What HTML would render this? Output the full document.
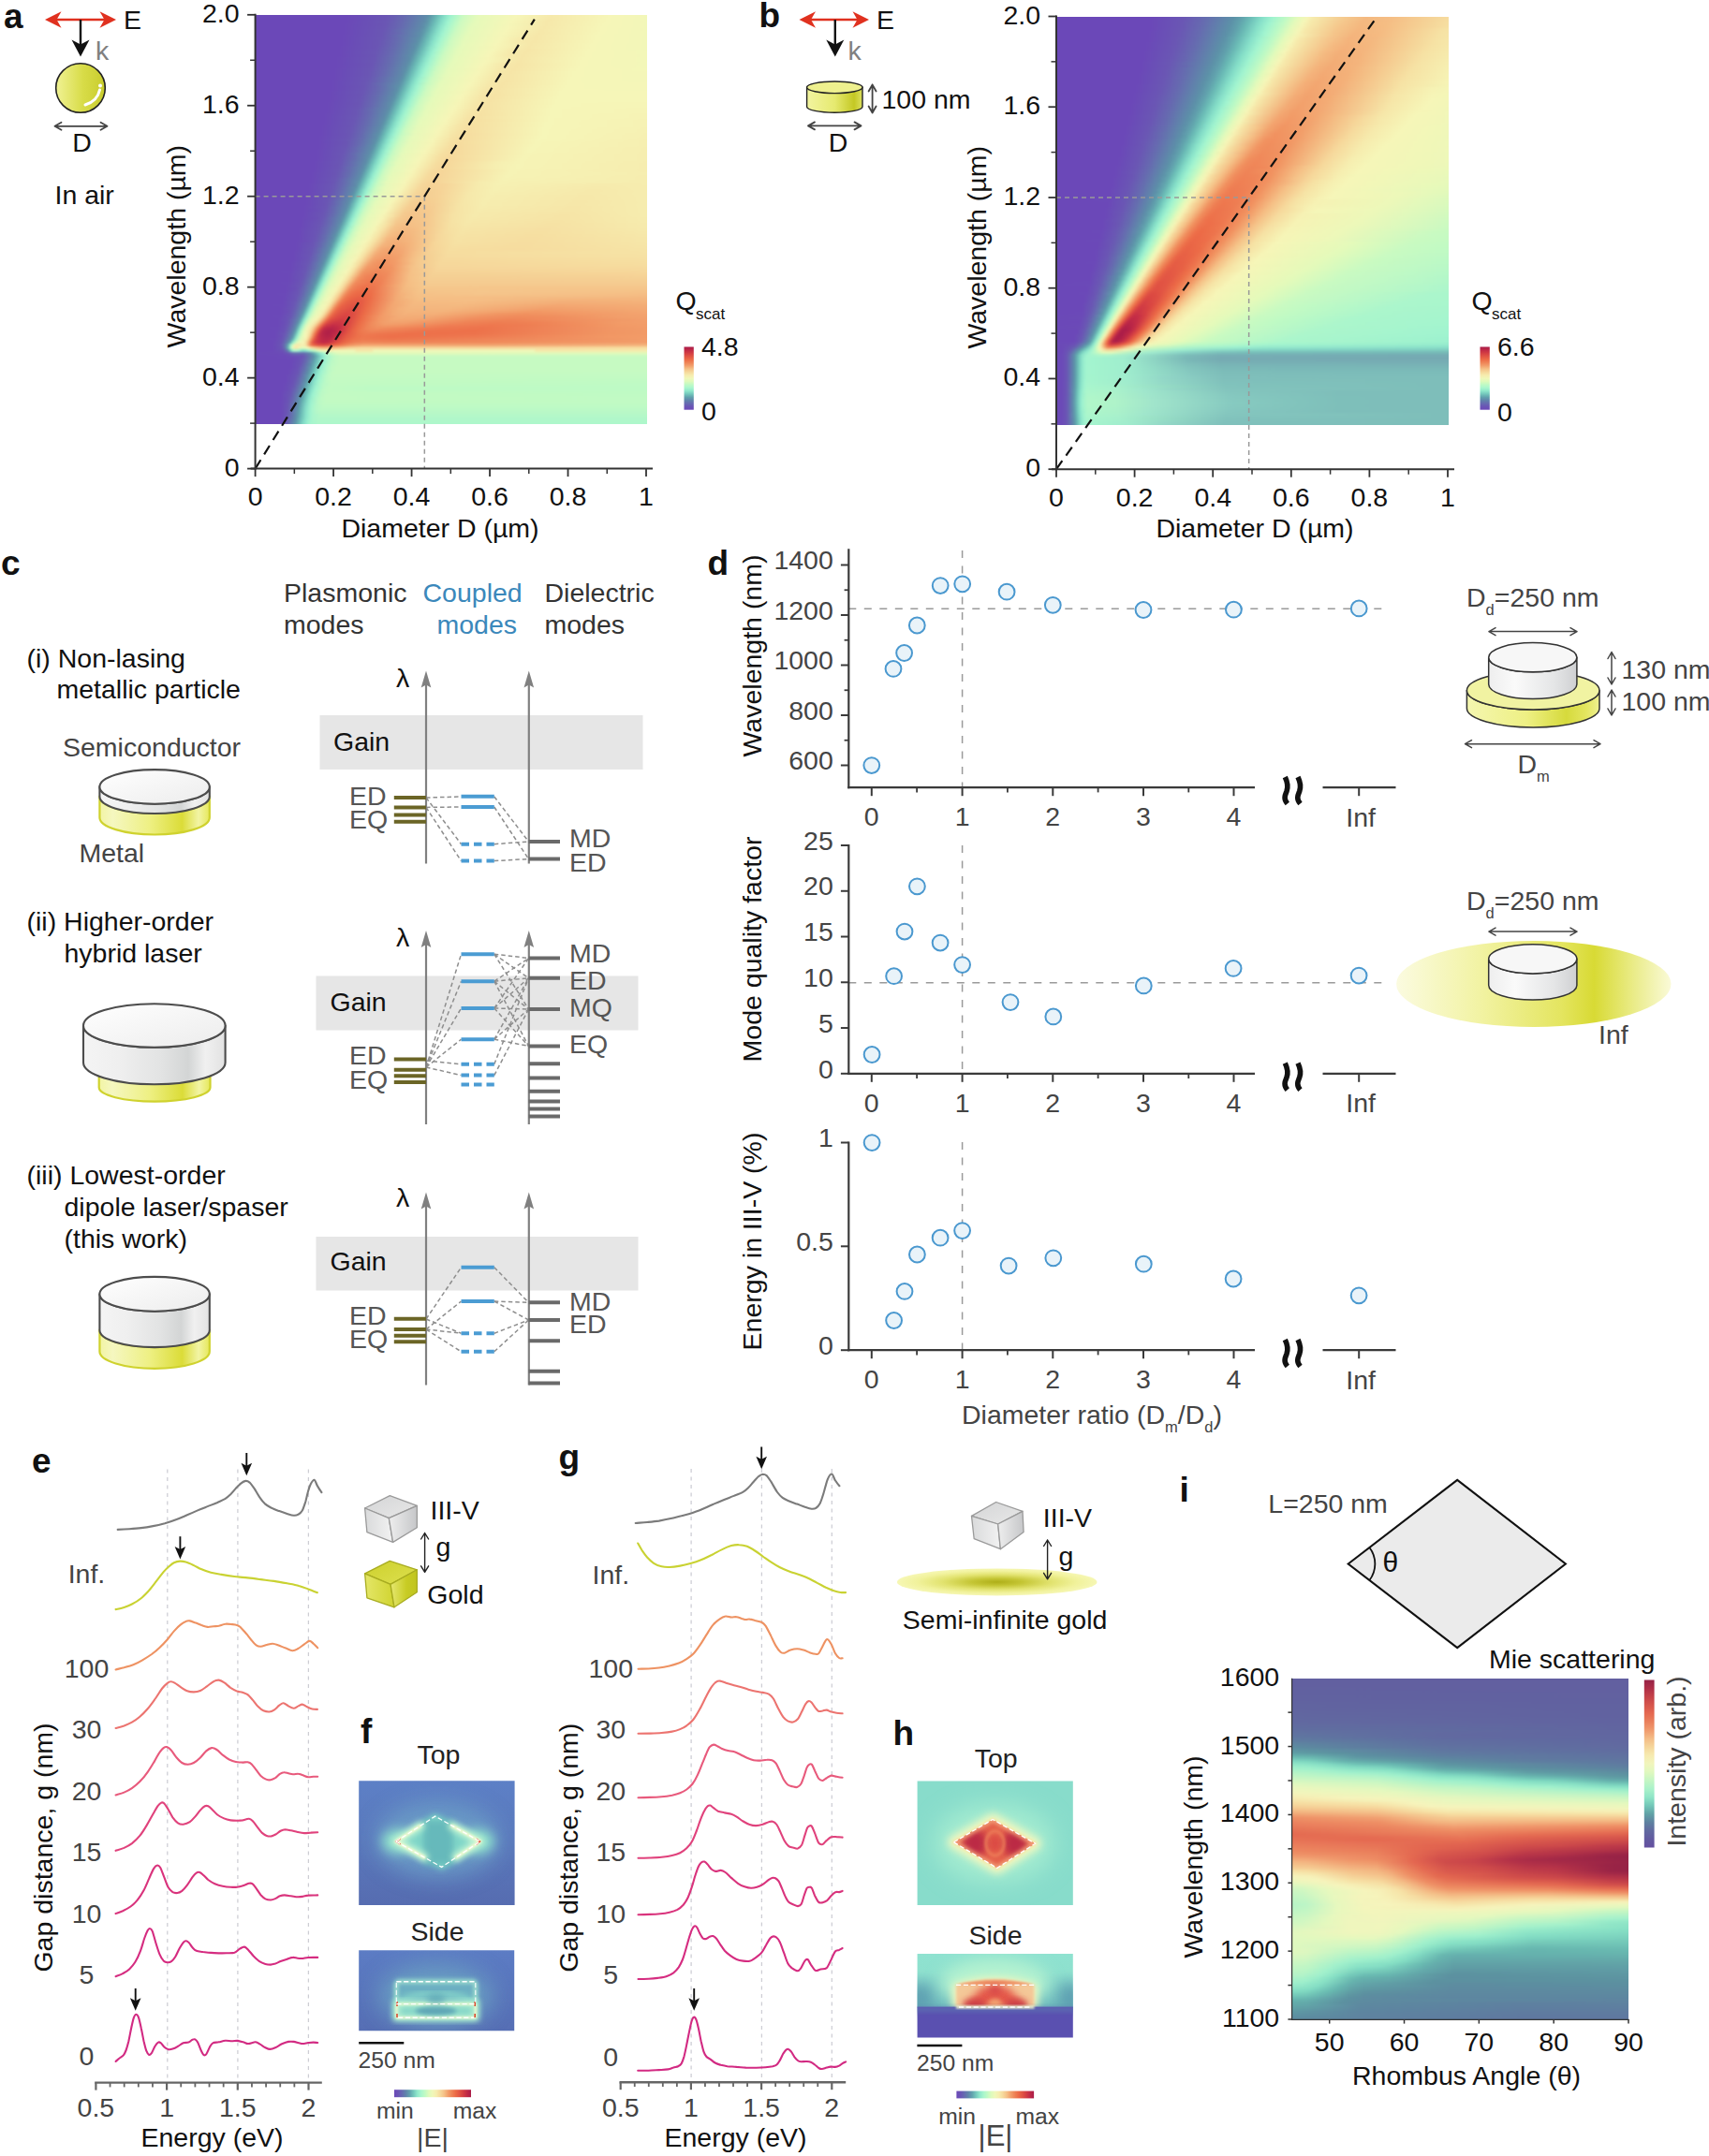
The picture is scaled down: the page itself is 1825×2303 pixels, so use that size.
<!DOCTYPE html>
<html><head><meta charset="utf-8"><title>figure</title>
<style>
html,body{margin:0;padding:0;background:#fff}
#root{position:relative;width:1825px;height:2303px;overflow:hidden;background:#fff}
#root i{display:block;width:100%}
svg{position:absolute;left:0;top:0}
text{font-family:'Liberation Sans', sans-serif}
</style></head><body>
<div id="root">
<div style="position:absolute;left:273px;top:15.8px;width:417.5px;height:437.4px;overflow:hidden">
<div style="position:absolute;left:-6px;top:-6px;width:429.5px;height:450px;filter:blur(1.2px)">
<i style="height:3px;background:linear-gradient(90deg,#6b48b8 0%,#6b48b8 23.9%,#6a57b4 34.59%,#666cb0 38.99%,#5c93a8 44.65%,#69bab5 46.54%,#87e0c9 48.43%,#a4f5ce 50.31%,#befac5 52.2%,#cffac0 53.46%,#e5faba 56.6%,#f6f6b8 66.04%,#f6e9ab 74.84%,#f6f6b8 89.31%,#f2f7b8 100%)"></i>
<i style="height:3px;background:linear-gradient(90deg,#6b48b8 0%,#6b48b8 23.9%,#6a57b4 34.59%,#666cb0 38.99%,#5c93a8 44.65%,#69bab5 46.54%,#87e0c9 48.43%,#a4f5ce 50.31%,#befac5 52.2%,#cffac0 53.46%,#e5faba 56.6%,#f6f6b8 66.04%,#f6e9ab 74.84%,#f6f6b8 89.31%,#f2f7b8 100%)"></i>
<i style="height:3px;background:linear-gradient(90deg,#6b48b8 0%,#6b48b8 23.9%,#6a55b4 33.96%,#656daf 38.99%,#5d8ca9 44.03%,#5d96a9 44.65%,#6cbdb7 46.54%,#89e2c9 48.43%,#9ef2cf 49.69%,#c1fac4 52.2%,#ccfac1 52.83%,#e6faba 56.6%,#f6f6b8 66.04%,#f6e9ab 74.84%,#f6f6b8 89.31%,#f2f7b8 100%)"></i>
<i style="height:3px;background:linear-gradient(90deg,#6b48b8 0%,#6b48b8 23.9%,#6a56b4 33.96%,#666bb0 38.36%,#5e8aaa 43.4%,#5f9cab 44.65%,#68b7b4 45.91%,#84dec8 47.8%,#a3f5cf 49.69%,#bdf9c5 51.57%,#cffac0 52.83%,#e5faba 55.97%,#f6f6b8 65.41%,#f6e8aa 74.21%,#f6f6b8 88.68%,#f2f7b8 100%)"></i>
<i style="height:3px;background:linear-gradient(90deg,#6b48b8 0%,#6b48b8 23.9%,#6a57b4 33.96%,#666cb0 38.36%,#5e8ca9 43.4%,#5d95a9 44.03%,#6cbdb7 45.91%,#89e2ca 47.8%,#9ef3d0 49.06%,#c2fac3 51.57%,#cdfac0 52.2%,#e6faba 55.97%,#f6f6b8 64.78%,#f6e8aa 73.58%,#f6f6b8 88.68%,#f2f7b8 100%)"></i>
<i style="height:3px;background:linear-gradient(90deg,#6b48b8 0%,#6b48b8 23.27%,#6a55b4 33.33%,#666ab0 37.74%,#5e8aaa 42.77%,#5f9bab 44.03%,#67b6b3 45.28%,#85dec8 47.17%,#a3f5cf 49.06%,#befac5 50.94%,#cffac0 52.2%,#e5faba 55.35%,#f5f6b8 64.15%,#f6e8aa 73.58%,#f6f6b8 88.05%,#f2f7b8 100%)"></i>
<i style="height:3px;background:linear-gradient(90deg,#6b48b8 0%,#6b48b8 23.27%,#6a56b4 33.33%,#666bb0 37.74%,#5e8ca9 42.77%,#5d94a9 43.4%,#6cbdb7 45.28%,#8ae2ca 47.17%,#9ff3d0 48.43%,#c3fac3 50.94%,#cdfac0 51.57%,#e4faba 54.72%,#f6f6b8 64.15%,#f6e8aa 72.96%,#f6f6b8 87.42%,#f2f7b8 100%)"></i>
<i style="height:3px;background:linear-gradient(90deg,#6b48b8 0%,#6b48b8 23.27%,#6a57b4 33.33%,#5e8aaa 42.14%,#5f9bab 43.4%,#67b6b3 44.65%,#85dfc8 46.54%,#a4f5cf 48.43%,#bffac5 50.31%,#d0fac0 51.57%,#e6faba 54.72%,#f6f6b8 63.52%,#f6e8aa 72.33%,#f6f6b8 87.42%,#f2f7b8 100%)"></i>
<i style="height:3px;background:linear-gradient(90deg,#6b48b8 0%,#6b48b8 23.27%,#6a56b4 32.7%,#666bb0 37.11%,#5c93a8 42.77%,#6cbdb7 44.65%,#8ae3ca 46.54%,#a0f4d0 47.8%,#bbf9c6 49.69%,#cefac0 50.94%,#e5faba 54.09%,#f6f6b8 62.89%,#f6e7a9 71.7%,#f6f6b8 86.79%,#f2f7b8 100%)"></i>
<i style="height:3px;background:linear-gradient(90deg,#6b48b8 0%,#6b48b8 22.64%,#6a56b4 32.7%,#5e89aa 41.51%,#5d8ea9 42.14%,#5f9aab 42.77%,#67b6b3 44.03%,#85dfc8 45.91%,#a4f5ce 47.8%,#c0fac4 49.69%,#cbfac1 50.31%,#e4faba 53.46%,#f5f6b8 62.26%,#f6e7a9 71.07%,#f6f6b8 86.16%,#f2f7b8 100%)"></i>
<i style="height:3px;background:linear-gradient(90deg,#6b48b8 0%,#6b48b8 22.64%,#6a57b4 32.7%,#666ab0 36.48%,#5c93a8 42.14%,#6bbdb6 44.03%,#8ae3ca 45.91%,#a0f4d0 47.17%,#bcf9c6 49.06%,#cffac0 50.31%,#e5faba 53.46%,#f6f6b8 62.26%,#f6eaac 67.3%,#f6e7a9 71.07%,#f6f6b8 86.16%,#f2f7b8 100%)"></i>
<i style="height:3px;background:linear-gradient(90deg,#6b48b8 0%,#6b48b8 22.64%,#6a56b4 32.08%,#666cb0 36.48%,#5e89aa 40.88%,#5d8ea9 41.51%,#5e99aa 42.14%,#67b5b3 43.4%,#85dfc8 45.28%,#a5f5ce 47.17%,#c1fac4 49.06%,#cdfac1 49.69%,#e4faba 52.83%,#f6f6b8 61.64%,#f6eaac 66.67%,#f6e7a9 70.44%,#f6f6b8 85.53%,#f2f7b8 100%)"></i>
<i style="height:3px;background:linear-gradient(90deg,#6b48b8 0%,#6b48b8 22.64%,#6a56b4 32.08%,#6669b0 35.85%,#5c92a8 41.51%,#6bbcb6 43.4%,#8be3ca 45.28%,#a1f4d0 46.54%,#bdf9c5 48.43%,#cffac0 49.69%,#e6faba 52.83%,#f6f6b8 61.01%,#f6e7a9 69.81%,#f6f6b8 84.91%,#f2f7b8 100%)"></i>
<i style="height:3px;background:linear-gradient(90deg,#6b48b8 0%,#6b48b8 22.01%,#6a55b4 31.45%,#666bb0 35.85%,#5d8da9 40.88%,#5e99aa 41.51%,#67b5b3 42.77%,#86dfc8 44.65%,#a6f5ce 46.54%,#c2fac3 48.43%,#cdfac0 49.06%,#e5faba 52.2%,#f6f5b7 61.01%,#f6e7a9 69.18%,#f6f6b8 84.91%,#f2f7b8 100%)"></i>
<i style="height:3px;background:linear-gradient(90deg,#6b48b8 0%,#6b48b8 22.01%,#6a56b4 31.45%,#656daf 35.85%,#5c91a8 40.88%,#6bbcb6 42.77%,#8be3ca 44.65%,#a1f4d0 45.91%,#befac5 47.8%,#d0fac0 49.06%,#e4faba 51.57%,#f6f6b8 60.38%,#f6e9ab 65.41%,#f6e6a8 69.18%,#f6f6b8 84.28%,#f2f7b8 100%)"></i>
<i style="height:3px;background:linear-gradient(90deg,#6b48b8 0%,#6b48b8 22.01%,#6a57b4 31.45%,#666ab0 35.22%,#5d8da9 40.25%,#5e98aa 40.88%,#67b5b3 42.14%,#86dfc9 44.03%,#9cf1cf 45.28%,#c4fac3 47.8%,#cefac0 48.43%,#e5faba 51.57%,#f6f6b8 59.75%,#f6e9ab 64.78%,#f6e6a8 68.55%,#f6f6b8 83.65%,#f3f7b8 100%)"></i>
<i style="height:3px;background:linear-gradient(90deg,#6b48b8 0%,#6b48b8 22.01%,#6a55b4 30.82%,#666cb0 35.22%,#5c91a8 40.25%,#6bbcb6 42.14%,#8be4ca 44.03%,#a2f4cf 45.28%,#bffac5 47.17%,#cbfac1 47.8%,#e4faba 50.94%,#f6f6b8 59.12%,#f6e9ab 64.15%,#f6e6a8 67.92%,#f6f6b8 83.65%,#f3f7b8 100%)"></i>
<i style="height:3px;background:linear-gradient(90deg,#6b48b8 0%,#6b48b8 21.38%,#6a56b4 30.82%,#656eaf 35.22%,#5d8ca9 39.62%,#5e97aa 40.25%,#67b5b3 41.51%,#86e0c9 43.4%,#9df1cf 44.65%,#baf9c6 46.54%,#cefac0 47.8%,#e6faba 50.94%,#f6f5b7 59.12%,#f6e6a8 67.3%,#f6f6b8 83.02%,#f3f7b8 100%)"></i>
<i style="height:3px;background:linear-gradient(90deg,#6b48b8 0%,#6b48b8 21.38%,#6a57b4 30.82%,#666bb0 34.59%,#5e8aaa 38.99%,#5c90a8 39.62%,#609eac 40.25%,#6bbcb6 41.51%,#8ce4ca 43.4%,#a3f4cf 44.65%,#c0fac4 46.54%,#ccfac1 47.17%,#e5faba 50.31%,#f6f6b8 58.49%,#f6e6a8 66.67%,#f6f6b8 82.39%,#f3f7b8 100%)"></i>
<i style="height:3px;background:linear-gradient(90deg,#6b48b8 0%,#6b48b8 21.38%,#6a55b4 30.19%,#656daf 34.59%,#5e8ca9 38.99%,#5d96a9 39.62%,#67b4b3 40.88%,#86e0c9 42.77%,#9df2cf 44.03%,#bbf9c6 45.91%,#cffac0 47.17%,#e4faba 49.69%,#f6f6b8 57.86%,#f6e8aa 62.89%,#f6e5a7 66.67%,#f6f6b8 82.39%,#f3f7b8 100%)"></i>
<i style="height:3px;background:linear-gradient(90deg,#6b48b8 0%,#6b48b8 21.38%,#6a56b4 30.19%,#666ab0 33.96%,#5e8aaa 38.36%,#5d90a8 38.99%,#609eac 39.62%,#6bbcb6 40.88%,#81dac6 42.14%,#98eece 43.4%,#a3f5cf 44.03%,#c1fac4 45.91%,#cdfac0 46.54%,#e5faba 49.69%,#f6f6b8 57.23%,#f6e9ab 62.26%,#f6e5a7 66.04%,#f6f6b8 81.76%,#f3f7b8 100%)"></i>
<i style="height:3px;background:linear-gradient(90deg,#6b48b8 0%,#6b48b8 20.75%,#6a57b4 30.19%,#666cb0 33.96%,#5e8ca9 38.36%,#5d96a9 38.99%,#67b4b3 40.25%,#87e0c9 42.14%,#9ef3cf 43.4%,#bcf9c5 45.28%,#d0fac0 46.54%,#e4faba 49.06%,#f6f5b7 57.23%,#f6e8aa 62.26%,#f6e5a7 65.41%,#f6f6b8 81.13%,#f4f7b8 100%)"></i>
<i style="height:3px;background:linear-gradient(90deg,#6b48b8 0%,#6b48b8 20.75%,#6a56b4 29.56%,#666ab0 33.33%,#5e89aa 37.74%,#5d8fa9 38.36%,#5f9dab 38.99%,#6bbbb6 40.25%,#81dac6 41.51%,#98eece 42.77%,#a4f5cf 43.4%,#c2fac3 45.28%,#cefac0 45.91%,#e6faba 49.06%,#f6f6b8 56.6%,#f6e8aa 61.64%,#f6e5a7 64.78%,#f6f6b8 80.5%,#f4f6b8 100%)"></i>
<i style="height:3px;background:linear-gradient(90deg,#6b48b8 0%,#6b48b8 20.75%,#6a56b4 29.56%,#666bb0 33.33%,#5e8ba9 37.74%,#5d95a9 38.36%,#67b4b3 39.62%,#87e0c9 41.51%,#9ff3d0 42.77%,#bdfac5 44.65%,#d1fabf 45.91%,#e5faba 48.43%,#f6f6b8 55.97%,#f6e8aa 61.01%,#f6e5a7 64.15%,#f6f6b8 80.5%,#f4f6b8 100%)"></i>
<i style="height:3px;background:linear-gradient(90deg,#6b48b8 0%,#6b48b8 20.75%,#6a58b4 29.56%,#5e89aa 37.11%,#5d8ea9 37.74%,#5f9cab 38.36%,#6abbb6 39.62%,#81dac6 40.88%,#99efce 42.14%,#c4fac3 44.65%,#cefac0 45.28%,#e7f9ba 48.43%,#f6f6b8 55.35%,#f6e8aa 60.38%,#f6e5a7 64.15%,#f6f6b8 79.87%,#f4f6b8 100%)"></i>
<i style="height:3px;background:linear-gradient(90deg,#6b48b8 0%,#6b48b8 20.13%,#6a56b4 28.93%,#666ab0 32.7%,#5e8ba9 37.11%,#5d94a9 37.74%,#67b3b3 38.99%,#87e1c9 40.88%,#a0f4d0 42.14%,#befac5 44.03%,#cbfac1 44.65%,#e5faba 47.8%,#f6f5b7 55.35%,#f6e7a9 60.38%,#f6e4a6 63.52%,#f6f6b8 79.25%,#f4f6b8 100%)"></i>
<i style="height:3px;background:linear-gradient(90deg,#6b48b8 0%,#6b48b8 20.13%,#6a57b4 28.93%,#5f89aa 36.48%,#5d8ea9 37.11%,#5f9bab 37.74%,#6abbb6 38.99%,#82dbc6 40.25%,#9aefce 41.51%,#c6fac2 44.03%,#e4faba 47.17%,#f6f6b8 54.72%,#f6e7a9 59.75%,#f6e4a6 62.89%,#f6f6b8 79.25%,#f5f6b8 100%)"></i>
<i style="height:3px;background:linear-gradient(90deg,#6b48b8 0%,#6b48b8 20.13%,#6a55b4 28.3%,#666ab0 32.08%,#5c93a8 37.11%,#66b3b2 38.36%,#88e1c9 40.25%,#a0f4d0 41.51%,#c0fac4 43.4%,#cdfac0 44.03%,#e6faba 47.17%,#f6f6b8 54.09%,#f6e7a9 59.12%,#f6e4a6 62.26%,#f6f6b8 78.62%,#f5f6b8 100%)"></i>
<i style="height:3px;background:linear-gradient(90deg,#6b48b8 0%,#6b48b8 20.13%,#6a56b4 28.3%,#666bb0 32.08%,#5d8da9 36.48%,#5f9bab 37.11%,#6abbb5 38.36%,#82dbc6 39.62%,#8ee6cb 40.25%,#a6f5ce 41.51%,#bbf9c6 42.77%,#d0fac0 44.03%,#e5faba 46.54%,#f5f6b8 53.46%,#f6e7a9 58.49%,#f6e4a6 61.64%,#f6f6b8 77.99%,#f5f6b8 100%)"></i>
<i style="height:3px;background:linear-gradient(90deg,#6b48b8 0%,#6b48b8 19.5%,#6a57b4 28.3%,#656daf 32.08%,#5c92a8 36.48%,#66b3b2 37.74%,#88e1c9 39.62%,#a1f4d0 40.88%,#c1fac4 42.77%,#cdfac0 43.4%,#e4faba 45.91%,#f6f5b7 53.46%,#f6e6a8 58.49%,#f6e4a6 61.64%,#f6f6b8 77.36%,#f6f6b8 100%)"></i>
<i style="height:3px;background:linear-gradient(90deg,#6b48b8 0%,#6b48b8 19.5%,#6a55b4 27.67%,#666bb0 31.45%,#5d8da9 35.85%,#5e9aaa 36.48%,#6abbb5 37.74%,#82dbc7 38.99%,#8ee6cb 39.62%,#a7f5ce 40.88%,#bcf9c6 42.14%,#d0fabf 43.4%,#e5faba 45.91%,#f6f6b8 52.83%,#f6e6a8 57.86%,#f6e3a5 61.01%,#f6f6b8 77.36%,#f6f6b8 100%)"></i>
<i style="height:3px;background:linear-gradient(90deg,#6b48b8 0%,#6b48b8 19.5%,#6a56b4 27.67%,#656daf 31.45%,#5c91a8 35.85%,#66b2b2 37.11%,#88e1c9 38.99%,#a2f4cf 40.25%,#c3fac3 42.14%,#cefac0 42.77%,#e4faba 45.28%,#f6f6b8 52.2%,#f6e6a8 57.23%,#f6e3a5 60.38%,#f6f6b8 76.73%,#f6f6b8 100%)"></i>
<i style="height:3px;background:linear-gradient(90deg,#6b48b8 0%,#6b48b8 19.5%,#6a57b4 27.67%,#666ab0 30.82%,#5d8ca9 35.22%,#5e99aa 35.85%,#6abab5 37.11%,#82dcc7 38.36%,#9cf1cf 39.62%,#bdf9c5 41.51%,#cbfac1 42.14%,#e6faba 45.28%,#f6f5b7 52.2%,#f6e7a9 56.6%,#f6e3a5 59.75%,#f6f6b8 76.1%,#f6f6b8 100%)"></i>
<i style="height:3px;background:linear-gradient(90deg,#6b48b8 0%,#6b48b8 18.87%,#6a55b4 27.04%,#666cb0 30.82%,#5c91a8 35.22%,#66b2b2 36.48%,#89e2c9 38.36%,#a2f4cf 39.62%,#c4fac3 41.51%,#cffac0 42.14%,#e5faba 44.65%,#f6f5b7 51.57%,#f6e7a9 55.97%,#f6e3a5 59.12%,#f6f6b8 76.1%,#f6f5b7 100%)"></i>
<i style="height:3px;background:linear-gradient(90deg,#6b48b8 0%,#6b48b8 18.87%,#6a56b4 27.04%,#6669b0 30.19%,#5e8ca9 34.59%,#5e98aa 35.22%,#69bab5 36.48%,#82dcc7 37.74%,#9cf1cf 38.99%,#befac5 40.88%,#ccfac1 41.51%,#e4faba 44.03%,#f6f6b8 50.94%,#f6e6a8 55.97%,#f6e3a5 59.12%,#f6f6b8 75.47%,#f6f5b7 100%)"></i>
<i style="height:3px;background:linear-gradient(90deg,#6b48b8 0%,#6b48b8 18.87%,#6a58b4 27.04%,#5e89aa 33.96%,#5c90a8 34.59%,#61a0ad 35.22%,#70c2b9 36.48%,#89e2c9 37.74%,#96eccd 38.36%,#a3f5cf 38.99%,#c6fac2 40.88%,#e6faba 44.03%,#f6f6b8 50.31%,#f6e6a8 55.35%,#f6e2a4 58.49%,#f6f6b8 74.84%,#f6f4b6 100%)"></i>
<i style="height:3px;background:linear-gradient(90deg,#6b48b8 0%,#6b48b8 18.87%,#6a56b4 26.42%,#656daf 30.19%,#5e8ca9 33.96%,#5e97aa 34.59%,#69bab5 35.85%,#83dcc7 37.11%,#9df2cf 38.36%,#c0fac4 40.25%,#cdfac0 40.88%,#e4faba 43.4%,#f6f5b7 50.31%,#f6e6a8 54.72%,#f6e2a4 57.86%,#f6f6b8 74.84%,#f6f4b6 100%)"></i>
<i style="height:3px;background:linear-gradient(90deg,#6b48b8 0%,#6b48b8 18.24%,#6a56b4 26.42%,#666ab0 29.56%,#5e89aa 33.33%,#5d8fa9 33.96%,#60a0ac 34.59%,#70c2b9 35.85%,#89e2c9 37.11%,#a4f5cf 38.36%,#baf9c6 39.62%,#d0fabf 40.88%,#e6faba 43.4%,#f6f5b7 49.69%,#f6e6a8 54.09%,#f6e1a3 57.23%,#f6f6b8 74.84%,#f6f3b5 100%)"></i>
<i style="height:3px;background:linear-gradient(90deg,#6b48b8 0%,#6b48b8 18.24%,#6a58b4 26.42%,#666cb0 29.56%,#5e8ba9 33.33%,#5d96a9 33.96%,#69b9b5 35.22%,#83ddc7 36.48%,#9ef2cf 37.74%,#c1fac4 39.62%,#cefac0 40.25%,#e5faba 42.77%,#f6f6b8 49.06%,#f6e4a6 54.09%,#f6e1a3 56.6%,#f6f6b8 74.21%,#f6f3b5 100%)"></i>
<i style="height:3px;background:linear-gradient(90deg,#6b48b8 0%,#6b48b8 18.24%,#6a56b4 25.79%,#6669b0 28.93%,#5f89aa 32.7%,#5d8fa9 33.33%,#609fac 33.96%,#70c2b9 35.22%,#8ae2ca 36.48%,#a4f5ce 37.74%,#bcf9c6 38.99%,#cafac1 39.62%,#e4faba 42.14%,#f6f6b8 48.43%,#f6e4a6 53.46%,#f6e0a2 56.6%,#f6f6b8 74.21%,#f6f2b4 100%)"></i>
<i style="height:3px;background:linear-gradient(90deg,#6b48b8 0%,#6b48b8 18.24%,#6a57b4 25.79%,#666bb0 28.93%,#5e8ba9 32.7%,#5d95a9 33.33%,#69b9b5 34.59%,#83ddc7 35.85%,#9ff3d0 37.11%,#c3fac3 38.99%,#cffac0 39.62%,#e6faba 42.14%,#f6f5b7 48.43%,#f6e4a6 52.83%,#f6e0a2 55.97%,#f6f6b8 73.58%,#f6f2b4 100%)"></i>
<i style="height:3px;background:linear-gradient(90deg,#6b48b8 0%,#6b48b8 17.61%,#6a55b4 25.16%,#6668b0 28.3%,#5f88aa 32.08%,#5d8ea9 32.7%,#609eac 33.33%,#6fc2b9 34.59%,#8ae3ca 35.85%,#a5f5ce 37.11%,#bdf9c5 38.36%,#cbfac1 38.99%,#e4faba 41.51%,#f6f5b7 47.8%,#f6e4a6 52.2%,#f6dfa1 55.35%,#f6f6b8 73.58%,#f6f2b4 100%)"></i>
<i style="height:3px;background:linear-gradient(90deg,#6b48b8 0%,#6b48b8 17.61%,#6a56b4 25.16%,#666ab0 28.3%,#5e8ba9 32.08%,#5d94a9 32.7%,#69b9b4 33.96%,#84ddc8 35.22%,#a0f4d0 36.48%,#c5fac3 38.36%,#cffac0 38.99%,#e6f9ba 41.51%,#f6f6b8 47.17%,#f6e5a7 51.57%,#f6dea1 54.72%,#f6f6b8 72.96%,#f6f1b3 100%)"></i>
<i style="height:3px;background:linear-gradient(90deg,#6b48b8 0%,#6b48b8 17.61%,#6a57b4 25.16%,#666cb0 28.3%,#5d8da9 32.08%,#609dac 32.7%,#6fc2b9 33.96%,#8ae3ca 35.22%,#a6f5ce 36.48%,#befac5 37.74%,#cdfac0 38.36%,#e5faba 40.88%,#f6f6b8 46.54%,#f6e3a5 51.57%,#f6dea0 54.09%,#f6f6b8 72.96%,#f6f1b3 100%)"></i>
<i style="height:3px;background:linear-gradient(90deg,#6b48b8 0%,#6b48b8 17.61%,#6a55b4 24.53%,#6669b0 27.67%,#5c93a8 32.08%,#68b9b4 33.33%,#84dec8 34.59%,#a0f4d0 35.85%,#c6fac2 37.74%,#e7f9ba 40.88%,#f6f5b7 46.54%,#f6e3a5 50.94%,#f6dda0 54.09%,#f6f6b8 72.96%,#f6f0b2 100%)"></i>
<i style="height:3px;background:linear-gradient(90deg,#6b48b8 0%,#6b48b8 16.98%,#6a56b4 24.53%,#666bb0 27.67%,#5d8da9 31.45%,#5f9cab 32.08%,#6fc2b9 33.33%,#8be3ca 34.59%,#a7f5cd 35.85%,#c0fac4 37.11%,#cefac0 37.74%,#e6faba 40.25%,#f6f5b7 45.91%,#f6e1a3 50.94%,#f6dd9f 53.46%,#f6f6b8 72.33%,#f6f0b2 100%)"></i>
<i style="height:3px;background:linear-gradient(90deg,#6b48b8 0%,#6b48b8 16.98%,#6a58b4 24.53%,#656daf 27.67%,#5c92a8 31.45%,#68b8b4 32.7%,#84dec8 33.96%,#a1f4d0 35.22%,#c8fac2 37.11%,#e4faba 39.62%,#f6f6b8 45.28%,#f6e1a3 50.31%,#f6dc9f 52.83%,#f6f6b8 71.7%,#f6efb1 100%)"></i>
<i style="height:3px;background:linear-gradient(90deg,#6b48b8 0%,#6b48b8 16.98%,#6a55b4 23.9%,#666ab0 27.04%,#5e8ca9 30.82%,#5f9bab 31.45%,#6fc2b9 32.7%,#8be4ca 33.96%,#a8f5cd 35.22%,#c1fac4 36.48%,#cefac0 37.11%,#e7f9ba 39.62%,#f6f4b6 45.28%,#f6e1a3 49.69%,#f6dc9e 52.2%,#f6f5b7 71.07%,#f6efb1 100%)"></i>
<i style="height:3px;background:linear-gradient(90deg,#6b48b8 0%,#6b48b8 16.98%,#6a56b4 23.9%,#666cb0 27.04%,#5c92a8 30.82%,#68b8b4 32.08%,#84dec8 33.33%,#a2f4cf 34.59%,#bbf9c6 35.85%,#cafac1 36.48%,#e5faba 38.99%,#f6f5b7 44.65%,#f6dfa1 49.69%,#f6db9e 52.2%,#f6f5b7 70.44%,#f6efb1 100%)"></i>
<i style="height:3px;background:linear-gradient(90deg,#6b48b8 0%,#6b48b8 16.98%,#6a58b4 23.9%,#5e8ca9 30.19%,#5f9aab 30.82%,#6fc2b9 32.08%,#7dd5c3 32.7%,#9bf0cf 33.96%,#c3fac3 35.85%,#cffac0 36.48%,#e4faba 38.36%,#f6f5b7 44.03%,#f6dfa1 49.06%,#f6da9d 51.57%,#f6f5b7 69.81%,#f6eeb0 100%)"></i>
<i style="height:3px;background:linear-gradient(90deg,#6b48b8 0%,#6b48b8 16.35%,#6a56b4 23.27%,#666bb0 26.42%,#5c91a8 30.19%,#68b8b4 31.45%,#85dfc8 32.7%,#a3f5cf 33.96%,#bdf9c5 35.22%,#ccfac1 35.85%,#e6faba 38.36%,#f6f6b8 43.4%,#f6dfa1 48.43%,#f6da9d 50.94%,#f6f5b7 69.18%,#f6eeb0 100%)"></i>
<i style="height:3px;background:linear-gradient(90deg,#6b48b8 0%,#6b48b8 16.35%,#6a57b4 23.27%,#5e8ca9 29.56%,#5e9aaa 30.19%,#6fc1b9 31.45%,#7ed5c3 32.08%,#9cf1cf 33.33%,#c5fac3 35.22%,#e5faba 37.74%,#f6f4b6 43.4%,#f6dfa1 47.8%,#f6d99c 50.31%,#f6f4b6 68.55%,#f6eeb0 100%)"></i>
<i style="height:3px;background:linear-gradient(90deg,#6b48b8 0%,#6b48b8 16.35%,#6a55b4 22.64%,#666ab0 25.79%,#5d90a8 29.56%,#68b7b4 30.82%,#85dfc8 32.08%,#a4f5cf 33.33%,#befac5 34.59%,#cdfac0 35.22%,#e7f9ba 37.74%,#f6f5b7 42.77%,#f6dfa1 47.17%,#f6d99c 49.69%,#f6f4b6 67.92%,#f6eeb0 100%)"></i>
<i style="height:3px;background:linear-gradient(90deg,#6b48b8 0%,#6b48b8 16.35%,#6a56b4 22.64%,#656daf 25.79%,#5e8ba9 28.93%,#5e99aa 29.56%,#6fc1b9 30.82%,#7ed6c4 31.45%,#9df2cf 32.7%,#c7fac2 34.59%,#e5faba 37.11%,#f6f6b8 42.14%,#f6dd9f 47.17%,#f6d89b 49.69%,#f6f4b6 67.3%,#f6eeb0 100%)"></i>
<i style="height:3px;background:linear-gradient(90deg,#6b48b8 0%,#6b48b8 15.72%,#6a57b4 22.64%,#5f88aa 28.3%,#5d8fa9 28.93%,#61a2ad 29.56%,#68b7b4 30.19%,#85dfc8 31.45%,#a5f5ce 32.7%,#bffac4 33.96%,#cefac0 34.59%,#e4faba 36.48%,#f6f6b8 41.51%,#f6dd9f 46.54%,#f6d89b 49.06%,#f6efb1 61.64%,#f6f4b6 67.3%,#f6edaf 100%)"></i>
<i style="height:3px;background:linear-gradient(90deg,#6b48b8 0%,#6b48b8 15.72%,#6a55b4 22.01%,#666cb0 25.16%,#5e8ba9 28.3%,#5e97aa 28.93%,#6fc1b9 30.19%,#7ed6c4 30.82%,#9ef2cf 32.08%,#c9fac1 33.96%,#e6faba 36.48%,#f6f4b6 41.51%,#f6dd9f 45.91%,#f6d79a 48.43%,#f6efb1 61.01%,#f6f4b6 66.67%,#f6edaf 100%)"></i>
<i style="height:3px;background:linear-gradient(90deg,#6b48b8 0%,#6b48b8 15.72%,#6a56b4 22.01%,#5f87aa 27.67%,#5d8ea9 28.3%,#61a1ad 28.93%,#68b6b4 29.56%,#86dfc9 30.82%,#a5f5ce 32.08%,#c1fac4 33.33%,#cffac0 33.96%,#e5faba 35.85%,#f6f5b7 40.88%,#f6dda0 45.28%,#f6d79a 47.8%,#f6eeb0 60.38%,#f6f4b6 66.04%,#f6edaf 100%)"></i>
<i style="height:3px;background:linear-gradient(90deg,#6b48b8 0%,#6b48b8 15.72%,#6a57b4 22.01%,#666ab0 24.53%,#5e8aaa 27.67%,#5d96a9 28.3%,#6fc1b9 29.56%,#8ee6cb 30.82%,#9ff3d0 31.45%,#bbf9c6 32.7%,#ccfac1 33.33%,#e2fabb 35.22%,#f6f6b8 40.25%,#f6da9d 45.28%,#f6d699 47.8%,#f6f3b5 64.78%,#f6edaf 100%)"></i>
<i style="height:3px;background:linear-gradient(90deg,#6b48b8 0%,#6b48b8 15.09%,#6a55b4 21.38%,#656daf 24.53%,#5d8da9 27.67%,#61a1ad 28.3%,#67b6b3 28.93%,#86e0c9 30.19%,#97edcd 30.82%,#a6f5ce 31.45%,#c3fac3 32.7%,#d0fac0 33.33%,#e5faba 35.22%,#f6f4b6 40.25%,#f6da9d 44.65%,#f6d599 47.17%,#f6f3b5 64.15%,#f6eeb0 100%)"></i>
<i style="height:3px;background:linear-gradient(90deg,#6b48b8 0%,#6b48b8 15.09%,#6a56b4 21.38%,#6669b0 23.9%,#5e8aaa 27.04%,#5d95a9 27.67%,#6ec1b9 28.93%,#8ee6cb 30.19%,#a0f4d0 30.82%,#bcf9c5 32.08%,#cdfac0 32.7%,#e4faba 34.59%,#f6f5b7 39.62%,#f6db9d 44.03%,#f6d498 46.54%,#f6f3b5 63.52%,#f6edaf 100%)"></i>
<i style="height:3px;background:linear-gradient(90deg,#6b48b8 0%,#6b48b8 15.09%,#6a58b4 21.38%,#5d8da9 27.04%,#60a0ac 27.67%,#67b6b3 28.3%,#87e0c9 29.56%,#98edce 30.19%,#a7f5cd 30.82%,#c6fac2 32.08%,#e6faba 34.59%,#f6f5b7 38.99%,#f6db9e 43.4%,#f6d497 45.91%,#f6f2b4 62.89%,#f6edaf 100%)"></i>
<i style="height:3px;background:linear-gradient(90deg,#6b48b8 0%,#6b48b8 15.09%,#6a55b4 20.75%,#656faf 23.9%,#5d94a9 27.04%,#6ec1b8 28.3%,#8fe7cb 29.56%,#a1f4d0 30.19%,#befac5 31.45%,#cefac0 32.08%,#e5faba 33.96%,#f6f6b8 38.36%,#f6d79b 43.4%,#f6d397 45.91%,#f6ecae 57.23%,#f6f1b3 62.26%,#f6edaf 100%)"></i>
<i style="height:3px;background:linear-gradient(90deg,#6b48b8 0%,#6b48b8 14.47%,#6a57b4 20.75%,#666bb0 23.27%,#5e8ca9 26.42%,#609fac 27.04%,#67b5b3 27.67%,#87e0c9 28.93%,#98eece 29.56%,#a8f6cd 30.19%,#c8fac2 31.45%,#e7f9ba 33.96%,#f6f4b6 38.36%,#f6d79b 42.77%,#f6d296 45.28%,#f6d599 48.43%,#f6ebad 56.6%,#f6f1b3 61.64%,#f6ebad 86.79%,#f6edaf 100%)"></i>
<i style="height:3px;background:linear-gradient(90deg,#6b48b8 0%,#6b48b8 14.47%,#6a58b4 20.75%,#656eaf 23.27%,#5c93a8 26.42%,#6ec0b8 27.67%,#90e7cb 28.93%,#a2f4cf 29.56%,#bffac4 30.82%,#cffac0 31.45%,#e5faba 33.33%,#f6f5b7 37.74%,#f6d89b 42.14%,#f5d195 44.65%,#f6d498 47.8%,#f6eaac 55.97%,#f6f0b2 61.01%,#f6eaac 86.16%,#f6edaf 100%)"></i>
<i style="height:3px;background:linear-gradient(90deg,#6b48b8 0%,#6b48b8 14.47%,#6a56b4 20.13%,#666ab0 22.64%,#5e8ca9 25.79%,#609eac 26.42%,#67b5b3 27.04%,#88e1c9 28.3%,#99efce 28.93%,#cafac1 30.82%,#e8f9ba 33.33%,#f6f6b8 37.11%,#f6d89b 41.51%,#f5d094 44.03%,#f6d397 47.17%,#f6e9ab 55.35%,#f6f0b2 60.38%,#f6e9ab 85.53%,#f6edaf 100%)"></i>
<i style="height:3px;background:linear-gradient(90deg,#6b48b8 0%,#6b48b8 14.47%,#6a57b4 20.13%,#666cb0 22.64%,#5c92a8 25.79%,#6ec0b8 27.04%,#90e8cc 28.3%,#a3f4cf 28.93%,#c1fac4 30.19%,#d0fac0 30.82%,#e6f9ba 32.7%,#f6f3b5 37.11%,#f6d498 41.51%,#f5cf93 44.03%,#f6d397 47.17%,#f6e9ab 54.72%,#f6efb1 59.75%,#f6e9ab 84.28%,#f6edaf 100%)"></i>
<i style="height:3px;background:linear-gradient(90deg,#6b48b8 0%,#6b48b8 13.84%,#6a55b4 19.5%,#6669b0 22.01%,#5e8ba9 25.16%,#5f9dab 25.79%,#67b4b3 26.42%,#88e1c9 27.67%,#9af0ce 28.3%,#cdfac1 30.19%,#e5faba 32.08%,#f4f6b8 35.85%,#f6d498 40.88%,#f5ce93 43.4%,#f6d296 46.54%,#f6e8aa 54.09%,#f6eeb0 59.12%,#f6e8aa 83.65%,#f6edaf 100%)"></i>
<i style="height:3px;background:linear-gradient(90deg,#6b48b8 0%,#6b48b8 13.84%,#6a56b4 19.5%,#666bb0 22.01%,#5c91a8 25.16%,#6ec0b8 26.42%,#7fd8c5 27.04%,#91e8cc 27.67%,#a4f5cf 28.3%,#c4fac3 29.56%,#d1fabf 30.19%,#e7f9ba 32.08%,#f6f5b7 35.85%,#f6d498 40.25%,#f5cd91 42.77%,#f6d295 46.54%,#f6e7a9 53.46%,#f6eeb0 58.49%,#f6e8aa 83.02%,#f6edaf 100%)"></i>
<i style="height:3px;background:linear-gradient(90deg,#6b48b8 0%,#6b48b8 13.84%,#6a57b4 19.5%,#5e8ba9 24.53%,#5f9cab 25.16%,#67b4b3 25.79%,#89e2c9 27.04%,#9bf0cf 27.67%,#bcf9c6 28.93%,#cefac0 29.56%,#e6faba 31.45%,#f6f6b8 35.22%,#f5d094 40.25%,#f5cb90 42.77%,#f5d094 45.91%,#f6e6a8 52.83%,#f6edaf 57.86%,#f6e7a9 82.39%,#f6edaf 100%)"></i>
<i style="height:3px;background:linear-gradient(90deg,#6b48b8 0%,#6b48b8 13.84%,#6a55b4 18.87%,#666ab0 21.38%,#5d90a8 24.53%,#6ec0b8 25.79%,#80d8c5 26.42%,#92e9cc 27.04%,#a5f5ce 27.67%,#c6fac2 28.93%,#e4faba 30.82%,#f5f6b8 34.59%,#f5d094 39.62%,#f5ca8f 42.14%,#f5cf94 45.91%,#f6e5a7 52.2%,#f6edaf 57.86%,#f6e7a9 81.13%,#f6edaf 100%)"></i>
<i style="height:3px;background:linear-gradient(90deg,#6b48b8 0%,#6b48b8 13.21%,#6a56b4 18.87%,#5e8aaa 23.9%,#5f9aab 24.53%,#66b3b2 25.16%,#89e2c9 26.42%,#9cf1cf 27.04%,#befac5 28.3%,#cffac0 28.93%,#e7f9ba 30.82%,#f6f4b6 34.59%,#f5cf93 38.99%,#f5c88d 41.51%,#f5cd92 45.28%,#f6e4a6 51.57%,#f6ecae 57.23%,#f6e6a8 80.5%,#f6edaf 100%)"></i>
<i style="height:3px;background:linear-gradient(90deg,#6b48b8 0%,#6b48b8 13.21%,#6a4fb6 16.98%,#6a58b4 18.87%,#6669b0 20.75%,#5d8fa9 23.9%,#62a6ae 24.53%,#6dbfb8 25.16%,#80d9c5 25.79%,#93eacc 26.42%,#a6f5ce 27.04%,#c9fac2 28.3%,#e5faba 30.19%,#f6f6b8 33.96%,#f5cf93 38.36%,#f5c78c 40.88%,#f5cb90 44.65%,#f6e4a6 51.57%,#f6ebad 56.6%,#f6e6a8 79.87%,#f6edaf 100%)"></i>
<i style="height:3px;background:linear-gradient(90deg,#6b48b8 0%,#6b48b8 13.21%,#6a55b4 18.24%,#666bb0 20.75%,#5e8aaa 23.27%,#5e99aa 23.9%,#66b3b2 24.53%,#8ae2ca 25.79%,#9df2cf 26.42%,#bffac4 27.67%,#d0fac0 28.3%,#e2fabb 29.56%,#f5f6b8 33.33%,#f5ca8f 38.36%,#f5c58b 40.88%,#f5cb90 44.65%,#f6e3a5 50.94%,#f6eaac 55.97%,#f6e5a7 79.25%,#f6edaf 100%)"></i>
<i style="height:3px;background:linear-gradient(90deg,#6b48b8 0%,#6b48b8 13.21%,#6a56b4 18.24%,#656eaf 20.75%,#5d8ea9 23.27%,#62a5ae 23.9%,#6dbfb8 24.53%,#80d9c5 25.16%,#94eacc 25.79%,#a7f5cd 26.42%,#ccfac1 27.67%,#e6faba 29.56%,#f4f6b8 32.7%,#f6e4a6 35.22%,#f5ca8f 37.74%,#f5c489 40.25%,#f5c98e 44.03%,#f6e2a4 50.31%,#f6eaac 55.35%,#f6e4a6 77.99%,#f6edaf 100%)"></i>
<i style="height:3px;background:linear-gradient(90deg,#6b48b8 0%,#6b48b8 12.58%,#6a4fb6 16.35%,#6a58b4 18.24%,#5e89aa 22.64%,#5e98aa 23.27%,#66b2b2 23.9%,#8ae3ca 25.16%,#9ff3d0 25.79%,#c2fac4 27.04%,#d1fabf 27.67%,#e4faba 28.93%,#f6f5b7 32.7%,#f5ca8f 37.11%,#f5c288 39.62%,#f5c78c 43.4%,#f6e2a4 50.31%,#f6e9ab 54.72%,#f6e4a6 77.36%,#f6ecae 100%)"></i>
<i style="height:3px;background:linear-gradient(90deg,#6b48b8 0%,#6b48b8 12.58%,#6a55b4 17.61%,#656daf 20.13%,#5d8da9 22.64%,#62a4ae 23.27%,#6dbfb8 23.9%,#81d9c6 24.53%,#95ebcd 25.16%,#a8f6cd 25.79%,#cdfac0 27.04%,#e7f9ba 28.93%,#f6f6b8 32.08%,#f5c98e 36.48%,#f5c086 39.62%,#f5c78c 43.4%,#f6e3a5 50.31%,#f6e8aa 54.09%,#f6e3a5 76.1%,#f6ecae 100%)"></i>
<i style="height:3px;background:linear-gradient(90deg,#6b48b8 0%,#6b48b8 12.58%,#6a57b4 17.61%,#6570af 20.13%,#5f89aa 22.01%,#5d96a9 22.64%,#66b1b2 23.27%,#8be3ca 24.53%,#a0f4d0 25.16%,#c4fac3 26.42%,#e5faba 28.3%,#f5f6b8 31.45%,#f6e1a3 33.96%,#f5c48a 36.48%,#f5be84 38.99%,#f5c48a 42.77%,#f6e1a3 49.69%,#f6e7a9 53.46%,#f6e2a4 75.47%,#f6ebad 100%)"></i>
<i style="height:3px;background:linear-gradient(90deg,#6b48b8 0%,#6b48b8 12.58%,#6a55b4 16.98%,#666cb0 19.5%,#5e8ca9 22.01%,#61a3ad 22.64%,#6dbfb8 23.27%,#81dac6 23.9%,#96eccd 24.53%,#bbf9c6 25.79%,#cffac0 26.42%,#e2fabb 27.67%,#f4f7b8 30.82%,#f6e3a5 33.33%,#f5c489 35.85%,#f5bb82 38.36%,#f5c288 42.14%,#f6e1a3 49.69%,#f6e6a8 53.46%,#f6e1a4 74.21%,#f6ebad 100%)"></i>
<i style="height:3px;background:linear-gradient(90deg,#6b48b8 0%,#6b48b8 11.95%,#6a56b4 16.98%,#656faf 19.5%,#5f88aa 21.38%,#5d95a9 22.01%,#66b1b2 22.64%,#8be4ca 23.9%,#a1f4d0 24.53%,#c7fac2 25.79%,#e6faba 27.67%,#f6f5b7 30.82%,#f6e4a6 32.7%,#f5c389 35.22%,#f4b980 38.36%,#f5bd83 40.88%,#f6dfa1 49.06%,#f6e5a7 52.83%,#f6e0a3 72.96%,#f6eaac 100%)"></i>
<i style="height:3px;background:linear-gradient(90deg,#6b48b8 0%,#6b48b8 11.95%,#6a57b4 16.98%,#666ab0 18.87%,#5e8ca9 21.38%,#61a2ad 22.01%,#6dbeb7 22.64%,#81dac6 23.27%,#97edcd 23.9%,#bdf9c5 25.16%,#d0fac0 25.79%,#e4faba 27.04%,#f5f6b8 30.19%,#f6e5a7 32.08%,#f5be84 35.22%,#f4b67e 37.74%,#f4ba81 40.25%,#f6dda0 48.43%,#f6e4a6 52.2%,#f6e0a2 71.7%,#f6e9ab 100%)"></i>
<i style="height:3px;background:linear-gradient(90deg,#6b48b8 0%,#6b48b8 11.95%,#6a55b4 16.35%,#656eaf 18.87%,#5c93a8 21.38%,#65b0b1 22.01%,#8ce4ca 23.27%,#a2f4cf 23.9%,#cafac1 25.16%,#e7f9ba 27.04%,#f4f6b8 29.56%,#f6e7a9 31.45%,#f5bd83 34.59%,#f4b37b 37.74%,#f4b980 40.25%,#f6d99c 47.17%,#f6e3a5 51.57%,#f6dfa1 71.07%,#f6e8aa 100%)"></i>
<i style="height:3px;background:linear-gradient(90deg,#6b48b8 0%,#6b48b8 11.95%,#6a56b4 16.35%,#6669b0 18.24%,#5e8ba9 20.75%,#61a1ad 21.38%,#6cbeb7 22.01%,#82dbc6 22.64%,#98eece 23.27%,#bffac4 24.53%,#d1fabf 25.16%,#e5faba 26.42%,#f6f4b6 29.56%,#f6e1a3 31.45%,#f5bc83 33.96%,#f4b47c 35.22%,#f4b179 37.11%,#f4b57d 39.62%,#f6d99c 47.17%,#f6e2a4 50.94%,#f6dea1 69.81%,#f6e7a9 100%)"></i>
<i style="height:3px;background:linear-gradient(90deg,#6b48b8 0%,#6b48b8 11.32%,#6b4eb6 14.47%,#6a58b4 16.35%,#666cb0 18.24%,#5c92a8 20.75%,#65afb1 21.38%,#8de5cb 22.64%,#a3f5cf 23.27%,#cdfac0 24.53%,#e8f9ba 26.42%,#f6f6b8 28.93%,#f6e3a5 30.82%,#f4b57d 33.96%,#f3ae77 36.48%,#f4b57d 39.62%,#f6d89b 46.54%,#f6e2a4 51.57%,#f6dea0 69.18%,#f6e7a9 100%)"></i>
<i style="height:3px;background:linear-gradient(90deg,#6b48b8 0%,#6b48b8 11.32%,#6a55b4 15.72%,#6668b0 17.61%,#5e8ba9 20.13%,#60a0ac 20.75%,#6cbeb7 21.38%,#82dcc7 22.01%,#99eece 22.64%,#c2fac3 23.9%,#d3fabf 24.53%,#e6faba 25.79%,#f5f6b8 28.3%,#f6e4a6 30.19%,#f4b47c 33.33%,#f3ab74 36.48%,#f4b179 38.99%,#f6d699 45.91%,#f6e1a3 50.94%,#f6dda0 67.92%,#f6e6a8 100%)"></i>
<i style="height:3px;background:linear-gradient(90deg,#6b48b8 0%,#6b48b8 11.32%,#6a56b4 15.72%,#666ab0 17.61%,#5c91a8 20.13%,#65aeb1 20.75%,#8ee6cb 22.01%,#a5f5ce 22.64%,#cefac0 23.9%,#e4faba 25.16%,#f6f3b5 28.3%,#f6e6a8 29.56%,#f4b27a 32.7%,#f3a771 35.85%,#f3ad76 38.36%,#f6d497 45.28%,#f6dfa1 50.31%,#f6dd9f 67.3%,#f6e5a7 100%)"></i>
<i style="height:3px;background:linear-gradient(90deg,#6b48b8 0%,#6b48b8 11.32%,#6959b3 15.72%,#5e8aaa 19.5%,#609fac 20.13%,#6cbdb7 20.75%,#83dcc7 21.38%,#9aefce 22.01%,#c5fac3 23.27%,#d4fabe 23.9%,#e7f9ba 25.16%,#f6f5b7 27.67%,#f6dea0 29.56%,#f4b079 32.08%,#f3a772 33.33%,#f2a36e 35.22%,#f3a873 37.74%,#f6d296 44.65%,#f6dea0 49.69%,#f6dc9f 66.04%,#f6e4a6 100%)"></i>
<i style="height:3px;background:linear-gradient(90deg,#6b48b8 0%,#6b48b8 10.69%,#6a55b4 15.09%,#6669b0 16.98%,#5d90a8 19.5%,#65aeb1 20.13%,#8ee6cb 21.38%,#a6f5ce 22.01%,#d0fac0 23.27%,#e5faba 24.53%,#f5f6b8 27.04%,#f6e0a2 28.93%,#f4af78 31.45%,#f3a56f 32.7%,#f2a06b 34.59%,#f3a772 37.74%,#f5bf85 40.88%,#f5d094 44.03%,#f6dd9f 49.06%,#f6e3a5 100%)"></i>
<i style="height:3px;background:linear-gradient(90deg,#6b48b8 0%,#6b48b8 10.69%,#6a57b4 15.09%,#5e89aa 18.87%,#609dac 19.5%,#6cbdb7 20.13%,#83ddc7 20.75%,#9cf1cf 21.38%,#c8fac2 22.64%,#e1fabb 23.9%,#e9f9b9 24.53%,#f6f2b4 27.04%,#f6e2a4 28.3%,#f3af78 30.82%,#f3a671 31.45%,#f29c68 34.59%,#f2a36e 37.11%,#f5c086 40.88%,#f5ce92 43.4%,#f6dc9f 49.06%,#f6e2a4 100%)"></i>
<i style="height:3px;background:linear-gradient(90deg,#6b48b8 0%,#6b48b8 10.69%,#6a54b5 14.47%,#6668b0 16.35%,#5d8ea9 18.87%,#64adb0 19.5%,#8fe7cb 20.75%,#a8f5cd 21.38%,#bdf9c5 22.01%,#d1fabf 22.64%,#e6f9ba 23.9%,#f6f4b6 26.42%,#f6e4a6 27.67%,#f3a46f 30.82%,#f29865 33.96%,#f29f6b 36.48%,#f5c288 40.88%,#f5cc90 42.77%,#f6db9e 48.43%,#f6e1a3 100%)"></i>
<i style="height:3px;background:linear-gradient(90deg,#6b48b8 0%,#6b48b8 10.69%,#6a55b4 14.47%,#666bb0 16.35%,#5f88aa 18.24%,#5f9cab 18.87%,#6bbdb6 19.5%,#84dec8 20.13%,#9df2cf 20.75%,#ccfac1 22.01%,#e4faba 23.27%,#f6f6b8 25.79%,#f6db9e 27.67%,#f2a36e 30.19%,#f29966 31.45%,#f19462 33.33%,#f29b67 35.85%,#f5bf85 40.25%,#f5ca8e 42.14%,#f6d99c 47.8%,#f6dfa1 100%)"></i>
<i style="height:3px;background:linear-gradient(90deg,#6b48b8 0%,#6b48b8 10.06%,#6a57b4 14.47%,#5d8da9 18.24%,#64acb0 18.87%,#90e8cc 20.13%,#a9f6cd 20.75%,#bffac4 21.38%,#d3fabf 22.01%,#e8f9ba 23.27%,#f4f6b8 25.16%,#f6dea0 27.04%,#f2a26d 29.56%,#f19664 30.82%,#f1915f 32.7%,#f29a67 35.85%,#f5c88d 41.51%,#f6d89b 47.17%,#f6dea0 100%)"></i>
<i style="height:3px;background:linear-gradient(90deg,#6b48b8 0%,#6b48b8 10.06%,#6a54b4 13.84%,#6473ae 16.35%,#5f87aa 17.61%,#5f9aab 18.24%,#6bbcb6 18.87%,#84dec8 19.5%,#9ff3d0 20.13%,#cefac0 21.38%,#e5faba 22.64%,#f6f3b5 25.16%,#f6e1a3 26.42%,#f2a16d 28.93%,#f29865 29.56%,#f08e5d 32.08%,#f19563 35.22%,#f5bd84 39.62%,#f5c88d 41.51%,#f6d79b 47.17%,#f6dc9e 100%)"></i>
<i style="height:3px;background:linear-gradient(90deg,#6b48b8 0%,#6b48b8 10.06%,#6a56b4 13.84%,#656daf 15.72%,#5e8ca9 17.61%,#64abb0 18.24%,#78cdbf 18.87%,#91e9cc 19.5%,#abf6cc 20.13%,#c2fac3 20.75%,#e1fabb 22.01%,#f6f5b7 24.53%,#f6e3a5 25.79%,#f2a16c 28.3%,#f19663 28.93%,#f08a5b 32.08%,#f19562 35.22%,#f5c288 40.25%,#f6d599 46.54%,#f6d99c 100%)"></i>
<i style="height:3px;background:linear-gradient(90deg,#6b48b8 0%,#6b49b8 10.06%,#6a58b4 13.84%,#5f87aa 16.98%,#5e98aa 17.61%,#6bbcb6 18.24%,#85dfc8 18.87%,#a0f4d0 19.5%,#cffac0 20.75%,#e7f9ba 22.01%,#f5f6b8 23.9%,#f6e6a8 25.16%,#f6d89b 25.79%,#f2a16c 27.67%,#f19461 28.3%,#ef8658 31.45%,#f1905f 34.59%,#f5c388 40.25%,#f6d397 45.91%,#f6d79a 100%)"></i>
<i style="height:3px;background:linear-gradient(90deg,#6b48b8 0%,#6b48b8 9.434%,#6a55b4 13.21%,#666bb0 15.09%,#5e8ca9 16.98%,#63a9af 17.61%,#78cdbf 18.24%,#93eacc 18.87%,#adf6cb 19.5%,#c6fac2 20.13%,#e4faba 21.38%,#f6f2b4 23.9%,#f6dc9e 25.16%,#f19260 27.67%,#f0885a 28.93%,#ef8256 30.82%,#f08b5c 33.96%,#f5bf86 39.62%,#f5d195 45.28%,#f6d497 100%)"></i>
<i style="height:3px;background:linear-gradient(90deg,#6b48b8 0%,#6b48b8 9.434%,#6a56b4 13.21%,#6570af 15.09%,#5f86aa 16.35%,#5d96a9 16.98%,#6abbb6 17.61%,#85dfc8 18.24%,#a2f4cf 18.87%,#d1fabf 20.13%,#e8f9ba 21.38%,#f6f4b6 23.27%,#f6dfa2 24.53%,#f19260 27.04%,#ef8256 28.93%,#ef7e53 30.82%,#f08759 33.33%,#f5c086 39.62%,#f5cf93 44.65%,#f5d195 100%)"></i>
<i style="height:3px;background:linear-gradient(90deg,#6b48b8 0%,#6b48b8 9.434%,#6a50b6 11.95%,#6959b3 13.21%,#5e8ba9 16.35%,#63a8af 16.98%,#78cebf 17.61%,#94ebcd 18.24%,#aff7cb 18.87%,#cafac1 19.5%,#e5faba 20.75%,#f5f6b8 22.64%,#f6e3a5 23.9%,#f5be84 25.16%,#f19260 26.42%,#ef8356 27.67%,#ee7a51 30.19%,#ef8356 32.7%,#f5c086 39.62%,#f5cd92 44.65%,#f5ce92 100%)"></i>
<i style="height:3px;background:linear-gradient(90deg,#6b48b8 0%,#6b49b8 9.434%,#6a55b4 12.58%,#656eaf 14.47%,#5d94a9 16.35%,#6abbb5 16.98%,#86e0c9 17.61%,#a3f5cf 18.24%,#bcf9c5 18.87%,#d3fabf 19.5%,#e1fabb 20.13%,#f3f7b8 22.01%,#f6f1b3 22.64%,#f6d699 23.9%,#f19260 25.79%,#f08759 26.42%,#ee774e 29.56%,#ef7e53 32.08%,#f5bd83 38.99%,#f5cb90 44.03%,#f5cb90 100%)"></i>
<i style="height:3px;background:linear-gradient(90deg,#6b48b8 0%,#6b48b8 8.805%,#6a56b4 12.58%,#5e8aaa 15.72%,#63a7af 16.35%,#78cebf 16.98%,#95eccd 17.61%,#b1f7ca 18.24%,#cdfac0 18.87%,#e7f9ba 20.13%,#f6f4b6 22.01%,#f6da9d 23.27%,#f19361 25.16%,#ef8658 25.79%,#ee7a51 27.04%,#ed734c 28.93%,#ee7a50 31.45%,#f3aa74 36.48%,#f5bd83 38.99%,#f5c98e 43.4%,#f5c88d 100%)"></i>
<i style="height:3px;background:linear-gradient(90deg,#6b48b8 0%,#6b48b8 8.805%,#6a4fb6 11.32%,#695ab3 12.58%,#666cb0 13.84%,#5c92a8 15.72%,#6abab5 16.35%,#87e0c9 16.98%,#a5f5ce 17.61%,#bffac4 18.24%,#d5fabe 18.87%,#e4faba 19.5%,#f6f6b8 21.38%,#f6dfa1 22.64%,#f5ca8f 23.27%,#f19563 24.53%,#ef8558 25.16%,#ee774f 26.42%,#ed6f49 28.3%,#ed754d 30.82%,#f4b980 38.36%,#f5c68b 42.77%,#f5c58a 100%)"></i>
<i style="height:3px;background:linear-gradient(90deg,#6b48b8 0%,#6b48b8 8.805%,#6a55b4 11.95%,#6766b1 13.21%,#5e89aa 15.09%,#62a5ae 15.72%,#78cec0 16.35%,#97edcd 16.98%,#b3f8c9 17.61%,#cffac0 18.24%,#e9f9b9 19.5%,#f3f7b8 20.75%,#f6efb1 21.38%,#f6e3a5 22.01%,#f5ce93 22.64%,#f19764 23.9%,#ef8457 24.53%,#ee7950 25.16%,#ed6f49 26.42%,#ec6946 28.3%,#ed704a 30.19%,#f4b57d 37.74%,#f5c489 42.14%,#f5c68c 57.86%,#f5c187 100%)"></i>
<i style="height:3px;background:linear-gradient(90deg,#6b48b8 0%,#6b49b8 8.805%,#6a57b4 11.95%,#666ab0 13.21%,#5c91a8 15.09%,#69b9b5 15.72%,#88e1c9 16.35%,#a7f5cd 16.98%,#c3fac3 17.61%,#e6faba 18.87%,#f6f2b4 20.75%,#f6d397 22.01%,#f29a67 23.27%,#ef8457 23.9%,#ee774e 24.53%,#ec6b47 25.79%,#e96545 27.67%,#ed6f49 30.19%,#f4b079 37.11%,#f5c187 41.51%,#f5c48a 56.6%,#f5bd84 100%)"></i>
<i style="height:3px;background:linear-gradient(90deg,#6b48b8 0%,#6b48b8 8.176%,#6a54b5 11.32%,#6764b1 12.58%,#5f88aa 14.47%,#62a4ae 15.09%,#78cec0 15.72%,#98eece 16.35%,#b6f8c8 16.98%,#d1fabf 17.61%,#eaf9b9 18.87%,#f6f5b7 20.13%,#f6d89b 21.38%,#f5c086 22.01%,#f29e6a 22.64%,#ef8457 23.27%,#ed754d 23.9%,#eb6846 25.16%,#e76045 27.04%,#ec6a46 29.56%,#f3ac76 36.48%,#f4b980 38.99%,#f5c086 42.14%,#f4b880 100%)"></i>
<i style="height:3px;background:linear-gradient(90deg,#6b48b8 0%,#6b48b8 8.176%,#6a55b4 11.32%,#6668b0 12.58%,#5d8fa9 14.47%,#69b9b4 15.09%,#89e2c9 15.72%,#a9f6cd 16.35%,#c7fac2 16.98%,#e8f9ba 18.24%,#f4f6b8 19.5%,#f6edaf 20.13%,#f6dea0 20.75%,#f5c58a 21.38%,#ef8658 22.64%,#ed744c 23.27%,#e96545 24.53%,#e55b44 26.42%,#e55d45 27.67%,#ec6b47 29.56%,#f3ac76 36.48%,#f5bd83 41.51%,#f5be85 55.35%,#f4b37b 79.87%,#f4b47c 100%)"></i>
<i style="height:3px;background:linear-gradient(90deg,#6b48b8 0%,#6b48b8 8.176%,#6a58b4 11.32%,#5f87aa 13.84%,#61a2ad 14.47%,#79cfc0 15.09%,#9aefce 15.72%,#b8f9c7 16.35%,#d3fabf 16.98%,#e4faba 17.61%,#f6f1b3 19.5%,#f6e3a5 20.13%,#f5cb8f 20.75%,#f0885a 22.01%,#ed734c 22.64%,#e86245 23.9%,#e35844 25.79%,#e55b44 27.67%,#ec6d48 29.56%,#f3a973 35.85%,#f5ba81 40.88%,#f5bc83 53.46%,#f3ad77 77.36%,#f4b179 100%)"></i>
<i style="height:3px;background:linear-gradient(90deg,#6b48b8 0%,#6b49b8 8.176%,#6a54b5 10.69%,#6766b1 11.95%,#5d8da9 13.84%,#68b8b4 14.47%,#89e2ca 15.09%,#abf6cc 15.72%,#ccfac1 16.35%,#eaf9b9 17.61%,#f6f5b7 18.87%,#f6e7a9 19.5%,#f5d195 20.13%,#f08c5c 21.38%,#ed744c 22.01%,#ea6646 22.64%,#e75f45 23.27%,#e05343 25.79%,#e35744 27.04%,#eb6946 28.93%,#f3a671 35.22%,#f4b880 40.25%,#f4b980 52.2%,#f3a771 75.47%,#f3ad76 100%)"></i>
<i style="height:3px;background:linear-gradient(90deg,#6b48b8 0%,#6b48b8 7.547%,#6a56b4 10.69%,#666ab0 11.95%,#5f86aa 13.21%,#61a0ad 13.84%,#79cfc0 14.47%,#9cf1cf 15.09%,#bcf9c6 15.72%,#d6fabe 16.35%,#e6faba 16.98%,#f4f6b8 18.24%,#f6ebad 18.87%,#f6d79b 19.5%,#f4b980 20.13%,#f1905f 20.75%,#ed754d 21.38%,#e96445 22.01%,#e55d45 22.64%,#de4f43 25.16%,#e05343 26.42%,#ec6c47 28.93%,#f3a36e 34.59%,#f4b079 37.11%,#f4b67e 39.62%,#f4b67e 49.69%,#f2a06c 73.58%,#f3aa74 100%)"></i>
<i style="height:3px;background:linear-gradient(90deg,#6b48b8 0%,#6b48b8 7.547%,#6b4eb6 9.434%,#6959b3 10.69%,#5e8ca9 13.21%,#68b8b4 13.84%,#8be3ca 14.47%,#aef7cb 15.09%,#cffac0 15.72%,#e1fabb 16.35%,#ecf8b9 16.98%,#f6efb1 18.24%,#f6dea0 18.87%,#f5c187 19.5%,#f19764 20.13%,#ee774f 20.75%,#e96345 21.38%,#e15444 22.64%,#dc4b43 24.53%,#de4e43 25.79%,#eb6846 28.3%,#f2a16c 33.96%,#f3ae77 36.48%,#f4b47c 38.99%,#f4b37b 47.8%,#f29965 71.07%,#f3a771 100%)"></i>
<i style="height:3px;background:linear-gradient(90deg,#6b48b8 0%,#6b48b8 7.547%,#6a54b5 10.06%,#6668b0 11.32%,#6085ab 12.58%,#609fac 13.21%,#7ad0c1 13.84%,#a0f4d0 14.47%,#c0fac4 15.09%,#dbfabd 15.72%,#e9f9b9 16.35%,#f6f3b5 17.61%,#f6e3a5 18.24%,#f5c78c 18.87%,#f29e6a 19.5%,#ee7a50 20.13%,#e86245 20.75%,#df5143 22.01%,#da4642 23.9%,#de4f43 25.79%,#ec6c47 28.3%,#f29e6a 33.33%,#f3ab75 35.85%,#f4b17a 38.36%,#f4af78 45.91%,#f19663 61.64%,#f1915f 68.55%,#f3a46f 100%)"></i>
<i style="height:3px;background:linear-gradient(90deg,#6b48b8 0%,#6b49b8 7.547%,#6a56b4 10.06%,#656eaf 11.32%,#5e8ca9 12.58%,#69b9b4 13.21%,#8ee6cb 13.84%,#b3f8c9 14.47%,#d6fabe 15.09%,#e7f9ba 15.72%,#f0f7b9 16.35%,#f6f4b6 16.98%,#f6e6a8 17.61%,#f5cc90 18.24%,#ee7c52 19.5%,#e86145 20.13%,#de4d43 21.38%,#d74243 23.27%,#dc4a42 25.16%,#eb6846 27.67%,#ef8558 30.19%,#f29b68 32.7%,#f3ad77 37.11%,#f3ac76 42.77%,#f19160 57.23%,#f08a5b 66.04%,#f08d5d 74.84%,#f29f6b 91.82%,#f2a26d 100%)"></i>
<i style="height:3px;background:linear-gradient(90deg,#6b48b8 0%,#6b48b8 6.918%,#6a53b5 9.434%,#6475ae 11.32%,#6085ab 11.95%,#60a0ac 12.58%,#7ed5c3 13.21%,#a5f5ce 13.84%,#ccfac1 14.47%,#e5faba 15.09%,#f1f7b9 15.72%,#f6f4b6 16.35%,#f6e6a8 16.98%,#f5cd91 17.61%,#ee7b51 18.87%,#e65e45 19.5%,#de4e43 20.13%,#db4742 20.75%,#d23d43 22.64%,#da4642 24.53%,#ec6c47 27.67%,#f29865 32.08%,#f3a973 35.85%,#f3a872 40.25%,#f08b5c 54.72%,#ef8356 64.15%,#f2a06c 100%)"></i>
<i style="height:3px;background:linear-gradient(90deg,#6b48b8 0%,#6b48b8 6.918%,#6a4fb6 8.805%,#6a55b4 9.434%,#666cb0 10.69%,#5d8da9 11.95%,#6bbcb6 12.58%,#95ebcd 13.21%,#bcf9c6 13.84%,#e3faba 14.47%,#f6f2b4 15.72%,#f6e5a7 16.35%,#f5cc90 16.98%,#ee784f 18.24%,#e35744 18.87%,#d94442 19.5%,#d03a44 20.75%,#cd3644 22.01%,#d54043 23.9%,#eb6946 27.04%,#f08b5c 30.19%,#f29d69 32.7%,#f2a26e 34.59%,#f2a16d 38.36%,#ef8356 53.46%,#ee7d52 61.64%,#ef8255 71.07%,#f29c68 92.45%,#f29e6a 100%)"></i>
<i style="height:3px;background:linear-gradient(90deg,#6b48b8 0%,#6b48b8 6.918%,#6a51b5 8.805%,#6a58b4 9.434%,#6473ae 10.69%,#6084ab 11.32%,#61a1ad 11.95%,#82dbc6 12.58%,#acf6cb 13.21%,#dafabd 13.84%,#edf8b9 14.47%,#f6f1b3 15.09%,#f6e5a7 15.72%,#f5cb90 16.35%,#ed744c 17.61%,#df5043 18.24%,#cf3944 18.87%,#c42c46 20.75%,#ca3345 22.64%,#dd4c43 24.53%,#ec6e48 27.04%,#f08d5d 30.19%,#f29a67 33.33%,#f29865 36.48%,#ef7e53 49.69%,#ee774e 59.75%,#ee7d52 68.55%,#f29a66 91.82%,#f29d69 100%)"></i>
<i style="height:3px;background:linear-gradient(90deg,#6b48b8 0%,#6b49b8 6.918%,#6a53b5 8.805%,#6669b0 10.06%,#5e8ca9 11.32%,#6cbdb7 11.95%,#99eece 12.58%,#c3fac3 13.21%,#e8f9ba 13.84%,#f6f5b7 14.47%,#f6e8aa 15.09%,#f5d094 15.72%,#ed754d 16.98%,#dd4c43 17.61%,#c83145 18.24%,#be2846 18.87%,#b92547 20.13%,#c32b46 22.01%,#da4742 23.9%,#ec6a46 26.42%,#ef8457 28.93%,#f18f5e 31.45%,#ee784f 47.17%,#ed734c 57.86%,#f19765 90.57%,#f29c68 100%)"></i>
<i style="height:3px;background:linear-gradient(90deg,#6b48b8 0%,#6b48b8 6.289%,#6a4fb6 8.176%,#6a55b4 8.805%,#656faf 10.06%,#6082ab 10.69%,#5f9cab 11.32%,#81dac6 11.95%,#aef7cb 12.58%,#defabc 13.21%,#eff7b9 13.84%,#f6eeb0 14.47%,#f6dd9f 15.09%,#f4b77f 15.72%,#ef8255 16.35%,#e15444 16.98%,#c93245 17.61%,#ba2647 18.24%,#b12147 19.5%,#b52347 20.75%,#c42d46 22.01%,#dd4c43 23.9%,#ea6746 25.79%,#ee7a50 27.67%,#ef8558 30.19%,#ed734c 43.4%,#ed714a 55.97%,#f19664 89.94%,#f29b67 100%)"></i>
<i style="height:3px;background:linear-gradient(90deg,#6b48b8 0%,#6b48b8 6.289%,#6a58b4 8.805%,#5e89aa 10.69%,#68b8b4 11.32%,#96eccd 11.95%,#c2fac3 12.58%,#e6faba 13.21%,#f5f6b8 13.84%,#f6eaac 14.47%,#f5cf93 15.09%,#f29a67 15.72%,#ea6646 16.35%,#d33e43 16.98%,#bf2946 17.61%,#b22147 18.87%,#b02048 19.5%,#c02a46 21.38%,#dc4942 23.27%,#e55b44 24.53%,#ed744c 27.04%,#ee7b51 28.93%,#ed704a 38.99%,#ed724b 55.35%,#f19663 89.31%,#f29b67 100%)"></i>
<i style="height:3px;background:linear-gradient(90deg,#6b48b8 0%,#6b48b8 6.289%,#6b4eb6 7.547%,#6a53b5 8.176%,#666cb0 9.434%,#5d96a9 10.69%,#7dd5c3 11.32%,#abf6cc 11.95%,#d8fabd 12.58%,#ebf8b9 13.21%,#f6f5b7 13.84%,#f6e3a5 14.47%,#f5bc82 15.09%,#ef8054 15.72%,#e05143 16.35%,#cb3445 16.98%,#c12a46 17.61%,#b52347 18.87%,#b82547 20.13%,#c02a46 20.75%,#db4842 22.64%,#e45a44 23.9%,#ed714a 26.42%,#ee774e 28.3%,#ed6f49 35.22%,#ee7950 55.97%,#f29865 89.31%,#f29c68 100%)"></i>
<i style="height:3px;background:linear-gradient(90deg,#6b48b8 0%,#6b49b8 6.289%,#6a55b4 8.176%,#5f88aa 10.06%,#68b7b4 10.69%,#97edcd 11.32%,#c4fac3 11.95%,#e4faba 12.58%,#f6efb1 13.84%,#f6d396 14.47%,#f29b67 15.09%,#ea6646 15.72%,#d74342 16.35%,#cb3445 16.98%,#c32b46 17.61%,#ba2647 18.87%,#c22b46 20.13%,#db4842 22.01%,#e86245 23.9%,#ed724b 25.79%,#ee7a50 27.67%,#ed764e 35.22%,#f29d69 100%)"></i>
<i style="height:3px;background:linear-gradient(90deg,#6b48b8 0%,#6b48b8 5.66%,#6a51b5 7.547%,#695bb3 8.176%,#656daf 8.805%,#5f85ab 9.434%,#64abb0 10.06%,#96eccd 10.69%,#c3fac3 11.32%,#e9f9b9 11.95%,#f4f6b8 13.21%,#f6e4a6 13.84%,#f4b67e 14.47%,#ee7950 15.09%,#df5043 15.72%,#d33e43 16.35%,#ca3345 16.98%,#c02946 18.24%,#c52d46 19.5%,#dc4a42 21.38%,#e96545 23.27%,#ee7d52 25.79%,#ef8658 28.3%,#ef8356 34.59%,#f0895a 59.12%,#f29f6b 100%)"></i>
<i style="height:3px;background:linear-gradient(90deg,#6b48b8 0%,#6b48b8 5.66%,#6a53b5 7.547%,#6861b2 8.176%,#627aad 8.805%,#63a7af 9.434%,#9cf1cf 10.06%,#ddfabc 10.69%,#f6eeb0 11.32%,#f6eaac 11.95%,#f6f0b2 13.21%,#f6e4a6 13.84%,#ee7d53 15.09%,#ea6545 15.72%,#df5043 16.98%,#db4842 18.24%,#dc4b43 18.87%,#ec6946 21.38%,#f18f5e 24.53%,#f29e6a 26.42%,#f3a570 28.3%,#f2a36e 59.12%,#f4b27b 100%)"></i>
<i style="height:3px;background:linear-gradient(90deg,#6b48b8 0%,#6b48b8 5.66%,#6a52b5 7.547%,#695db3 8.176%,#627aad 8.805%,#67b4b3 9.434%,#b3f8c9 10.06%,#f2f7b8 10.69%,#f6e6a8 11.32%,#f6efb1 11.95%,#eaf9b9 12.58%,#e2fabb 13.21%,#ebf8b9 13.84%,#f6f2b4 14.47%,#f6e0a2 15.09%,#f5c68b 16.35%,#f4b17a 17.61%,#f3ad76 18.24%,#f4b27b 20.13%,#f5d094 24.53%,#f6d89b 27.67%,#f6d599 58.49%,#f6dda0 100%)"></i>
<i style="height:3px;background:linear-gradient(90deg,#6b48b8 0%,#6b48b8 5.66%,#6a52b5 8.176%,#6862b2 8.805%,#5f85ab 9.434%,#74c9bd 10.06%,#a4f5ce 10.69%,#b0f7ca 11.32%,#a3f5cf 11.95%,#8de5cb 12.58%,#83ddc7 13.21%,#8ce4ca 13.84%,#9df2cf 14.47%,#bbf9c6 15.72%,#e1fabb 16.98%,#f6f4b6 18.87%,#f6eaac 20.13%,#f2f7b8 20.75%,#f0f7b9 25.79%,#f6e9ab 26.42%,#f6e9ab 30.19%,#f0f7b9 30.82%,#f0f7b9 70.44%,#f6e9ab 71.07%,#f6ebad 100%)"></i>
<i style="height:3px;background:linear-gradient(90deg,#6b48b8 0%,#6b4bb7 8.176%,#6a53b5 9.434%,#666ab0 10.69%,#656eaf 11.32%,#666ab0 13.21%,#617eac 14.47%,#5d8da9 15.09%,#62a4ae 15.72%,#6dbfb7 16.35%,#80d9c5 16.98%,#93eacc 17.61%,#a4f5cf 18.24%,#befac5 19.5%,#dcfabc 21.38%,#e1fabb 22.64%,#e0fabb 100%)"></i>
<i style="height:3px;background:linear-gradient(90deg,#6b48b8 0%,#6b49b8 8.805%,#6a55b4 13.21%,#617eac 15.09%,#5d8ea9 15.72%,#62a5ae 16.35%,#6dbfb8 16.98%,#80d8c5 17.61%,#91e8cc 18.24%,#a1f4d0 18.87%,#bffac4 20.75%,#c9fac2 22.64%,#c9fac2 100%)"></i>
<i style="height:3px;background:linear-gradient(90deg,#6b48b8 0%,#6b49b8 10.69%,#6a52b5 12.58%,#6765b1 13.84%,#5d94a9 15.72%,#65aeb1 16.35%,#85dec8 17.61%,#95eccd 18.24%,#a4f5cf 18.87%,#bffac4 20.75%,#c6fac2 22.01%,#c6fac2 100%)"></i>
<i style="height:3px;background:linear-gradient(90deg,#6b48b8 0%,#6b48b8 10.06%,#6a53b5 12.58%,#666ab0 13.84%,#609eac 15.72%,#68b7b4 16.35%,#8be3ca 17.61%,#9bf0cf 18.24%,#bbf9c6 20.13%,#c6fac2 22.01%,#c6fac2 100%)"></i>
<i style="height:3px;background:linear-gradient(90deg,#6b48b8 0%,#6b48b8 10.06%,#6a55b4 12.58%,#5d8fa9 15.09%,#63a7af 15.72%,#80d9c5 16.98%,#91e8cc 17.61%,#a1f4d0 18.24%,#bdfac5 20.13%,#c6fac2 22.01%,#c6fac2 100%)"></i>
<i style="height:3px;background:linear-gradient(90deg,#6b48b8 0%,#6b48b8 10.06%,#6a52b5 11.95%,#6767b1 13.21%,#5e98aa 15.09%,#66b1b2 15.72%,#87e0c9 16.98%,#97edce 17.61%,#b0f7ca 18.87%,#c0fac4 20.13%,#c6fac2 21.38%,#c6fac2 100%)"></i>
<i style="height:3px;background:linear-gradient(90deg,#6b48b8 0%,#6b48b8 9.434%,#6a54b5 11.95%,#627bad 13.84%,#5e8ba9 14.47%,#61a1ad 15.09%,#6abab5 15.72%,#7cd3c2 16.35%,#9df2cf 17.61%,#bcf9c6 19.5%,#c6fac2 21.38%,#c6fac2 100%)"></i>
<i style="height:3px;background:linear-gradient(90deg,#6b48b8 0%,#6b48b8 9.434%,#6a56b4 11.95%,#5c92a8 14.47%,#70c3ba 15.72%,#82dcc7 16.35%,#93eacc 16.98%,#a2f4cf 17.61%,#befac5 19.5%,#c6fac2 20.75%,#c5fac3 100%)"></i>
<i style="height:3px;background:linear-gradient(90deg,#6b48b8 0%,#6b48b8 8.805%,#6a53b5 11.32%,#6669b0 12.58%,#5f9bab 14.47%,#67b4b3 15.09%,#89e2c9 16.35%,#99efce 16.98%,#b1f7ca 18.24%,#c0fac4 19.5%,#c5fac3 20.75%,#c4fac3 100%)"></i>
<i style="height:3px;background:linear-gradient(90deg,#6b48b8 0%,#6b48b8 8.805%,#6a55b4 11.32%,#627dac 13.21%,#5d8da9 13.84%,#62a4ae 14.47%,#6cbdb7 15.09%,#7ed5c3 15.72%,#9ef3d0 16.98%,#bcf9c6 18.87%,#c4fac3 20.13%,#c2fac3 100%)"></i>
<i style="height:3px;background:linear-gradient(90deg,#6b48b8 0%,#6b48b8 8.805%,#6a51b5 10.69%,#6765b1 11.95%,#5d94a9 13.84%,#65adb1 14.47%,#84dec8 15.72%,#94ebcd 16.35%,#a3f5cf 16.98%,#bdfac5 18.87%,#c3fac3 20.13%,#c0fac4 100%)"></i>
<i style="height:3px;background:linear-gradient(90deg,#6b48b8 0%,#6b48b8 8.176%,#6a53b5 10.69%,#666ab0 11.95%,#609dac 13.84%,#67b6b3 14.47%,#8ae3ca 15.72%,#a7f5cd 16.98%,#b9f9c7 18.24%,#c2fac3 20.13%,#bffac5 100%)"></i>
<i style="height:3px;background:linear-gradient(90deg,#6b48b8 0%,#6b48b8 8.176%,#6a55b4 10.69%,#5d8fa9 13.21%,#63a7af 13.84%,#7fd8c5 15.09%,#a0f4d0 16.35%,#bbf9c6 18.24%,#c2fac3 19.5%,#befac5 30.19%,#befac5 100%)"></i>
<i style="height:3px;background:linear-gradient(90deg,#6b48b8 0%,#6b48b8 8.176%,#6a52b5 10.06%,#6767b1 11.32%,#5e97aa 13.21%,#65b0b1 13.84%,#86dfc8 15.09%,#96eccd 15.72%,#a4f5cf 16.35%,#bdfac5 18.24%,#c2fac3 19.5%,#befac5 30.19%,#befac5 100%)"></i>
<i style="height:3px;background:linear-gradient(90deg,#6b48b8 0%,#6b48b8 7.547%,#6a54b5 10.06%,#627bad 11.95%,#60a0ac 13.21%,#69b9b5 13.84%,#8ce4ca 15.09%,#9cf1cf 15.72%,#baf9c6 17.61%,#c3fac3 19.5%,#bffac4 100%)"></i>
<i style="height:3px;background:linear-gradient(90deg,#6b48b8 0%,#6b48b8 7.547%,#6a56b4 10.06%,#5c91a8 12.58%,#6fc2b9 13.84%,#81dac6 14.47%,#92e9cc 15.09%,#a1f4d0 15.72%,#bcf9c5 17.61%,#c3fac3 18.87%,#c0fac4 100%)"></i>
<i style="height:3px;background:linear-gradient(90deg,#6b48b8 0%,#6b48b8 7.547%,#6a52b5 9.434%,#6767b1 10.69%,#5e98aa 12.58%,#66b1b2 13.21%,#87e0c9 14.47%,#97edcd 15.09%,#aff7ca 16.35%,#befac5 17.61%,#c3fac3 18.87%,#c1fac4 100%)"></i>
<i style="height:3px;background:linear-gradient(90deg,#6b48b8 0%,#6b48b8 7.547%,#6a53b5 9.434%,#666bb0 10.69%,#5e8ba9 11.95%,#60a0ac 12.58%,#69b9b4 13.21%,#8ce4ca 14.47%,#9cf1cf 15.09%,#baf9c6 16.98%,#c2fac3 18.87%,#c1fac4 100%)"></i>
<i style="height:3px;background:linear-gradient(90deg,#6b48b8 0%,#6b48b8 7.547%,#6a55b4 9.434%,#5d8fa9 11.95%,#62a6ae 12.58%,#7fd7c5 13.84%,#9ff3d0 15.09%,#baf9c6 16.98%,#c0fac4 18.24%,#c0fac4 100%)"></i>
<i style="height:3px;background:linear-gradient(90deg,#6b48b8 0%,#6b48b8 7.547%,#6a56b4 9.434%,#5c93a8 11.95%,#64acb0 12.58%,#83dcc7 13.84%,#a1f4cf 15.09%,#b4f8c8 16.35%,#befac5 18.24%,#befac5 100%)"></i>
<i style="height:3px;background:linear-gradient(90deg,#6b48b8 0%,#6b48b8 7.547%,#6a57b4 9.434%,#5e97aa 11.95%,#66b1b2 12.58%,#86dfc8 13.84%,#a3f5cf 15.09%,#b4f8c9 16.35%,#bbf9c6 17.61%,#bbf9c6 100%)"></i>
<i style="height:3px;background:linear-gradient(90deg,#6b48b8 0%,#6b48b8 7.547%,#6a51b5 8.805%,#6959b3 9.434%,#6668b0 10.06%,#5f9bab 11.95%,#67b4b3 12.58%,#88e1c9 13.84%,#a3f5cf 15.09%,#b3f7c9 16.35%,#b8f8c7 17.61%,#b8f8c7 100%)"></i>
<i style="height:3px;background:linear-gradient(90deg,#6b48b8 0%,#6b48b8 7.547%,#6a52b5 8.805%,#666ab0 10.06%,#5e8aaa 11.32%,#609fac 11.95%,#68b8b4 12.58%,#89e2ca 13.84%,#a3f5cf 15.09%,#abf6cc 15.72%,#b4f8c8 17.61%,#b4f8c8 100%)"></i>
<i style="height:3px;background:linear-gradient(90deg,#6b48b8 0%,#6b48b8 7.547%,#6a52b5 8.805%,#666cb0 10.06%,#5d8da9 11.32%,#62a4ae 11.95%,#6bbcb6 12.58%,#8be4ca 13.84%,#a4f5cf 15.09%,#abf6cc 15.72%,#b1f7ca 16.98%,#b1f7ca 100%)"></i>
<i style="height:3px;background:linear-gradient(90deg,#6b48b8 0%,#6b48b8 7.547%,#6a54b5 8.805%,#5c91a8 11.32%,#6fc1b9 12.58%,#7fd7c4 13.21%,#8ee6cb 13.84%,#9bf0cf 14.47%,#abf6cc 15.72%,#aff7ca 16.98%,#aff7ca 100%)"></i>
<i style="height:3px;background:linear-gradient(90deg,#6b48b8 0%,#6b48b8 6.918%,#6a56b4 8.805%,#5e98aa 11.32%,#66b0b2 11.95%,#83ddc8 13.21%,#9ef2cf 14.47%,#a6f5ce 15.09%,#aef7cb 16.98%,#aef7cb 100%)"></i>
<i style="height:3px;background:linear-gradient(90deg,#6b48b8 0%,#6b48b8 6.918%,#6a57b4 8.805%,#5f9aab 11.32%,#66b3b2 11.95%,#85dfc8 13.21%,#9ff3d0 14.47%,#a7f5ce 15.09%,#aef7cb 16.35%,#aef7cb 100%)"></i>
<i style="height:3px;background:linear-gradient(90deg,#6b48b8 0%,#6b48b8 6.918%,#6a57b4 8.805%,#5f9aab 11.32%,#66b3b2 11.95%,#85dfc8 13.21%,#9ff3d0 14.47%,#a7f5ce 15.09%,#aef7cb 16.35%,#aef7cb 100%)"></i>
</div></div>
<div style="position:absolute;left:1128.5px;top:17.5px;width:418px;height:436.5px;overflow:hidden">
<div style="position:absolute;left:-6px;top:-6px;width:430px;height:450px;filter:blur(1.2px)">
<i style="height:3px;background:linear-gradient(90deg,#6b48b8 0%,#6b48b8 25.16%,#6a56b4 32.7%,#666cb0 38.36%,#5c91a8 45.28%,#61a0ad 47.17%,#68b7b4 49.06%,#84dec8 52.2%,#9df2cf 54.72%,#c1fac4 58.49%,#e3faba 61.01%,#f6f6b8 63.52%,#f6ecae 64.78%,#f5c98e 72.96%,#f4ba81 77.99%,#f5be85 84.28%,#f6dfa1 100%)"></i>
<i style="height:3px;background:linear-gradient(90deg,#6b48b8 0%,#6b48b8 25.16%,#6a56b4 32.7%,#666cb0 38.36%,#5c91a8 45.28%,#61a0ad 47.17%,#68b7b4 49.06%,#84dec8 52.2%,#9df2cf 54.72%,#c1fac4 58.49%,#e3faba 61.01%,#f6f6b8 63.52%,#f6ecae 64.78%,#f5c98e 72.96%,#f4ba81 77.99%,#f5be85 84.28%,#f6dfa1 100%)"></i>
<i style="height:3px;background:linear-gradient(90deg,#6b48b8 0%,#6b48b8 25.16%,#6a56b4 32.7%,#656daf 38.36%,#5c92a8 45.28%,#61a2ad 47.17%,#69b9b5 49.06%,#86dfc9 52.2%,#9ff4d0 54.72%,#bdf9c5 57.86%,#e5faba 61.01%,#f6f5b7 63.52%,#f6ebad 64.78%,#f5c88d 72.96%,#f4b980 77.99%,#f5be85 84.28%,#f6dfa2 100%)"></i>
<i style="height:3px;background:linear-gradient(90deg,#6b48b8 0%,#6b48b8 24.53%,#6a57b4 32.7%,#666bb0 37.74%,#5c90a8 44.65%,#62a6ae 47.17%,#6cbdb7 49.06%,#83ddc8 51.57%,#9df1cf 54.09%,#c1fac4 57.86%,#e3faba 60.38%,#f6f6b8 62.89%,#f6ebad 64.15%,#f5c88d 72.33%,#f4b880 77.36%,#f5bd84 83.65%,#f6e1a3 100%)"></i>
<i style="height:3px;background:linear-gradient(90deg,#6b48b8 0%,#6b48b8 24.53%,#6a56b4 32.08%,#666cb0 37.74%,#5c92a8 44.65%,#61a2ad 46.54%,#69bab5 48.43%,#87e0c9 51.57%,#a1f4d0 54.09%,#bffac5 57.23%,#e0fabb 59.75%,#f5f6b8 62.26%,#f6eaac 64.15%,#f5c88d 71.7%,#f4b87f 76.73%,#f5bd83 83.02%,#f6e2a4 100%)"></i>
<i style="height:3px;background:linear-gradient(90deg,#6b48b8 0%,#6b48b8 24.53%,#6a56b4 32.08%,#666ab0 37.11%,#5c90a8 44.03%,#609fac 45.91%,#67b6b3 47.8%,#84dec8 50.94%,#9ef3cf 53.46%,#bcf9c5 56.6%,#e5faba 59.75%,#f6f4b6 62.26%,#f6eaac 63.52%,#f5c58a 71.7%,#f4b77e 76.73%,#f5bc82 82.39%,#f6e3a5 100%)"></i>
<i style="height:3px;background:linear-gradient(90deg,#6b48b8 0%,#6b48b8 24.53%,#6a57b4 32.08%,#666cb0 37.11%,#5c92a8 44.03%,#61a2ad 45.91%,#6abab5 47.8%,#88e1c9 50.94%,#a2f4cf 53.46%,#c1fac4 56.6%,#e3faba 59.12%,#f6f5b7 61.64%,#f6eaac 62.89%,#f5c58a 71.07%,#f4b67e 76.1%,#f5bc83 82.39%,#f6e2a4 97.48%,#f6e4a6 100%)"></i>
<i style="height:3px;background:linear-gradient(90deg,#6b48b8 0%,#6b48b8 23.9%,#6a56b4 31.45%,#666ab0 36.48%,#5c90a8 43.4%,#609fac 45.28%,#68b6b4 47.17%,#85dfc8 50.31%,#a0f4d0 52.83%,#befac5 55.97%,#e0fabb 58.49%,#f5f6b8 61.01%,#f6ebad 62.26%,#f5c58a 70.44%,#f4b57d 75.47%,#f5bb82 81.76%,#f6e2a4 96.86%,#f6e5a7 100%)"></i>
<i style="height:3px;background:linear-gradient(90deg,#6b48b8 0%,#6b48b8 23.9%,#6a56b4 31.45%,#666bb0 36.48%,#5c92a8 43.4%,#61a3ad 45.28%,#6abbb5 47.17%,#89e2c9 50.31%,#a3f5cf 52.83%,#bcf9c6 55.35%,#e5faba 58.49%,#f6f3b5 61.01%,#f5c58a 69.81%,#f4b47c 74.84%,#f5ba81 81.13%,#f6e2a4 96.23%,#f6e6a8 100%)"></i>
<i style="height:3px;background:linear-gradient(90deg,#6b48b8 0%,#6b48b8 23.9%,#6a57b4 31.45%,#6669b0 35.85%,#5c90a8 42.77%,#63a7af 45.28%,#68b7b4 46.54%,#86e0c9 49.69%,#9aefce 51.57%,#c0fac4 55.35%,#e4faba 57.86%,#f6f4b6 60.38%,#f6eaac 61.64%,#f5c58b 69.18%,#f4b37c 74.21%,#f4b981 80.5%,#f6e1a3 95.6%,#f6e7a9 100%)"></i>
<i style="height:3px;background:linear-gradient(90deg,#6b48b8 0%,#6b48b8 23.9%,#6a56b4 30.82%,#666ab0 35.85%,#5c92a8 42.77%,#61a3ad 44.65%,#6bbbb6 46.54%,#83ddc8 49.06%,#9ef3d0 51.57%,#befac5 54.72%,#e1fabb 57.23%,#f6f6b8 59.75%,#f6eaac 61.01%,#f5c58b 68.55%,#f4b37b 73.58%,#f4b980 79.87%,#f6e3a5 95.6%,#f6e8aa 100%)"></i>
<i style="height:3px;background:linear-gradient(90deg,#6b48b8 0%,#6b48b8 23.27%,#6a56b4 30.82%,#666cb0 35.85%,#5d90a8 42.14%,#60a0ac 44.03%,#68b8b4 45.91%,#87e0c9 49.06%,#a2f4cf 51.57%,#bbf9c6 54.09%,#e6faba 57.23%,#f5f6b8 59.12%,#f6e8aa 61.01%,#f5bc83 69.81%,#f4b27a 73.58%,#f4b87f 79.25%,#f6e2a4 94.97%,#f6e9ab 100%)"></i>
<i style="height:3px;background:linear-gradient(90deg,#6b48b8 0%,#6b48b8 23.27%,#6a57b4 30.82%,#656daf 35.85%,#5c92a8 42.14%,#61a3ad 44.03%,#6bbcb6 45.91%,#84dec8 48.43%,#a0f4d0 50.94%,#c0fac4 54.09%,#e4faba 56.6%,#f6f3b5 59.12%,#f6e9ab 60.38%,#f4b980 69.81%,#f4b17a 72.96%,#f4b77e 78.62%,#f6e2a4 94.34%,#f6eaac 100%)"></i>
<i style="height:3px;background:linear-gradient(90deg,#6b48b8 0%,#6b48b8 23.27%,#6a56b4 30.19%,#666bb0 35.22%,#5d90a8 41.51%,#60a0ac 43.4%,#68b8b4 45.28%,#88e1c9 48.43%,#a4f5cf 50.94%,#bdf9c5 53.46%,#e1fabb 55.97%,#f6f5b7 58.49%,#f6e9ab 59.75%,#f5bc82 68.55%,#f4b079 72.33%,#f4b67e 77.99%,#f6e2a4 93.71%,#f6ebad 100%)"></i>
<i style="height:3px;background:linear-gradient(90deg,#6b48b8 0%,#6b48b8 22.64%,#6a56b4 30.19%,#656daf 35.22%,#5c92a8 41.51%,#61a3ad 43.4%,#6cbdb7 45.28%,#85dfc8 47.8%,#a1f4d0 50.31%,#bbf9c6 52.83%,#e6faba 55.97%,#f5f6b8 57.86%,#f6ebad 59.12%,#f5bb82 67.92%,#f4af78 71.7%,#f4b57d 77.36%,#f6e2a4 93.08%,#f6ecae 100%)"></i>
<i style="height:3px;background:linear-gradient(90deg,#6b48b8 0%,#6b48b8 22.64%,#6a57b4 30.19%,#666bb0 34.59%,#5d90a8 40.88%,#60a0ac 42.77%,#69b9b4 44.65%,#82dcc7 47.17%,#9ef3d0 49.69%,#bffac4 52.83%,#e4faba 55.35%,#f6f2b4 57.86%,#f6e8aa 59.12%,#f4b87f 67.92%,#f3af78 71.07%,#f4b47c 76.73%,#f6e2a4 92.45%,#f6edaf 100%)"></i>
<i style="height:3px;background:linear-gradient(90deg,#6b48b8 0%,#6b48b8 22.64%,#6a56b4 29.56%,#666cb0 34.59%,#5c92a8 40.88%,#62a4ae 42.77%,#6cbeb7 44.65%,#86e0c9 47.17%,#a3f4cf 49.69%,#bdf9c5 52.2%,#e2fabb 54.72%,#f6f4b6 57.23%,#f6e9ab 58.49%,#f5bb82 66.67%,#f3ae77 70.44%,#f4b37b 76.1%,#f6e1a4 91.82%,#f6eeb0 100%)"></i>
<i style="height:3px;background:linear-gradient(90deg,#6b48b8 0%,#6b48b8 22.64%,#6a57b4 29.56%,#666ab0 33.96%,#5d90a8 40.25%,#60a0ac 42.14%,#69bab5 44.03%,#83ddc8 46.54%,#a0f4d0 49.06%,#baf9c6 51.57%,#e6faba 54.72%,#f6f6b8 56.6%,#f6e9ab 57.86%,#f4b87f 66.67%,#f3ad76 70.44%,#f4b57d 76.73%,#f6e3a5 91.82%,#f6efb1 100%)"></i>
<i style="height:3px;background:linear-gradient(90deg,#6b48b8 0%,#6b48b8 22.01%,#6a58b4 29.56%,#6082ab 37.74%,#5c92a8 40.25%,#62a4ae 42.14%,#67b6b3 43.4%,#87e1c9 46.54%,#9df2cf 48.43%,#bffac4 51.57%,#e5faba 54.09%,#f5f6b8 55.97%,#f6e7a9 57.86%,#f4b47c 66.67%,#f3ac75 69.81%,#f4b47c 76.1%,#f6e3a5 91.19%,#f6f0b2 100%)"></i>
<i style="height:3px;background:linear-gradient(90deg,#6b48b8 0%,#6b48b8 22.01%,#6a56b4 28.93%,#656daf 33.96%,#5d90a8 39.62%,#61a0ad 41.51%,#6abab5 43.4%,#84dec8 45.91%,#a1f4cf 48.43%,#bcf9c5 50.94%,#e2fabb 53.46%,#f6f3b5 55.97%,#f6e8aa 57.23%,#f4b47c 66.04%,#f3ab75 69.18%,#f4b47c 75.47%,#f6e3a5 90.57%,#f6f1b3 100%)"></i>
<i style="height:3px;background:linear-gradient(90deg,#6b48b8 0%,#6b48b8 22.01%,#6a57b4 28.93%,#617eac 36.48%,#5c92a8 39.62%,#62a4ae 41.51%,#67b6b3 42.77%,#81dac6 45.28%,#9ff3d0 47.8%,#c1fac4 50.94%,#e7f9ba 53.46%,#f6f5b7 55.35%,#f6e8aa 56.6%,#f4b47c 65.41%,#f3aa74 68.55%,#f4b37b 74.84%,#f6e2a4 89.94%,#f6f2b4 100%)"></i>
<i style="height:3px;background:linear-gradient(90deg,#6b48b8 0%,#6b48b8 22.01%,#6a56b4 28.3%,#656daf 33.33%,#5d90a8 38.99%,#61a1ad 40.88%,#6abbb6 42.77%,#85dfc8 45.28%,#a3f5cf 47.8%,#befac5 50.31%,#e5faba 52.83%,#f5f6b8 54.72%,#f6eaac 55.97%,#f4b47c 64.78%,#f3aa74 67.92%,#f4b27a 74.21%,#f6e2a4 89.31%,#f6f3b5 100%)"></i>
<i style="height:3px;background:linear-gradient(90deg,#6b48b8 0%,#6b48b8 21.38%,#6a56b4 28.3%,#6472ae 33.96%,#5c92a8 38.99%,#62a5ae 40.88%,#68b7b4 42.14%,#89e2ca 45.28%,#a0f4d0 47.17%,#bcf9c6 49.69%,#e2faba 52.2%,#f6f2b4 54.72%,#f6e7a9 55.97%,#f4b37c 64.15%,#f3a973 67.3%,#f4b179 73.58%,#f6e2a4 88.68%,#f6f4b6 100%)"></i>
<i style="height:3px;background:linear-gradient(90deg,#6b48b8 0%,#6b48b8 21.38%,#6a57b4 28.3%,#666cb0 32.7%,#5d90a8 38.36%,#61a1ad 40.25%,#6bbcb6 42.14%,#86e0c9 44.65%,#9df2cf 46.54%,#c1fac4 49.69%,#e7f9ba 52.2%,#f6f4b6 54.09%,#f6e8aa 55.35%,#f4b37c 63.52%,#f3a872 67.3%,#f4b27a 73.58%,#f6e2a4 88.05%,#f6f4b6 100%)"></i>
<i style="height:3px;background:linear-gradient(90deg,#6b48b8 0%,#6b48b8 21.38%,#6a56b4 27.67%,#656eaf 32.7%,#5c92a8 38.36%,#62a5ae 40.25%,#68b7b4 41.51%,#83ddc8 44.03%,#a2f4cf 46.54%,#befac5 49.06%,#e5faba 51.57%,#f6f6b8 53.46%,#f6e8aa 54.72%,#f4b078 63.52%,#f3a771 66.67%,#f4b179 72.96%,#f6e2a4 87.42%,#f6f5b7 100%)"></i>
<i style="height:3px;background:linear-gradient(90deg,#6b48b8 0%,#6b48b8 21.38%,#6a56b4 27.67%,#666bb0 32.08%,#5d90a8 37.74%,#61a1ad 39.62%,#6bbdb6 41.51%,#87e1c9 44.03%,#9ff3d0 45.91%,#bbf9c6 48.43%,#e3faba 50.94%,#f4f6b8 52.83%,#f6e6a8 54.72%,#f4af78 62.89%,#f3a671 66.04%,#f4b079 72.33%,#f6e2a4 86.79%,#f6f6b8 100%)"></i>
<i style="height:3px;background:linear-gradient(90deg,#6b48b8 0%,#6b48b8 20.75%,#6a57b4 27.67%,#6669b0 31.45%,#5c92a8 37.74%,#62a5ae 39.62%,#68b8b4 40.88%,#84dec8 43.4%,#a3f5cf 45.91%,#c0fac4 48.43%,#e7f9ba 50.94%,#f6f3b5 52.83%,#f6e7a9 54.09%,#f4af78 62.26%,#f3a670 65.41%,#f4af78 71.7%,#f6e3a5 86.79%,#f5f6b8 100%)"></i>
<i style="height:3px;background:linear-gradient(90deg,#6b48b8 0%,#6b48b8 20.75%,#6a56b4 27.04%,#666ab0 31.45%,#5d8fa9 37.11%,#61a1ad 38.99%,#6cbdb7 40.88%,#89e2c9 43.4%,#a0f4d0 45.28%,#bdfac5 47.8%,#e5faba 50.31%,#f6f5b7 52.2%,#f6e7a9 53.46%,#f4af78 61.64%,#f3a56f 64.78%,#f3ae77 71.07%,#f6e3a5 86.16%,#f6f2b4 94.34%,#f5f6b8 100%)"></i>
<i style="height:3px;background:linear-gradient(90deg,#6b48b8 0%,#6b48b8 20.75%,#6a56b4 27.04%,#666cb0 31.45%,#5c92a8 37.11%,#62a6ae 38.99%,#69b9b4 40.25%,#85dfc8 42.77%,#9df2cf 44.65%,#bbf9c6 47.17%,#e3faba 49.69%,#f5f6b8 51.57%,#f6e9ab 52.83%,#f4af78 61.01%,#f3a46f 64.15%,#f3ad77 70.44%,#f6e3a5 85.53%,#f6f3b5 94.34%,#f4f6b8 100%)"></i>
<i style="height:3px;background:linear-gradient(90deg,#6b48b8 0%,#6b48b8 20.13%,#6a57b4 27.04%,#656eaf 31.45%,#5d8fa9 36.48%,#61a1ad 38.36%,#6dbeb7 40.25%,#8ae2ca 42.77%,#a2f4cf 44.65%,#c0fac4 47.17%,#e7f9ba 49.69%,#f6f2b4 51.57%,#f4af78 60.38%,#f2a36e 63.52%,#f3ac76 69.81%,#f6e5a7 85.53%,#f6f5b7 94.97%,#f4f7b8 100%)"></i>
<i style="height:3px;background:linear-gradient(90deg,#6b48b8 0%,#6b48b8 20.13%,#6a56b4 26.42%,#666bb0 30.82%,#5e89aa 35.22%,#5c91a8 36.48%,#62a6ae 38.36%,#69bab5 39.62%,#87e0c9 42.14%,#9ff3d0 44.03%,#bdf9c5 46.54%,#e6faba 49.06%,#f6f4b6 50.94%,#f6e7a9 52.2%,#f3ab75 60.38%,#f2a26d 63.52%,#f3ac75 69.18%,#f6e5a7 84.91%,#f6f5b7 94.34%,#f3f7b8 100%)"></i>
<i style="height:3px;background:linear-gradient(90deg,#6b48b8 0%,#6b48b8 20.13%,#6a57b4 26.42%,#656daf 30.82%,#5d8fa9 35.85%,#61a2ad 37.74%,#6dbfb8 39.62%,#83ddc8 41.51%,#9bf0cf 43.4%,#c3fac3 46.54%,#e4faba 48.43%,#f6f6b8 50.31%,#f6e8aa 51.57%,#f3ab75 59.75%,#f2a16d 62.89%,#f3ad76 69.18%,#f6e4a6 84.28%,#f6f6b8 94.34%,#f3f7b8 100%)"></i>
<i style="height:3px;background:linear-gradient(90deg,#6b48b8 0%,#6b48b8 20.13%,#6a58b4 26.42%,#666bb0 30.19%,#5c91a8 35.85%,#63a7af 37.74%,#6abab5 38.99%,#88e1c9 41.51%,#a1f4d0 43.4%,#bffac4 45.91%,#e0fabb 47.8%,#f4f6b8 49.69%,#f6eaac 50.94%,#f3ab75 59.12%,#f2a16c 62.26%,#f3aa74 67.92%,#f6e6a8 84.28%,#f6f6b8 93.71%,#f2f7b8 100%)"></i>
<i style="height:3px;background:linear-gradient(90deg,#6b48b8 0%,#6b48b8 19.5%,#6a56b4 25.79%,#656daf 30.19%,#5d8fa9 35.22%,#61a2ad 37.11%,#67b6b3 38.36%,#84dec8 40.88%,#9df2cf 42.77%,#bcf9c5 45.28%,#e6faba 47.8%,#f6f3b5 49.69%,#f6e6a8 50.94%,#f3ab75 58.49%,#f2a06b 61.64%,#f3ab75 67.92%,#f6e6a8 83.65%,#f6f6b8 93.08%,#f2f7b8 100%)"></i>
<i style="height:3px;background:linear-gradient(90deg,#6b48b8 0%,#6b48b8 19.5%,#6a57b4 25.79%,#666ab0 29.56%,#5c91a8 35.22%,#63a7af 37.11%,#6abbb6 38.36%,#81dac6 40.25%,#9aefce 42.14%,#c2fac3 45.28%,#e4faba 47.17%,#f6f5b7 49.06%,#f6e6a8 50.31%,#f3ab75 57.86%,#f29f6b 61.01%,#f3aa74 67.3%,#f6e7a9 83.65%,#f6f6b8 92.45%,#f1f7b9 100%)"></i>
<i style="height:3px;background:linear-gradient(90deg,#6b48b8 0%,#6b48b8 19.5%,#6a55b4 25.16%,#666cb0 29.56%,#5d8fa9 34.59%,#61a2ad 36.48%,#68b7b4 37.74%,#86dfc8 40.25%,#9ff3d0 42.14%,#bffac5 44.65%,#e0fabb 46.54%,#f5f6b8 48.43%,#f6e8aa 49.69%,#f3aa74 57.23%,#f29d69 60.38%,#f3a873 66.67%,#f6e7a9 83.02%,#f6f5b7 91.19%,#f1f7b9 100%)"></i>
<i style="height:3px;background:linear-gradient(90deg,#6b48b8 0%,#6b48b8 19.5%,#6a56b4 25.16%,#656eaf 29.56%,#5c91a8 34.59%,#609fac 35.85%,#6bbcb6 37.74%,#8ae3ca 40.25%,#a4f5cf 42.14%,#bcf9c6 44.03%,#e6f9ba 46.54%,#f6f2b4 48.43%,#f3aa74 56.6%,#f29c68 59.75%,#f3a771 66.04%,#f6e7a9 82.39%,#f6f6b8 90.57%,#f1f7b9 100%)"></i>
<i style="height:3px;background:linear-gradient(90deg,#6b48b8 0%,#6b48b8 18.87%,#6a57b4 25.16%,#666bb0 28.93%,#5d8fa9 33.96%,#61a3ad 35.85%,#68b7b4 37.11%,#87e0c9 39.62%,#a1f4d0 41.51%,#c1fac4 44.03%,#e4faba 45.91%,#f6f4b6 47.8%,#f6e5a7 49.06%,#f3a570 56.6%,#f29b67 59.75%,#f3a670 65.41%,#f6d69a 76.73%,#f6e7a9 81.76%,#f6f6b8 89.94%,#f0f7b9 100%)"></i>
<i style="height:3px;background:linear-gradient(90deg,#6b48b8 0%,#6b48b8 18.87%,#6a55b4 24.53%,#656daf 28.93%,#5c91a8 33.96%,#609fac 35.22%,#6cbdb7 37.11%,#83ddc8 38.99%,#9df2cf 40.88%,#befac5 43.4%,#e1fabb 45.28%,#f6f6b8 47.17%,#f6e6a8 48.43%,#f3a46f 55.97%,#f29966 59.12%,#f3a46f 64.78%,#f6d99c 76.73%,#f6e9ab 81.76%,#f6f6b8 89.31%,#f0f7b9 100%)"></i>
<i style="height:3px;background:linear-gradient(90deg,#6b48b8 0%,#6b48b8 18.87%,#6a56b4 24.53%,#666ab0 28.3%,#5d8fa9 33.33%,#61a3ad 35.22%,#68b8b4 36.48%,#88e1c9 38.99%,#a2f4cf 40.88%,#bbf9c6 42.77%,#e7f9ba 45.28%,#f4f6b8 46.54%,#f3a46f 55.35%,#f29865 58.49%,#f2a36e 64.15%,#f6d699 75.47%,#f6e8aa 81.13%,#f6f6b8 88.68%,#f0f7b9 100%)"></i>
<i style="height:3px;background:linear-gradient(90deg,#6b48b8 0%,#6b48b8 18.87%,#6a57b4 24.53%,#666cb0 28.3%,#5c91a8 33.33%,#63a8af 35.22%,#6cbeb7 36.48%,#85dec8 38.36%,#9ff3d0 40.25%,#c1fac4 42.77%,#e5faba 44.65%,#f6f3b5 46.54%,#f6e4a6 47.8%,#f3a36e 54.72%,#f19664 57.86%,#f2a16d 63.52%,#f6d599 74.84%,#f6e8aa 80.5%,#f6f6b8 88.05%,#eff7b9 100%)"></i>
<i style="height:3px;background:linear-gradient(90deg,#6b48b8 0%,#6b48b8 18.24%,#6a56b4 23.9%,#656eaf 28.3%,#5d8fa9 32.7%,#61a3ad 34.59%,#69b9b4 35.85%,#89e2ca 38.36%,#a4f5ce 40.25%,#bdfac5 42.14%,#e1fabb 44.03%,#f6f5b7 45.91%,#f6e5a7 47.17%,#f5c58a 50.94%,#f2a36e 54.09%,#f19562 57.23%,#f2a06b 62.89%,#f6da9d 75.47%,#f6eaac 80.5%,#f6f6b8 87.42%,#eff8b9 100%)"></i>
<i style="height:3px;background:linear-gradient(90deg,#6b48b8 0%,#6b48b8 18.24%,#6a56b4 23.9%,#666bb0 27.67%,#5c91a8 32.7%,#609fac 33.96%,#67b4b3 35.22%,#86dfc9 37.74%,#a1f4d0 39.62%,#baf9c6 41.51%,#e7f9ba 44.03%,#f5f6b8 45.28%,#f6e7a9 46.54%,#f5c58b 50.31%,#f2a36e 53.46%,#f19461 56.6%,#f29e6a 62.26%,#f6da9d 74.84%,#f6eaac 79.87%,#f6f6b8 86.79%,#eff8b9 100%)"></i>
<i style="height:3px;background:linear-gradient(90deg,#6b48b8 0%,#6b48b8 18.24%,#6a57b4 23.9%,#6377ad 28.93%,#5d8fa9 32.08%,#62a4ae 33.96%,#69bab5 35.22%,#82dcc7 37.11%,#9df2cf 38.99%,#c0fac4 41.51%,#e5faba 43.4%,#f6f1b3 45.28%,#f2a36e 52.83%,#f19563 54.72%,#f19260 55.97%,#f29d69 61.64%,#f6da9d 74.21%,#f6eaac 79.25%,#f6f6b8 86.16%,#eff8b9 100%)"></i>
<i style="height:3px;background:linear-gradient(90deg,#6b48b8 0%,#6b48b8 17.61%,#6a56b4 23.27%,#666ab0 27.04%,#5c91a8 32.08%,#609fac 33.33%,#67b5b3 34.59%,#87e0c9 37.11%,#a3f5cf 38.99%,#bdf9c5 40.88%,#e2fabb 42.77%,#f6f4b6 44.65%,#f6e4a6 45.91%,#f5c187 49.69%,#f29d69 52.83%,#f1915f 55.35%,#f29b68 61.01%,#f6da9d 73.58%,#f6eaac 78.62%,#f6f6b8 85.53%,#eef8b9 100%)"></i>
<i style="height:3px;background:linear-gradient(90deg,#6b48b8 0%,#6b48b8 17.61%,#6a56b4 23.27%,#666cb0 27.04%,#5d8fa9 31.45%,#62a4ae 33.33%,#6abbb5 34.59%,#83ddc8 36.48%,#9ff4d0 38.36%,#c4fac3 40.88%,#e8f9ba 42.77%,#f6f6b8 44.03%,#f6e5a7 45.28%,#f5c187 49.06%,#f29c69 52.2%,#f19361 53.46%,#f1905f 55.35%,#f29c69 61.01%,#f6d79a 72.33%,#f6eaac 77.99%,#f6f6b8 84.91%,#eef8b9 100%)"></i>
<i style="height:3px;background:linear-gradient(90deg,#6b48b8 0%,#6b48b8 17.61%,#6a58b4 23.27%,#666ab0 26.42%,#5c91a8 31.45%,#60a0ac 32.7%,#67b5b3 33.96%,#88e1c9 36.48%,#a5f5ce 38.36%,#c0fac4 40.25%,#e5faba 42.14%,#f4f6b8 43.4%,#f6f0b2 44.03%,#f29c68 51.57%,#f19260 52.83%,#f18f5e 54.72%,#f29865 59.75%,#f6d99c 72.33%,#f6ecae 77.99%,#f6f6b8 84.28%,#eef8b9 100%)"></i>
<i style="height:3px;background:linear-gradient(90deg,#6b48b8 0%,#6b48b8 17.61%,#6a56b4 22.64%,#666cb0 26.42%,#5d8ea9 30.82%,#62a5ae 32.7%,#6bbcb6 33.96%,#85dfc8 35.85%,#a1f4d0 37.74%,#bcf9c5 39.62%,#e2faba 41.51%,#f6f2b4 43.4%,#f29c68 50.94%,#f19260 52.2%,#f08e5d 54.09%,#f19764 59.12%,#f6d99c 71.7%,#f6ecae 77.36%,#f6f6b8 83.02%,#eef8b9 100%)"></i>
<i style="height:3px;background:linear-gradient(90deg,#6b48b8 0%,#6b48b8 16.98%,#6a57b4 22.64%,#656eaf 26.42%,#5c91a8 30.82%,#60a0ac 32.08%,#67b6b3 33.33%,#81dac6 35.22%,#9df2cf 37.11%,#c3fac3 39.62%,#e8f9ba 41.51%,#f6f5b7 42.77%,#f6e3a5 44.03%,#f5c489 47.17%,#f29c68 50.31%,#f1915f 51.57%,#f08d5d 53.46%,#f19563 58.49%,#f6d99c 71.07%,#f6ecae 76.73%,#f6f6b8 82.39%,#eef8b9 100%)"></i>
<i style="height:3px;background:linear-gradient(90deg,#6b48b8 0%,#6b48b8 16.98%,#6a58b4 22.64%,#666bb0 25.79%,#5d8ea9 30.19%,#62a5ae 32.08%,#6bbcb6 33.33%,#86e0c9 35.22%,#a3f5cf 37.11%,#bffac4 38.99%,#e6faba 40.88%,#f5f6b8 42.14%,#f6e5a7 43.4%,#f5c58a 46.54%,#f19563 50.31%,#f08c5c 52.83%,#f19462 57.86%,#f6d99c 70.44%,#f6ecae 76.1%,#f6f6b8 81.76%,#eef8b9 100%)"></i>
<i style="height:3px;background:linear-gradient(90deg,#6b48b8 0%,#6b48b8 16.98%,#6a56b4 22.01%,#656daf 25.79%,#5c91a8 30.19%,#60a0ac 31.45%,#68b7b4 32.7%,#8be4ca 35.22%,#a0f4d0 36.48%,#bbf9c6 38.36%,#e3faba 40.25%,#f6f1b3 42.14%,#f19563 49.69%,#f08b5b 52.2%,#f19260 57.23%,#f6d99c 69.81%,#f6edaf 76.1%,#f6f6b8 81.13%,#edf8b9 100%)"></i>
<i style="height:3px;background:linear-gradient(90deg,#6b48b8 0%,#6b48b8 16.98%,#6a57b4 22.01%,#666ab0 25.16%,#5d8ea9 29.56%,#62a5ae 31.45%,#6cbeb7 32.7%,#87e1c9 34.59%,#9bf0cf 35.85%,#c2fac3 38.36%,#e8f9ba 40.25%,#f6f4b6 41.51%,#f6e2a4 42.77%,#f5c086 45.91%,#f19562 49.06%,#f0895a 51.57%,#f19461 57.23%,#f6d89c 69.18%,#f6edaf 75.47%,#f6f6b8 80.5%,#edf8b9 100%)"></i>
<i style="height:3px;background:linear-gradient(90deg,#6b48b8 0%,#6b48b8 16.35%,#6a55b4 21.38%,#666cb0 25.16%,#5c91a8 29.56%,#61a0ad 30.82%,#68b8b4 32.08%,#83ddc8 33.96%,#a2f4cf 35.85%,#befac5 37.74%,#e6faba 39.62%,#f6f6b8 40.88%,#f6e3a5 42.14%,#f5c187 45.28%,#f19562 48.43%,#f08c5c 49.69%,#f0885a 51.57%,#f19260 56.6%,#f6d89b 68.55%,#f6eeb0 74.84%,#f6f6b8 79.87%,#edf8b9 100%)"></i>
<i style="height:3px;background:linear-gradient(90deg,#6b48b8 0%,#6b48b8 16.35%,#6a56b4 21.38%,#6669b0 24.53%,#5e89aa 28.3%,#5d94a9 29.56%,#62a6ae 30.82%,#6dbfb7 32.08%,#89e2c9 33.96%,#9ef2cf 35.22%,#bbf9c6 37.11%,#e3faba 38.99%,#f3f7b8 40.25%,#f6f0b2 40.88%,#f5c288 44.65%,#f19562 47.8%,#f08b5c 49.06%,#f08759 50.94%,#f19461 56.6%,#f6d89b 67.92%,#f6eeb0 74.21%,#f5f6b8 79.25%,#edf8b9 100%)"></i>
<i style="height:3px;background:linear-gradient(90deg,#6b48b8 0%,#6b48b8 16.35%,#6a57b4 21.38%,#666bb0 24.53%,#5c91a8 28.93%,#61a1ad 30.19%,#69b9b4 31.45%,#85dfc8 33.33%,#a4f5cf 35.22%,#c2fac4 37.11%,#e9f9b9 38.99%,#f6f2b4 40.25%,#f6e0a2 41.51%,#f5c389 44.03%,#f19562 47.17%,#f08b5b 48.43%,#f08658 50.31%,#f19260 55.97%,#f6d89b 67.3%,#f6eeb0 73.58%,#f6f6b8 77.99%,#ecf8b9 100%)"></i>
<i style="height:3px;background:linear-gradient(90deg,#6b48b8 0%,#6b48b8 15.72%,#6a55b4 20.75%,#656daf 24.53%,#5d94a9 28.93%,#62a6ae 30.19%,#6ec0b8 31.45%,#81d9c6 32.7%,#a0f4d0 34.59%,#befac5 36.48%,#e6f9ba 38.36%,#f6f5b7 39.62%,#f6e1a3 40.88%,#f5c48a 43.4%,#f19562 46.54%,#f08a5b 47.8%,#ef8558 49.69%,#f0895a 52.83%,#f19462 55.97%,#f5c086 62.26%,#f6d89b 66.67%,#f6eeb0 72.96%,#f6f6b8 77.36%,#ebf8b9 100%)"></i>
<i style="height:3px;background:linear-gradient(90deg,#6b48b8 0%,#6b48b8 15.72%,#6a56b4 20.75%,#666ab0 23.9%,#5c91a8 28.3%,#61a1ad 29.56%,#69bab5 30.82%,#86e0c9 32.7%,#9bf0cf 33.96%,#c6fac2 36.48%,#e4faba 37.74%,#f4f6b8 38.99%,#f5bd83 43.4%,#f19563 45.91%,#f08a5b 47.17%,#ef8457 49.06%,#f19361 55.35%,#f5bf85 61.64%,#f6d89b 66.04%,#f6eeb0 72.33%,#f6f6b8 76.73%,#eaf9b9 100%)"></i>
<i style="height:3px;background:linear-gradient(90deg,#6b48b8 0%,#6b48b8 15.72%,#6a58b4 20.75%,#666cb0 23.9%,#5d8ea9 27.67%,#63a7af 29.56%,#6ec1b9 30.82%,#82dbc7 32.08%,#97edcd 33.33%,#a2f4cf 33.96%,#c1fac4 35.85%,#e9f9b9 37.74%,#f6f1b3 38.99%,#f5be85 42.77%,#f19663 45.28%,#f08a5b 46.54%,#ef8356 48.43%,#f19260 54.72%,#f5be85 61.01%,#f6d89b 65.41%,#f6eeb0 71.7%,#f6f6b8 76.1%,#e9f9b9 100%)"></i>
<i style="height:3px;background:linear-gradient(90deg,#6b48b8 0%,#6b48b8 15.72%,#6a55b4 20.13%,#656faf 23.9%,#5c91a8 27.67%,#61a1ad 28.93%,#6abbb5 30.19%,#88e1c9 32.08%,#9ef2cf 33.33%,#bdf9c5 35.22%,#e7f9ba 37.11%,#f6f4b6 38.36%,#f6dfa2 39.62%,#f5c086 42.14%,#f19663 44.65%,#f0895a 45.91%,#ef8256 47.8%,#ef8658 50.94%,#f19461 54.72%,#f5c288 61.01%,#f6d89b 64.78%,#f6eeb0 71.07%,#f5f6b8 75.47%,#e8f9ba 100%)"></i>
<i style="height:3px;background:linear-gradient(90deg,#6b48b8 0%,#6b48b8 15.09%,#6a56b4 20.13%,#666cb0 23.27%,#5d8ea9 27.04%,#63a8af 28.93%,#67b5b3 29.56%,#83ddc8 31.45%,#99eece 32.7%,#c5fac3 35.22%,#e4faba 36.48%,#f5f6b8 37.74%,#f6e2a4 38.99%,#f5c287 41.51%,#f19764 44.03%,#f0895a 45.28%,#ef8155 47.17%,#ef8457 50.31%,#f19260 54.09%,#f5c288 60.38%,#f6d89b 64.15%,#f6f0b2 71.07%,#f6f6b8 74.21%,#e7f9ba 100%)"></i>
<i style="height:3px;background:linear-gradient(90deg,#6b48b8 0%,#6b48b8 15.09%,#6a58b4 20.13%,#656eaf 23.27%,#5c90a8 27.04%,#61a1ad 28.3%,#6bbcb6 29.56%,#7fd7c4 30.82%,#a0f4d0 32.7%,#c0fac4 34.59%,#eaf9b9 36.48%,#f6f0b2 37.74%,#f5c389 40.88%,#f18f5e 44.03%,#ef8155 45.91%,#ef8054 47.17%,#ef8557 50.31%,#f19160 53.46%,#f6d498 62.89%,#f6e2a4 65.41%,#f6efb1 69.81%,#f6f6b8 73.58%,#e6f9ba 100%)"></i>
<i style="height:3px;background:linear-gradient(90deg,#6b48b8 0%,#6b48b8 15.09%,#6a56b4 19.5%,#666bb0 22.64%,#5d8da9 26.42%,#63a8af 28.3%,#67b6b3 28.93%,#85dfc8 30.82%,#9bf0cf 32.08%,#bcf9c6 33.96%,#e7f9ba 35.85%,#f6f3b5 37.11%,#f6dda0 38.36%,#f5c58a 40.25%,#f18f5e 43.4%,#ef8155 45.28%,#ef7f53 46.54%,#ef8457 49.69%,#f1905f 52.83%,#f6d498 62.26%,#f6e2a4 64.78%,#f6efb1 69.18%,#f6f6b8 72.96%,#e5faba 100%)"></i>
<i style="height:3px;background:linear-gradient(90deg,#6b48b8 0%,#6b48b8 15.09%,#6a57b4 19.5%,#656daf 22.64%,#5c90a8 26.42%,#61a2ad 27.67%,#6cbdb7 28.93%,#80d9c5 30.19%,#96eccd 31.45%,#a2f4cf 32.08%,#c4fac3 33.96%,#e4faba 35.22%,#f6f6b8 36.48%,#f6dfa1 37.74%,#f5c68b 39.62%,#f1905e 42.77%,#ef8054 44.65%,#ee7e53 45.91%,#ef8256 49.06%,#f19361 52.83%,#f5c187 58.49%,#f6d498 61.64%,#f6e2a4 64.15%,#f6efb1 68.55%,#f6f6b8 72.33%,#e4faba 100%)"></i>
<i style="height:3px;background:linear-gradient(90deg,#6b48b8 0%,#6b48b8 14.47%,#6a58b4 19.5%,#666ab0 22.01%,#5d8da9 25.79%,#63a9af 27.67%,#68b7b4 28.3%,#86e0c9 30.19%,#9ef2cf 31.45%,#bffac4 33.33%,#eaf9b9 35.22%,#f3f7b8 35.85%,#f6eeb0 36.48%,#f5be85 39.62%,#f1905f 42.14%,#ef7f54 44.03%,#ee7c52 45.28%,#ef8155 48.43%,#f19260 52.2%,#f5c086 57.86%,#f6d89b 61.64%,#f6e2a4 63.52%,#f6f1b3 68.55%,#f5f6b8 71.7%,#e2fabb 100%)"></i>
<i style="height:3px;background:linear-gradient(90deg,#6b48b8 0%,#6b48b8 14.47%,#6a56b4 18.87%,#666cb0 22.01%,#5c90a8 25.79%,#61a2ad 27.04%,#6dbeb7 28.3%,#8de5cb 30.19%,#a5f5ce 31.45%,#bbf9c6 32.7%,#e7f9ba 34.59%,#f6f1b3 35.85%,#f6db9e 37.11%,#f5c086 38.99%,#f1915f 41.51%,#ef7f54 43.4%,#ee7b51 44.65%,#ef8054 47.8%,#f1915f 51.57%,#f5c086 57.23%,#f6d89b 61.01%,#f6e3a5 62.89%,#f6f1b3 67.92%,#f6f6b8 70.44%,#edf8b9 86.79%,#e0fabb 100%)"></i>
<i style="height:3px;background:linear-gradient(90deg,#6b48b8 0%,#6b48b8 14.47%,#6a57b4 18.87%,#6669b0 21.38%,#5d8da9 25.16%,#63a9af 27.04%,#68b8b4 27.67%,#88e1c9 29.56%,#a0f4d0 30.82%,#c3fac3 32.7%,#e5faba 33.96%,#f6f4b6 35.22%,#f6dd9f 36.48%,#f5c288 38.36%,#f19160 40.88%,#ef7e53 42.77%,#ee7a51 44.03%,#ef7f54 47.17%,#f1905e 50.94%,#f5c086 56.6%,#f6d89c 60.38%,#f6e3a5 62.26%,#f6f1b3 67.3%,#f6f6b8 69.81%,#edf8b9 86.16%,#ddfabc 100%)"></i>
<i style="height:3px;background:linear-gradient(90deg,#6b48b8 0%,#6b48b8 14.47%,#6959b3 18.87%,#666bb0 21.38%,#5c90a8 25.16%,#61a3ad 26.42%,#6dbfb8 27.67%,#83ddc8 28.93%,#9bf0cf 30.19%,#befac5 32.08%,#dffabb 33.33%,#f4f6b8 34.59%,#f6e0a2 35.85%,#f5c489 37.74%,#f19260 40.25%,#ee7e53 42.14%,#ee7950 43.4%,#ef8054 47.17%,#f19260 50.94%,#f5bf86 55.97%,#f6d99c 59.75%,#f6e3a5 61.64%,#f6f2b4 66.67%,#f6f6b8 69.18%,#edf8b9 84.91%,#dbfabd 100%)"></i>
<i style="height:3px;background:linear-gradient(90deg,#6b48b8 0%,#6b49b8 14.47%,#695ab3 18.87%,#656daf 21.38%,#5d94a9 25.16%,#69b9b4 27.04%,#7fd7c4 28.3%,#96eccd 29.56%,#a3f4cf 30.19%,#c8fac2 32.08%,#e8f9ba 33.33%,#f6f0b2 34.59%,#f5ba81 37.74%,#f19361 39.62%,#ee7e53 41.51%,#ee784f 42.77%,#ef7e53 46.54%,#f19160 50.31%,#f5bf85 55.35%,#f6d99c 59.12%,#f6e3a5 61.01%,#f6f2b4 66.04%,#edf8b9 83.65%,#d9fabd 100%)"></i>
<i style="height:3px;background:linear-gradient(90deg,#6b48b8 0%,#6b48b8 13.84%,#6a57b4 18.24%,#6570af 21.38%,#5d90a8 24.53%,#61a3ad 25.79%,#6ec1b9 27.04%,#85dfc8 28.3%,#9ef2cf 29.56%,#c2fac3 31.45%,#e5faba 32.7%,#f6f3b5 33.96%,#f6da9d 35.22%,#f5bd83 37.11%,#f19462 38.99%,#ee7d52 40.88%,#ee774e 42.77%,#ee7d52 45.91%,#f1905f 49.69%,#f5bf85 54.72%,#f6d99c 58.49%,#f6e3a5 60.38%,#f6f2b4 65.41%,#edf8b9 83.02%,#d8fabd 100%)"></i>
<i style="height:3px;background:linear-gradient(90deg,#6b48b8 0%,#6b48b8 13.84%,#6a55b4 17.61%,#666cb0 20.75%,#5d8da9 23.9%,#609eac 25.16%,#69bab5 26.42%,#8ce4ca 28.3%,#a5f5ce 29.56%,#bdf9c5 30.82%,#dffabb 32.08%,#f6f6b8 33.33%,#f6dc9f 34.59%,#f5bf85 36.48%,#f19663 38.36%,#ee7d52 40.25%,#ed764d 42.14%,#ee7c52 45.28%,#f18f5e 49.06%,#f5be85 54.09%,#f6d99c 57.86%,#f6e6a8 60.38%,#f6f3b5 64.78%,#edf8b9 81.76%,#d6fabe 100%)"></i>
<i style="height:3px;background:linear-gradient(90deg,#6b48b8 0%,#6b48b8 13.21%,#6a56b4 17.61%,#656faf 20.75%,#5d90a8 23.9%,#62a4ae 25.16%,#6fc2b9 26.42%,#87e0c9 27.67%,#a0f4d0 28.93%,#c7fac2 30.82%,#e8f9ba 32.08%,#f2f7b8 32.7%,#f6eeb0 33.33%,#f5c187 35.85%,#f08c5c 38.36%,#ee784f 40.25%,#ed744d 41.51%,#ee7a51 44.65%,#f18e5e 48.43%,#f5be84 53.46%,#f6d99c 57.23%,#f6f1b3 63.52%,#f6f6b8 66.04%,#edf8b9 80.5%,#d4fabe 100%)"></i>
<i style="height:3px;background:linear-gradient(90deg,#6b48b8 0%,#6b48b8 13.21%,#6a58b4 17.61%,#666bb0 20.13%,#5d8da9 23.27%,#64acb0 25.16%,#6abbb6 25.79%,#82dbc6 27.04%,#9bf0cf 28.3%,#c1fac4 30.19%,#e5faba 31.45%,#f6f2b4 32.7%,#f5c389 35.22%,#f08d5d 37.74%,#ee774e 39.62%,#ed734c 40.88%,#ee7c51 44.65%,#f19260 48.43%,#f5be84 52.83%,#f6d99c 56.6%,#f6f2b4 62.89%,#f5f6b8 65.41%,#edf8b9 79.25%,#d2fabf 100%)"></i>
<i style="height:3px;background:linear-gradient(90deg,#6b48b8 0%,#6b48b8 13.21%,#6a55b4 16.98%,#656eaf 20.13%,#5d90a8 23.27%,#62a4ae 24.53%,#67b4b3 25.16%,#89e2c9 27.04%,#a3f5cf 28.3%,#bcf9c5 29.56%,#e0fabb 30.82%,#f6f5b7 32.08%,#f6da9d 33.33%,#f5c68b 34.59%,#f08e5d 37.11%,#ee774e 38.99%,#ed724b 40.25%,#ee7a51 44.03%,#f1915f 47.8%,#f5bd84 52.2%,#f6da9d 55.97%,#f6f2b4 62.26%,#edf8b9 78.62%,#d0fabf 100%)"></i>
<i style="height:3px;background:linear-gradient(90deg,#6b48b8 0%,#6b48b8 13.21%,#6a56b4 16.98%,#666ab0 19.5%,#5e8ca9 22.64%,#64acb0 24.53%,#83ddc8 26.42%,#9ef2cf 27.67%,#c6fac2 29.56%,#e9f9b9 30.82%,#f3f7b8 31.45%,#f6ecae 32.08%,#f5bb82 34.59%,#f18f5e 36.48%,#ee764e 38.36%,#ed714a 39.62%,#ee7950 43.4%,#f1905f 47.17%,#f5bd84 51.57%,#f6da9d 55.35%,#f6f2b4 61.64%,#edf8b9 77.36%,#cefac0 100%)"></i>
<i style="height:3px;background:linear-gradient(90deg,#6b48b8 0%,#6b48b8 12.58%,#6a58b4 16.98%,#656daf 19.5%,#5d90a8 22.64%,#62a5ae 23.9%,#67b5b3 24.53%,#8be3ca 26.42%,#a6f5ce 27.67%,#c0fac4 28.93%,#e5faba 30.19%,#f6f0b2 31.45%,#f5be85 33.96%,#f1905f 35.85%,#ed764e 37.74%,#ed6f49 38.99%,#ee784f 42.77%,#f18f5e 46.54%,#f5c388 51.57%,#f6da9d 54.72%,#f6f3b5 61.01%,#edf8b9 76.1%,#ccfac1 100%)"></i>
<i style="height:3px;background:linear-gradient(90deg,#6b48b8 0%,#6b48b8 12.58%,#6a55b4 16.35%,#6669b0 18.87%,#5d94a9 22.64%,#609fac 23.27%,#6cbeb7 24.53%,#85dfc8 25.79%,#a1f4d0 27.04%,#bbf9c6 28.3%,#e0fabb 29.56%,#f6f4b6 30.82%,#f6d79a 32.08%,#f5c187 33.33%,#f19260 35.22%,#ed764e 37.11%,#ed6e49 38.99%,#ee764e 42.14%,#f18e5d 45.91%,#f5c388 50.94%,#f6dfa1 54.72%,#f6f3b5 60.38%,#edf8b9 75.47%,#cafac1 100%)"></i>
<i style="height:3px;background:linear-gradient(90deg,#6b48b8 0%,#6b48b8 12.58%,#6a56b4 16.35%,#666cb0 18.87%,#5f88aa 21.38%,#62a5ae 23.27%,#67b6b3 23.9%,#80d8c5 25.16%,#9bf0cf 26.42%,#c5fac3 28.3%,#e9f9b9 29.56%,#f4f6b8 30.19%,#f6da9d 31.45%,#f5c489 32.7%,#f19461 34.59%,#ed764e 36.48%,#ec6d48 38.36%,#ee784f 42.14%,#f19260 45.91%,#f5c389 50.31%,#f6dfa2 54.09%,#f6f3b5 59.75%,#edf8b9 74.21%,#c9fac2 100%)"></i>
<i style="height:3px;background:linear-gradient(90deg,#6b48b8 0%,#6b48b8 12.58%,#6a58b4 16.35%,#656faf 18.87%,#5d94a9 22.01%,#609fac 22.64%,#6dbfb8 23.9%,#87e0c9 25.16%,#a3f5cf 26.42%,#bffac4 27.67%,#e6faba 28.93%,#f6eeb0 30.19%,#f0895a 34.59%,#ed704a 36.48%,#ec6c47 37.74%,#ee774e 41.51%,#f19160 45.28%,#f5c389 49.69%,#f6e0a2 53.46%,#f6f4b6 59.12%,#edf8b9 72.96%,#c7fac2 100%)"></i>
<i style="height:3px;background:linear-gradient(90deg,#6b48b8 0%,#6b49b8 12.58%,#695ab3 16.35%,#666bb0 18.24%,#5e99aa 22.01%,#68b7b4 23.27%,#81dac6 24.53%,#9ef2cf 25.79%,#cbfac1 27.67%,#e0fabb 28.3%,#f6f2b4 29.56%,#f5bb82 32.08%,#f08a5b 33.96%,#ed6f49 35.85%,#ec6a46 37.11%,#ed754d 40.88%,#f1915f 44.65%,#f5c389 49.06%,#f6e0a3 52.83%,#f6f4b6 58.49%,#edf8b9 71.7%,#c9fac1 94.97%,#c6fac2 100%)"></i>
<i style="height:3px;background:linear-gradient(90deg,#6b48b8 0%,#6b48b8 11.95%,#6a57b4 15.72%,#656eaf 18.24%,#5d94a9 21.38%,#609fac 22.01%,#6ec1b9 23.27%,#89e2c9 24.53%,#a6f5ce 25.79%,#c4fac3 27.04%,#e9f9b9 28.3%,#f5f6b8 28.93%,#f6d79a 30.19%,#f5be85 31.45%,#f08c5c 33.33%,#ed6f49 35.22%,#ec6946 36.48%,#ed744d 40.25%,#f1905f 44.03%,#f5c389 48.43%,#f6e1a3 52.2%,#f6f5b7 57.86%,#edf8b9 71.07%,#c9fac2 93.71%,#c5fac3 100%)"></i>
<i style="height:3px;background:linear-gradient(90deg,#6b48b8 0%,#6b48b8 11.95%,#6959b3 15.72%,#6669b0 17.61%,#5d8fa9 20.75%,#63a7af 22.01%,#68b9b4 22.64%,#83ddc7 23.9%,#a1f4d0 25.16%,#bdfac5 26.42%,#e6faba 27.67%,#f2f7b8 28.3%,#f6edaf 28.93%,#f6db9e 29.56%,#f5c287 30.82%,#f08e5d 32.7%,#ed6f49 34.59%,#eb6846 35.85%,#ed704a 38.99%,#f18f5e 43.4%,#f5c389 47.8%,#f6e2a4 51.57%,#f6f5b7 57.23%,#edf8b9 69.81%,#cafac1 91.82%,#c4fac3 100%)"></i>
<i style="height:3px;background:linear-gradient(90deg,#6b48b8 0%,#6b49b8 11.95%,#695bb3 15.72%,#666cb0 17.61%,#5c94a8 20.75%,#66b0b2 22.01%,#70c2b9 22.64%,#9bf0ce 24.53%,#cafac1 26.42%,#e0fabb 27.04%,#f6f1b3 28.3%,#f5c48a 30.19%,#f18f5e 32.08%,#ed6f49 33.96%,#eb6746 35.22%,#ed6e49 38.36%,#f18e5e 42.77%,#f5c389 47.17%,#f6e2a4 50.94%,#f6f5b7 56.6%,#edf8b9 68.55%,#c9fac1 90.57%,#c3fac3 100%)"></i>
<i style="height:3px;background:linear-gradient(90deg,#6b48b8 0%,#6b48b8 11.32%,#6a57b4 15.09%,#6668b0 16.98%,#5d8fa9 20.13%,#63a8af 21.38%,#69bab5 22.01%,#85dfc8 23.27%,#a4f5cf 24.53%,#c2fac3 25.79%,#eaf9b9 27.04%,#f6f5b7 27.67%,#f6d498 28.93%,#f4b77f 30.19%,#f19160 31.45%,#ed6f49 33.33%,#ea6646 34.59%,#ec6d48 37.74%,#f08e5d 42.14%,#f5c489 46.54%,#f6e3a5 50.31%,#f6f6b8 55.97%,#e5faba 74.21%,#c9fac1 89.31%,#c1fac4 100%)"></i>
<i style="height:3px;background:linear-gradient(90deg,#6b48b8 0%,#6b48b8 11.32%,#6a55b4 14.47%,#666bb0 16.98%,#5c93a8 20.13%,#60a0ac 20.75%,#71c4ba 22.01%,#8ee6cb 23.27%,#9ef2cf 23.9%,#bcf9c5 25.16%,#e6faba 26.42%,#f3f7b8 27.04%,#f6ebad 27.67%,#f6d79a 28.3%,#f5bb82 29.56%,#f19462 30.82%,#ee7950 32.08%,#eb6846 33.33%,#e96545 34.59%,#ed6f49 37.74%,#f08d5d 41.51%,#f5c489 45.91%,#f6dfa1 49.06%,#f6f5b7 54.72%,#e5faba 72.96%,#c9fac2 88.05%,#c0fac4 100%)"></i>
<i style="height:3px;background:linear-gradient(90deg,#6b48b8 0%,#6b48b8 11.32%,#6a56b4 14.47%,#656eaf 16.98%,#5d8fa9 19.5%,#63a8af 20.75%,#6abbb6 21.38%,#87e1c9 22.64%,#97edcd 23.27%,#a7f5cd 23.9%,#c9fac2 25.16%,#e0fabb 25.79%,#eff8b9 26.42%,#f6efb1 27.04%,#f5bf85 28.93%,#f19764 30.19%,#f08759 30.82%,#eb6746 32.7%,#e96345 33.96%,#ec6d48 37.11%,#f08c5c 40.88%,#f5bd84 44.65%,#f6dfa2 48.43%,#f6f5b7 54.09%,#e4faba 72.33%,#c9fac2 86.79%,#bffac4 100%)"></i>
<i style="height:3px;background:linear-gradient(90deg,#6b48b8 0%,#6b48b8 10.69%,#6a58b4 14.47%,#666ab0 16.35%,#5c93a8 19.5%,#60a0ac 20.13%,#66b2b2 20.75%,#81dac6 22.01%,#90e8cb 22.64%,#a1f4d0 23.27%,#c1fac4 24.53%,#eaf9b9 25.79%,#f6f4b6 26.42%,#f5c288 28.3%,#f0895a 30.19%,#ea6746 32.08%,#e86245 33.33%,#ec6b47 36.48%,#ef8558 39.62%,#f19260 40.88%,#f5c48a 44.65%,#f6e0a2 47.8%,#f6f6b8 53.46%,#e4faba 71.07%,#c9fac1 84.91%,#befac5 100%)"></i>
<i style="height:3px;background:linear-gradient(90deg,#6b48b8 0%,#6b48b8 10.69%,#6a55b4 13.84%,#656daf 16.35%,#5f86aa 18.24%,#5e9aaa 19.5%,#63a9af 20.13%,#6cbdb7 20.75%,#8ae2ca 22.01%,#9aefce 22.64%,#bbf9c6 23.9%,#e6faba 25.16%,#f4f6b8 25.79%,#f5c68b 27.67%,#f08b5b 29.56%,#ea6746 31.45%,#e76045 32.7%,#ea6746 35.22%,#ee784f 37.74%,#f1915f 40.25%,#f5bd84 43.4%,#f6d69a 45.91%,#f6e4a6 47.8%,#f6f5b7 52.2%,#e4faba 69.81%,#c9fac2 83.65%,#bdf9c5 100%)"></i>
<i style="height:3px;background:linear-gradient(90deg,#6b48b8 0%,#6b48b8 10.69%,#6a56b4 13.84%,#6571af 16.35%,#5c93a8 18.87%,#61a1ad 19.5%,#67b4b3 20.13%,#83ddc7 21.38%,#93eacc 22.01%,#a4f5ce 22.64%,#c7fac2 23.9%,#e0fabb 24.53%,#eff7b9 25.16%,#f6edaf 25.79%,#f4b77f 27.67%,#f08d5d 28.93%,#ea6646 30.82%,#e75f45 32.08%,#ea6545 34.59%,#ee774e 37.11%,#f1905f 39.62%,#f5be84 42.77%,#f6d79a 45.28%,#f6e5a7 47.17%,#f6f5b7 51.57%,#e4faba 68.55%,#c9fac2 82.39%,#bcf9c6 100%)"></i>
<i style="height:3px;background:linear-gradient(90deg,#6b48b8 0%,#6b48b8 10.69%,#6a58b4 13.84%,#666cb0 15.72%,#5d8ea9 18.24%,#64aab0 19.5%,#6dbfb7 20.13%,#7cd4c2 20.75%,#9ef2cf 22.01%,#bffac4 23.27%,#ebf8b9 24.53%,#f6f2b4 25.16%,#f5bc83 27.04%,#f1905f 28.3%,#ea6646 30.19%,#e65e45 31.45%,#e96445 33.96%,#ed754d 36.48%,#f1905e 38.99%,#f5be84 42.14%,#f6d89b 44.65%,#f6e8aa 47.17%,#f6f6b8 50.94%,#e4faba 67.3%,#c9fac1 80.5%,#baf9c6 100%)"></i>
<i style="height:3px;background:linear-gradient(90deg,#6b48b8 0%,#6b49b8 10.69%,#695ab3 13.84%,#656faf 15.72%,#5c93a8 18.24%,#67b5b3 19.5%,#85dfc8 20.75%,#96eccd 21.38%,#a8f5cd 22.01%,#cffac0 23.27%,#e7f9ba 23.9%,#f5f6b8 24.53%,#f5c086 26.42%,#f19361 27.67%,#ea6746 29.56%,#e55c44 30.82%,#e86245 33.33%,#ed744d 35.85%,#f18f5e 38.36%,#f5be85 41.51%,#f6d89c 44.03%,#f6e9ab 46.54%,#f6f6b8 50.31%,#e4faba 66.04%,#c9fac1 79.25%,#b9f9c7 100%)"></i>
<i style="height:3px;background:linear-gradient(90deg,#6b48b8 0%,#6b48b8 10.06%,#6a56b4 13.21%,#666ab0 15.09%,#5d8ea9 17.61%,#64abb0 18.87%,#7ed6c4 20.13%,#a1f4cf 21.38%,#c6fac2 22.64%,#e0fabb 23.27%,#f0f7b9 23.9%,#f6ebad 24.53%,#f6d397 25.16%,#f5c48a 25.79%,#f19764 27.04%,#ef8457 27.67%,#eb6746 28.93%,#e55b44 30.19%,#e76145 32.7%,#ed734c 35.22%,#f18e5e 37.74%,#f5bf85 40.88%,#f6d99c 43.4%,#f6e7a9 45.28%,#f6f5b7 49.06%,#e4faba 64.78%,#c9fac2 77.99%,#b8f8c7 100%)"></i>
<i style="height:3px;background:linear-gradient(90deg,#6b48b8 0%,#6b48b8 10.06%,#6959b3 13.21%,#656eaf 15.09%,#5c93a8 17.61%,#61a1ad 18.24%,#68b7b4 18.87%,#88e1c9 20.13%,#9aefce 20.75%,#befac5 22.01%,#ecf8b9 23.27%,#f6f0b2 23.9%,#f29b68 26.42%,#ed764e 27.67%,#e65e45 28.93%,#e45a44 30.19%,#e86245 32.7%,#ee784f 35.22%,#f19764 37.74%,#f5bf85 40.25%,#f6e0a2 43.4%,#f6f6b8 48.43%,#e5faba 63.52%,#c9fac2 76.73%,#b7f8c8 100%)"></i>
<i style="height:3px;background:linear-gradient(90deg,#6b48b8 0%,#6b48b8 10.06%,#695bb3 13.21%,#6472ae 15.09%,#5f9aab 17.61%,#70c2b9 18.87%,#92e9cc 20.13%,#a5f5ce 20.75%,#cdfac0 22.01%,#e7f9ba 22.64%,#f6f6b8 23.27%,#f2a06c 25.79%,#ee784f 27.04%,#eb6846 27.67%,#e65e45 28.3%,#e35844 29.56%,#e76145 32.08%,#ec6a46 33.33%,#ee774e 34.59%,#f19664 37.11%,#f5c086 39.62%,#f6e1a3 42.77%,#f6f6b8 47.8%,#e5faba 62.26%,#c9fac1 74.84%,#b5f8c8 100%)"></i>
<i style="height:3px;background:linear-gradient(90deg,#6b48b8 0%,#6b48b8 9.434%,#6a57b4 12.58%,#666cb0 14.47%,#5c93a8 16.98%,#61a2ad 17.61%,#68b8b4 18.24%,#8ae3ca 19.5%,#9ef2cf 20.13%,#c4fac3 21.38%,#e0fabb 22.01%,#f1f7b9 22.64%,#f6e8aa 23.27%,#f5d094 23.9%,#f5be85 24.53%,#f08d5d 25.79%,#ee7a50 26.42%,#ec6a46 27.04%,#e65e45 27.67%,#e25744 28.93%,#e55c44 30.82%,#ed6f49 33.33%,#f19663 36.48%,#f5c186 38.99%,#f6d699 40.88%,#f6e5a7 42.77%,#f6f5b7 46.54%,#e5faba 61.01%,#c9fac2 73.58%,#b4f8c9 100%)"></i>
<i style="height:3px;background:linear-gradient(90deg,#6b48b8 0%,#6b48b8 9.434%,#6959b3 12.58%,#5d8ea9 16.35%,#65aeb1 17.61%,#83dcc7 18.87%,#95eccd 19.5%,#bcf9c6 20.75%,#ecf8b9 22.01%,#f6eeb0 22.64%,#f5c388 23.9%,#f1905f 25.16%,#ee7c52 25.79%,#ec6b47 26.42%,#e65f45 27.04%,#e25544 28.3%,#e45a44 30.19%,#ec6e48 32.7%,#f19663 35.85%,#f5c187 38.36%,#f6d79a 40.25%,#f6e6a8 42.14%,#f6f6b8 45.91%,#e5faba 59.75%,#c9fac2 72.33%,#b2f7c9 100%)"></i>
<i style="height:3px;background:linear-gradient(90deg,#6b48b8 0%,#6b48b8 9.434%,#695cb3 12.58%,#666bb0 13.84%,#5c93a8 16.35%,#61a3ad 16.98%,#69bab5 17.61%,#8de5cb 18.87%,#a2f4cf 19.5%,#ccfac1 20.75%,#e7f9ba 21.38%,#f6f4b6 22.01%,#f19562 24.53%,#ef7f54 25.16%,#ec6d48 25.79%,#e75f45 26.42%,#e15444 27.67%,#e35944 29.56%,#ec6c47 32.08%,#f19663 35.22%,#f5c288 37.74%,#f6d89b 39.62%,#f6e7a9 41.51%,#f6f6b8 45.28%,#e4faba 59.12%,#c9fac2 71.07%,#b1f7ca 100%)"></i>
<i style="height:3px;background:linear-gradient(90deg,#6b48b8 0%,#6b49b8 9.434%,#6a57b4 11.95%,#5d8da9 15.72%,#65afb1 16.98%,#85dfc8 18.24%,#99efce 18.87%,#c2fac3 20.13%,#e0fabb 20.75%,#f2f7b8 21.38%,#f6e6a8 22.01%,#f29a67 23.9%,#ed6f49 25.16%,#e25644 26.42%,#e05243 27.04%,#e35744 28.93%,#ec6b47 31.45%,#f19563 34.59%,#f5c388 37.11%,#f6d99c 38.99%,#f6e8aa 40.88%,#f6f5b7 44.03%,#e4faba 57.86%,#c9fac2 69.18%,#aff7ca 100%)"></i>
<i style="height:3px;background:linear-gradient(90deg,#6b48b8 0%,#6b4ab8 9.434%,#695ab3 11.95%,#6669b0 13.21%,#5c93a8 15.72%,#62a3ae 16.35%,#6bbcb6 16.98%,#91e8cc 18.24%,#a6f5ce 18.87%,#baf9c6 19.5%,#d5fabe 20.13%,#edf8b9 20.75%,#f6ecae 21.38%,#f5d094 22.01%,#f5bc83 22.64%,#f2a06b 23.27%,#ed714b 24.53%,#e25644 25.79%,#e05143 26.42%,#e25644 28.3%,#ec6a46 30.82%,#f19563 33.96%,#f4b980 35.85%,#f6d397 37.74%,#f6e5a7 39.62%,#f6f6b8 43.4%,#e4faba 56.6%,#c9fac2 67.92%,#adf6cb 100%)"></i>
<i style="height:3px;background:linear-gradient(90deg,#6b48b8 0%,#6b48b8 8.805%,#6a56b4 11.32%,#656daf 13.21%,#5d8da9 15.09%,#5f9bab 15.72%,#66b0b2 16.35%,#88e1c9 17.61%,#9ef2cf 18.24%,#cafac1 19.5%,#e7f9ba 20.13%,#f6f2b4 20.75%,#f5c288 22.01%,#f08a5b 23.27%,#ed744d 23.9%,#e25644 25.16%,#df5043 26.42%,#e35844 28.3%,#ed704a 30.82%,#f19563 33.33%,#f5c48a 35.85%,#f6db9e 37.74%,#f6e9ab 39.62%,#f6f6b8 42.77%,#e4faba 55.35%,#c9fac2 66.67%,#acf6cc 100%)"></i>
<i style="height:3px;background:linear-gradient(90deg,#6b48b8 0%,#6b48b8 8.805%,#6a58b4 11.32%,#5f87aa 14.47%,#5c93a8 15.09%,#62a4ae 15.72%,#6cbeb7 16.35%,#80d8c5 16.98%,#94ebcd 17.61%,#aaf6cc 18.24%,#c0fac4 18.87%,#dffabb 19.5%,#f3f7b8 20.13%,#f6e3a5 20.75%,#f08e5d 22.64%,#ee774e 23.27%,#e86345 23.9%,#e25544 24.53%,#de4e43 25.79%,#e25544 27.67%,#ed6e49 30.19%,#f19562 32.7%,#f5bb82 34.59%,#f6d599 36.48%,#f6e7a9 38.36%,#f6f5b7 41.51%,#e4faba 54.09%,#c9fac1 64.78%,#abf6cc 100%)"></i>
<i style="height:3px;background:linear-gradient(90deg,#6b48b8 0%,#6b49b8 8.805%,#6a54b4 10.69%,#6763b1 11.95%,#5f9bab 15.09%,#66b2b2 15.72%,#8be4ca 16.98%,#a2f4cf 17.61%,#b8f8c7 18.24%,#d4fabe 18.87%,#eef8b9 19.5%,#f6e9ab 20.13%,#f19160 22.01%,#ee7950 22.64%,#e96345 23.27%,#e15444 23.9%,#dd4b43 24.53%,#dc4a42 25.16%,#e05243 27.04%,#ec6c47 29.56%,#f19361 32.08%,#f5bb82 33.96%,#f6d699 35.85%,#f6e7a9 37.74%,#f6f6b8 40.88%,#e4faba 52.83%,#c9fac2 63.52%,#abf6cc 94.34%,#aaf6cc 100%)"></i>
<i style="height:3px;background:linear-gradient(90deg,#6b48b8 0%,#6b48b8 8.176%,#6a56b4 10.69%,#627bad 13.21%,#5c93a8 14.47%,#62a5ae 15.09%,#6ec0b8 15.72%,#83dcc7 16.35%,#99eece 16.98%,#c9fac2 18.24%,#e8f9ba 18.87%,#f6f0b2 19.5%,#f19664 21.38%,#ee7b51 22.01%,#e96445 22.64%,#e15343 23.27%,#db4942 23.9%,#da4742 24.53%,#de4e43 26.42%,#ec6946 28.93%,#f19260 31.45%,#f5bb82 33.33%,#f6d79a 35.22%,#f6e8aa 37.11%,#f6f6b8 40.25%,#e5faba 51.57%,#c9fac2 62.26%,#acf6cc 91.82%,#aaf6cc 100%)"></i>
<i style="height:3px;background:linear-gradient(90deg,#6b48b8 0%,#6b48b8 8.176%,#6a58b4 10.69%,#666ab0 11.95%,#5d8ca9 13.84%,#5f9cab 14.47%,#67b4b3 15.09%,#8fe7cb 16.35%,#a7f5cd 16.98%,#befac5 17.61%,#e0fabb 18.24%,#f5f6b8 18.87%,#f6dc9f 19.5%,#f29c68 20.75%,#ef7f53 21.38%,#ea6646 22.01%,#e05343 22.64%,#da4742 23.27%,#d84342 23.9%,#df5043 26.42%,#ed704a 28.93%,#f1915f 30.82%,#f5bb82 32.7%,#f6d89b 34.59%,#f6e5a7 35.85%,#f6f5b7 38.99%,#e5faba 50.31%,#c8fac2 61.01%,#acf6cc 89.94%,#a9f6cc 100%)"></i>
<i style="height:3px;background:linear-gradient(90deg,#6b48b8 0%,#6b48b8 8.176%,#695cb3 10.69%,#5c92a8 13.84%,#62a6ae 14.47%,#70c3ba 15.09%,#86dfc8 15.72%,#9ef2cf 16.35%,#d3fabf 17.61%,#eff8b9 18.24%,#f6e5a7 18.87%,#f2a36e 20.13%,#ef8256 20.75%,#eb6746 21.38%,#d94542 22.64%,#d54043 23.27%,#dd4d43 25.79%,#ed6e49 28.3%,#f1905f 30.19%,#f5bc83 32.08%,#f5d094 33.33%,#f6e6a8 35.22%,#f6f6b8 38.36%,#e5faba 49.06%,#c9fac2 59.12%,#acf6cc 87.42%,#a9f6cd 100%)"></i>
<i style="height:3px;background:linear-gradient(90deg,#6b48b8 0%,#6b48b8 7.547%,#6a56b4 10.06%,#6668b0 11.32%,#5e8ca9 13.21%,#5f9cab 13.84%,#67b5b3 14.47%,#93eacc 15.72%,#acf6cc 16.35%,#c7fac2 16.98%,#e8f9ba 17.61%,#f6edaf 18.24%,#f5c98e 18.87%,#f08759 20.13%,#ec6a46 20.75%,#d84342 22.01%,#d23d43 22.64%,#dc4942 25.16%,#ec6c47 27.67%,#f1905f 29.56%,#f5bd83 31.45%,#f6d195 32.7%,#f6e6a8 34.59%,#f6f6b8 37.74%,#e5faba 47.8%,#c9fac2 57.86%,#c1fac4 64.15%,#acf6cc 85.53%,#a8f6cd 100%)"></i>
<i style="height:3px;background:linear-gradient(90deg,#6b48b8 0%,#6b48b8 7.547%,#6959b3 10.06%,#666cb0 11.32%,#5c92a8 13.21%,#63a8af 13.84%,#72c6bb 14.47%,#89e2c9 15.09%,#a3f5cf 15.72%,#bcf9c6 16.35%,#e0fabb 16.98%,#f6f4b6 17.61%,#f08c5c 19.5%,#ec6d48 20.13%,#e15444 20.75%,#d74243 21.38%,#d03a44 22.01%,#d23d43 23.27%,#da4642 24.53%,#ec6a46 27.04%,#f18f5e 28.93%,#f5be84 30.82%,#f6d296 32.08%,#f6e3a5 33.33%,#f6f5b7 36.48%,#e5faba 46.54%,#cafac1 55.97%,#c0fac4 62.89%,#abf6cc 83.65%,#a8f5cd 100%)"></i>
<i style="height:3px;background:linear-gradient(90deg,#6b48b8 0%,#6b48b8 7.547%,#6b4cb7 8.176%,#6a55b4 9.434%,#6766b1 10.69%,#5f9cab 13.21%,#68b8b4 13.84%,#7fd7c4 14.47%,#98eece 15.09%,#b2f7c9 15.72%,#d2fabf 16.35%,#f0f7b9 16.98%,#f6e0a2 17.61%,#f19260 18.87%,#ed714b 19.5%,#e25644 20.13%,#d64143 20.75%,#ce3744 21.38%,#cd3744 22.01%,#d74342 23.9%,#eb6846 26.42%,#f18f5e 28.3%,#f5bf85 30.19%,#f6d498 31.45%,#f6e4a6 32.7%,#f6f6b8 35.85%,#e4faba 45.91%,#c9fac1 54.72%,#c1fac4 61.01%,#acf6cc 81.13%,#a7f5cd 100%)"></i>
<i style="height:3px;background:linear-gradient(90deg,#6b48b8 0%,#6b49b8 7.547%,#6a57b4 9.434%,#666ab0 10.69%,#5c92a8 12.58%,#63a9af 13.21%,#74c9bd 13.84%,#8de5cb 14.47%,#a8f6cd 15.09%,#c5fac3 15.72%,#e9f9b9 16.35%,#f6e9ab 16.98%,#f29966 18.24%,#ed764e 18.87%,#e35744 19.5%,#d54043 20.13%,#cb3445 20.75%,#ca3345 21.38%,#d43f43 23.27%,#ea6646 25.79%,#f18e5e 27.67%,#f5c086 29.56%,#f6d599 30.82%,#f6eaac 32.7%,#f5f6b8 35.22%,#e4faba 44.65%,#c9fac2 53.46%,#c0fac4 59.75%,#abf6cc 79.25%,#a6f5ce 100%)"></i>
<i style="height:3px;background:linear-gradient(90deg,#6b48b8 0%,#6b4ab7 7.547%,#6a53b5 8.805%,#6764b1 10.06%,#5f9dab 12.58%,#69bab5 13.21%,#82dcc7 13.84%,#9ef2cf 14.47%,#b9f9c7 15.09%,#e0fabb 15.72%,#f6f1b3 16.35%,#f2a16c 17.61%,#ee7a50 18.24%,#e35944 18.87%,#d43f43 19.5%,#c73045 20.13%,#c52d46 20.75%,#ca3345 22.01%,#d64143 23.27%,#ed704a 25.79%,#f08d5d 27.04%,#f5c187 28.93%,#f6d69a 30.19%,#f6e6a8 31.45%,#f6f5b7 33.96%,#e4faba 43.4%,#cafac1 51.57%,#c0fac4 58.49%,#abf6cc 77.36%,#a6f5ce 100%)"></i>
<i style="height:3px;background:linear-gradient(90deg,#6b48b8 0%,#6b4bb7 7.547%,#685eb2 9.434%,#5c92a8 11.95%,#64abb0 12.58%,#77ccbf 13.21%,#92e9cc 13.84%,#aef7cb 14.47%,#d1fabf 15.09%,#f2f7b8 15.72%,#f6d79b 16.35%,#f3a973 16.98%,#ef7f54 17.61%,#e45b44 18.24%,#d33e43 18.87%,#c42c46 19.5%,#c02946 20.13%,#c52e46 21.38%,#d23d43 22.64%,#ec6d48 25.16%,#f08c5c 26.42%,#f5c187 28.3%,#f6d89b 29.56%,#f6e7a9 30.82%,#f6f6b8 33.33%,#e4faba 42.14%,#c9fac1 50.31%,#c0fac4 56.6%,#abf6cc 74.84%,#a5f5ce 100%)"></i>
<i style="height:3px;background:linear-gradient(90deg,#6b48b8 0%,#6b48b8 6.918%,#6a57b4 8.805%,#656daf 10.06%,#5f9dab 11.95%,#6bbdb6 12.58%,#86e0c9 13.21%,#a4f5cf 13.84%,#c2fac3 14.47%,#eaf9b9 15.09%,#f6e4a6 15.72%,#f4b27b 16.35%,#ef8558 16.98%,#e65e45 17.61%,#d33e43 18.24%,#c12a46 18.87%,#ba2647 19.5%,#c62f46 21.38%,#d74243 22.64%,#ec6b47 24.53%,#f08b5c 25.79%,#f5c288 27.67%,#f6d99c 28.93%,#f6e8aa 30.19%,#f5f6b8 32.7%,#e4faba 40.88%,#c9fac2 49.06%,#bffac4 55.35%,#abf6cc 72.96%,#a4f5cf 100%)"></i>
<i style="height:3px;background:linear-gradient(90deg,#6b48b8 0%,#6b49b8 6.918%,#695bb3 8.805%,#5c92a8 11.32%,#64acb0 11.95%,#7ad1c1 12.58%,#97edcd 13.21%,#b6f8c8 13.84%,#e0fabb 14.47%,#f6eeb0 15.09%,#f08c5c 16.35%,#e86245 16.98%,#d43f43 17.61%,#be2846 18.24%,#b52347 18.87%,#bb2647 20.13%,#ca3345 21.38%,#eb6946 23.9%,#f08b5b 25.16%,#f5c489 27.04%,#f5d094 27.67%,#f6e4a6 28.93%,#f6f5b7 31.45%,#e5faba 39.62%,#cafac1 47.17%,#c0fac4 53.46%,#acf6cc 70.44%,#a3f5cf 100%)"></i>
<i style="height:3px;background:linear-gradient(90deg,#6b48b8 0%,#6b4bb7 6.918%,#6a55b4 8.176%,#666bb0 9.434%,#5e8aaa 10.69%,#609eac 11.32%,#6ec0b8 11.95%,#8ae3ca 12.58%,#aaf6cc 13.21%,#d0fac0 13.84%,#f5f6b8 14.47%,#f5cd91 15.09%,#f19562 15.72%,#eb6846 16.35%,#d64143 16.98%,#bc2747 17.61%,#b02048 18.24%,#b52347 19.5%,#c52e46 20.75%,#db4742 22.01%,#ea6746 23.27%,#f08a5b 24.53%,#f4b47c 25.79%,#f6d296 27.04%,#f6e5a7 28.3%,#f6f6b8 30.82%,#e5faba 38.36%,#c8fac2 46.54%,#acf6cb 67.92%,#a2f4cf 100%)"></i>
<i style="height:3px;background:linear-gradient(90deg,#6b48b8 0%,#6b48b8 6.289%,#6a58b4 8.176%,#5c92a8 10.69%,#65aeb1 11.32%,#7ed5c3 11.95%,#9ef2cf 12.58%,#bffac4 13.21%,#ebf8b9 13.84%,#f6dc9f 14.47%,#f2a06c 15.09%,#ed6f49 15.72%,#d84442 16.35%,#bb2747 16.98%,#ab1d48 17.61%,#af1f48 18.87%,#c12a46 20.13%,#d84442 21.38%,#ea6545 22.64%,#f08b5b 23.9%,#f4b67e 25.16%,#f6d498 26.42%,#f6e7a9 27.67%,#f5f6b8 30.19%,#e5faba 37.11%,#c9fac2 44.65%,#acf6cc 66.04%,#a1f4d0 100%)"></i>
<i style="height:3px;background:linear-gradient(90deg,#6b48b8 0%,#6b48b8 6.289%,#6a53b5 7.547%,#6669b0 8.805%,#5e89aa 10.06%,#609eac 10.69%,#70c3ba 11.32%,#8fe7cb 11.95%,#b2f7c9 12.58%,#dffabb 13.21%,#f6eaac 13.84%,#f4b078 14.47%,#ee7b51 15.09%,#dd4d43 15.72%,#c02a46 16.35%,#ac1d48 16.98%,#ab1c48 17.61%,#c02a46 19.5%,#d94442 20.75%,#ea6746 22.01%,#f08e5d 23.27%,#f5bb82 24.53%,#f5cb90 25.16%,#f6e3a5 26.42%,#f6f6b8 28.93%,#e5faba 35.85%,#c9fac2 43.4%,#acf6cb 63.52%,#a0f4d0 100%)"></i>
<i style="height:3px;background:linear-gradient(90deg,#6b48b8 0%,#6b48b8 5.66%,#6a55b4 7.547%,#656faf 8.805%,#5c91a8 10.06%,#66b1b2 10.69%,#81dbc6 11.32%,#a4f5ce 11.95%,#ccfac1 12.58%,#f6f6b8 13.21%,#f5c489 13.84%,#f08759 14.47%,#e25644 15.09%,#c62e46 15.72%,#ae1e48 16.35%,#aa1c48 16.98%,#ae1f48 17.61%,#c02a46 18.87%,#d94542 20.13%,#ec6946 21.38%,#f19160 22.64%,#f5c086 23.9%,#f5cf93 24.53%,#f6e5a7 25.79%,#f5f6b8 28.3%,#e5faba 34.59%,#c8fac2 42.14%,#acf6cc 61.64%,#9ff3d0 100%)"></i>
<i style="height:3px;background:linear-gradient(90deg,#6b48b8 0%,#6b48b8 5.66%,#6959b3 7.547%,#6376ae 8.805%,#609fac 10.06%,#73c7bc 10.69%,#95ebcd 11.32%,#baf9c6 11.95%,#ebf8b9 12.58%,#f6d79a 13.21%,#f19562 13.84%,#e76145 14.47%,#cb3545 15.09%,#b02048 15.72%,#aa1c48 16.35%,#ae1e48 16.98%,#c02a46 18.24%,#da4642 19.5%,#ec6c47 20.75%,#f19663 22.01%,#f5c48a 23.27%,#f6d397 23.9%,#f6e7a9 25.16%,#f6f6b8 27.04%,#e5faba 33.33%,#c9fac1 40.25%,#abf6cc 59.75%,#9df2cf 100%)"></i>
<i style="height:3px;background:linear-gradient(90deg,#6b48b8 0%,#6b48b8 5.66%,#6a54b5 6.918%,#685fb2 7.547%,#5c92a8 9.434%,#67b4b3 10.06%,#86e0c9 10.69%,#acf6cc 11.32%,#dbfabc 11.95%,#f6e9ab 12.58%,#f3a872 13.21%,#ed6e49 13.84%,#d43e43 14.47%,#b52347 15.09%,#ac1d48 15.72%,#af1f48 16.35%,#c22b46 17.61%,#dc4942 18.87%,#ed704a 20.13%,#f4b77e 22.01%,#f6d89b 23.27%,#f6ebad 24.53%,#f4f6b8 26.42%,#e5faba 32.08%,#c8fac2 38.99%,#acf6cc 57.23%,#9df1cf 100%)"></i>
<i style="height:3px;background:linear-gradient(90deg,#6b48b8 0%,#6b4cb7 5.031%,#6a55b4 6.289%,#5c92a8 8.805%,#64acb0 9.434%,#7cd3c2 10.06%,#9df2cf 10.69%,#c1fac4 11.32%,#f0f7b9 11.95%,#f5cd92 12.58%,#f19462 13.21%,#e86345 13.84%,#d54043 14.47%,#cb3545 15.09%,#d33e43 16.35%,#ea6646 18.24%,#f08d5d 19.5%,#f5bf85 20.75%,#f5d094 21.38%,#f6e9ab 22.64%,#f6f6b8 23.9%,#ecf8b9 25.79%,#e5faba 28.93%,#cffac0 32.7%,#befac5 37.11%,#a5f5ce 55.35%,#97edcd 100%)"></i>
<i style="height:3px;background:linear-gradient(90deg,#6b48b8 0%,#6b4ab7 3.145%,#6959b3 5.66%,#5e89aa 7.547%,#609fac 8.176%,#68b8b4 8.805%,#94eacd 10.06%,#aff7ca 10.69%,#d5fabe 11.32%,#f6f4b6 11.95%,#f5d498 12.58%,#f2a771 13.21%,#ee8055 13.84%,#ec724c 14.47%,#ed7a51 15.72%,#f09060 16.98%,#f4c98f 18.87%,#f4e5a8 20.13%,#f3f5b8 21.38%,#e8f7b9 22.64%,#d3f8be 25.79%,#b2f5c8 33.96%,#a0f2cf 45.91%,#98ebcd 52.83%,#8ce2ca 100%)"></i>
<i style="height:3px;background:linear-gradient(90deg,#6b48b8 0%,#6b49b8 2.516%,#6a54b4 4.403%,#685fb2 5.031%,#5d95a9 6.918%,#65afb1 7.547%,#83dcc7 8.805%,#a5f5ce 10.06%,#b8f8c7 10.69%,#d7fabe 11.32%,#eff7b9 11.95%,#f5ebae 12.58%,#f5d89c 13.21%,#f4cd92 13.84%,#f3d197 15.09%,#f1f3b8 18.24%,#def6bb 20.13%,#c5f5c1 22.01%,#b9f3c5 23.9%,#a0edce 32.08%,#90e0c9 40.25%,#86d8c6 51.57%,#80cfc1 100%)"></i>
<i style="height:3px;background:linear-gradient(90deg,#6b48b8 0%,#6b49b8 2.516%,#6a53b5 3.774%,#656eaf 5.031%,#5e99aa 6.289%,#68b7b4 6.918%,#7bd2c1 7.547%,#8be4ca 8.176%,#a1f4d0 9.434%,#c5fac3 11.32%,#e2f9ba 12.58%,#e5f8ba 13.84%,#e1f7ba 15.09%,#baf3c4 18.87%,#a9edca 22.01%,#a0e9cd 25.16%,#89d4c5 32.7%,#7cc2bb 41.51%,#78beb9 49.06%,#76bab7 100%)"></i>
<i style="height:3px;background:linear-gradient(90deg,#6b48b8 0%,#6b4ab8 2.516%,#6a55b4 3.774%,#5d8fa9 5.66%,#65aeb1 6.289%,#77ccbe 6.918%,#8ae3ca 7.547%,#a2f4cf 8.805%,#aff6ca 11.95%,#b0f5ca 13.84%,#9feacd 20.13%,#7cbdb9 33.33%,#76afb4 42.14%,#75acb3 100%)"></i>
<i style="height:3px;background:linear-gradient(90deg,#6b48b8 0%,#6b4ab8 2.516%,#6a55b4 3.774%,#5c92a8 5.66%,#66b2b2 6.289%,#7ad1c1 6.918%,#8de5cb 7.547%,#9cf1cf 8.176%,#a3f5cf 8.805%,#a0edce 17.61%,#7ab8b7 33.33%,#76abb3 41.51%,#75a9b2 100%)"></i>
<i style="height:3px;background:linear-gradient(90deg,#6b48b8 0%,#6b4ab8 2.516%,#6a55b4 3.774%,#5c92a8 5.66%,#66b2b2 6.289%,#7ad1c1 6.918%,#8de5cb 7.547%,#9cf1cf 8.176%,#a3f5cf 8.805%,#a0eece 17.61%,#7ab9b7 33.96%,#76adb3 42.14%,#76acb3 100%)"></i>
<i style="height:3px;background:linear-gradient(90deg,#6b48b8 0%,#6b4ab8 2.516%,#6a55b4 3.774%,#5c92a8 5.66%,#66b2b2 6.289%,#7ad1c1 6.918%,#8de5cb 7.547%,#9cf1cf 8.176%,#a3f5cf 8.805%,#a0eece 17.61%,#7fbfbb 33.33%,#78b2b5 42.14%,#77b0b5 100%)"></i>
<i style="height:3px;background:linear-gradient(90deg,#6b48b8 0%,#6b4ab8 2.516%,#6a55b4 3.774%,#5c92a8 5.66%,#66b2b2 6.289%,#7ad1c1 6.918%,#8ee5cb 7.547%,#9cf1cf 8.176%,#a4f5cf 8.805%,#a0eece 17.61%,#81c3bc 33.96%,#79b7b7 42.14%,#79b5b6 100%)"></i>
<i style="height:3px;background:linear-gradient(90deg,#6b48b8 0%,#6b4ab8 2.516%,#6a55b4 3.774%,#5c92a8 5.66%,#66b3b2 6.289%,#7ad1c1 6.918%,#8ee6cb 7.547%,#9cf1cf 8.176%,#a4f5cf 8.805%,#a0eece 17.61%,#83c5be 34.59%,#7bbab8 42.77%,#7ab9b8 100%)"></i>
<i style="height:3px;background:linear-gradient(90deg,#6b48b8 0%,#6b4ab8 2.516%,#6a55b4 3.774%,#5c92a8 5.66%,#66b3b2 6.289%,#7bd1c1 6.918%,#8ee6cb 7.547%,#9cf1cf 8.176%,#a4f5cf 8.805%,#a0eece 17.61%,#85c8bf 34.59%,#7dbdb9 42.77%,#7cbcb9 100%)"></i>
<i style="height:3px;background:linear-gradient(90deg,#6b48b8 0%,#6b4ab8 2.516%,#6a55b4 3.774%,#5c92a8 5.66%,#66b3b2 6.289%,#7bd2c2 6.918%,#8ee6cb 7.547%,#9df1cf 8.176%,#a4f5ce 8.805%,#a0edce 18.24%,#86c8c0 35.22%,#7ebeba 42.77%,#7dbdba 100%)"></i>
<i style="height:3px;background:linear-gradient(90deg,#6b48b8 0%,#6b4ab8 2.516%,#6a55b4 3.774%,#5c93a8 5.66%,#67b4b3 6.289%,#7bd2c2 6.918%,#8fe6cb 7.547%,#9df2cf 8.176%,#a5f5ce 8.805%,#a1edce 18.24%,#92d7c7 27.67%,#7fbfbb 42.77%,#7ebeba 100%)"></i>
<i style="height:3px;background:linear-gradient(90deg,#6b48b8 0%,#6b4ab8 2.516%,#6a55b4 3.774%,#5c93a8 5.66%,#67b5b3 6.289%,#7cd3c2 6.918%,#90e7cb 7.547%,#9ef3d0 8.176%,#a5f5ce 8.805%,#a0eccd 18.87%,#93d8c7 27.67%,#80c0bb 42.77%,#7ebeba 100%)"></i>
<i style="height:3px;background:linear-gradient(90deg,#6b48b8 0%,#6b4ab8 2.516%,#6a56b4 3.774%,#5d94a9 5.66%,#67b6b3 6.289%,#7dd5c3 6.918%,#91e8cc 7.547%,#a0f4d0 8.176%,#a7f5ce 8.805%,#a1eccd 18.87%,#94d9c7 27.67%,#80c2bc 42.77%,#7ebeba 100%)"></i>
<i style="height:3px;background:linear-gradient(90deg,#6b48b8 0%,#6b4ab8 2.516%,#6a56b4 3.774%,#5d96a9 5.66%,#68b7b4 6.289%,#7fd7c4 6.918%,#92e9cc 7.547%,#a1f4d0 8.176%,#a8f6cd 8.805%,#a6f0cc 16.35%,#81c3bc 43.4%,#7ebeba 100%)"></i>
<i style="height:3px;background:linear-gradient(90deg,#6b48b8 0%,#6b4ab7 2.516%,#6a56b4 3.774%,#5e97aa 5.66%,#69b9b5 6.289%,#80d9c5 6.918%,#94ebcd 7.547%,#a3f5cf 8.176%,#aaf6cc 8.805%,#a8f1cc 16.35%,#a0e8cc 22.01%,#95d9c7 28.93%,#83c4bd 43.4%,#7ebeba 100%)"></i>
<i style="height:3px;background:linear-gradient(90deg,#6b48b8 0%,#6b4ab7 2.516%,#6a56b4 3.774%,#5e99aa 5.66%,#6bbcb6 6.289%,#82dcc7 6.918%,#97edcd 7.547%,#a5f5ce 8.176%,#acf6cc 8.805%,#a9f1cb 16.35%,#a0e6cc 23.27%,#84c6be 43.4%,#7ebeba 72.33%,#7ebeba 100%)"></i>
<i style="height:3px;background:linear-gradient(90deg,#6b48b8 0%,#6b4ab7 2.516%,#6a56b4 3.774%,#6180ac 5.031%,#5f9bab 5.66%,#6cbeb7 6.289%,#84dec8 6.918%,#99eece 7.547%,#aef7cb 8.805%,#acf2ca 15.72%,#9fe5cb 24.53%,#85c8bf 44.03%,#7ebeba 72.33%,#7ebeba 100%)"></i>
<i style="height:3px;background:linear-gradient(90deg,#6b48b8 0%,#6b4ab7 2.516%,#6a57b4 3.774%,#6081ab 5.031%,#5f9cab 5.66%,#6ec0b8 6.289%,#86dfc9 6.918%,#9bf0ce 7.547%,#b0f7ca 8.805%,#adf2ca 15.72%,#a0e4cb 25.16%,#86c9c0 44.03%,#7ebfba 72.33%,#7ebeba 100%)"></i>
<i style="height:3px;background:linear-gradient(90deg,#6b48b8 0%,#6b4ab7 2.516%,#6a57b4 3.774%,#6082ab 5.031%,#609dac 5.66%,#6fc1b9 6.289%,#87e0c9 6.918%,#9cf1cf 7.547%,#b1f7ca 8.805%,#aff3c9 15.72%,#a0e4cb 25.79%,#87cac0 44.03%,#7ebfba 72.33%,#7ebeba 100%)"></i>
<i style="height:3px;background:linear-gradient(90deg,#6b48b8 0%,#6b4ab7 2.516%,#6a57b4 3.774%,#6082ab 5.031%,#609eac 5.66%,#6fc1b9 6.289%,#87e1c9 6.918%,#9cf1cf 7.547%,#b1f7ca 8.805%,#aff3c9 15.72%,#a0e4cb 25.79%,#87cbc1 44.03%,#7ebfba 72.33%,#7ebeba 100%)"></i>
<i style="height:3px;background:linear-gradient(90deg,#6b48b8 0%,#6b4ab7 2.516%,#6a57b4 3.774%,#6082ab 5.031%,#609dac 5.66%,#6ec1b9 6.289%,#87e0c9 6.918%,#9cf1cf 7.547%,#b1f7ca 8.805%,#aef3c9 15.72%,#a0e4cb 25.79%,#87cac0 44.03%,#7ebfba 72.33%,#7ebeba 100%)"></i>
<i style="height:3px;background:linear-gradient(90deg,#6b48b8 0%,#6b4ab7 2.516%,#6a57b4 3.774%,#6181ab 5.031%,#5f9cab 5.66%,#6dbfb8 6.289%,#86dfc8 6.918%,#9af0ce 7.547%,#aff7ca 8.805%,#adf2ca 15.72%,#a0e4cb 25.16%,#86c9c0 44.03%,#7ebfba 72.33%,#7ebeba 100%)"></i>
<i style="height:3px;background:linear-gradient(90deg,#6b48b8 0%,#6b4ab7 2.516%,#6a56b4 3.774%,#6180ac 5.031%,#5f9aab 5.66%,#6cbeb7 6.289%,#84dec8 6.918%,#98eece 7.547%,#aef7cb 8.805%,#abf1ca 16.35%,#a0e6cb 23.9%,#85c7bf 44.03%,#7ebeba 72.33%,#7ebeba 100%)"></i>
<i style="height:3px;background:linear-gradient(90deg,#6b48b8 0%,#6b4ab7 2.516%,#6a56b4 3.774%,#5e99aa 5.66%,#6abbb6 6.289%,#82dbc7 6.918%,#96eccd 7.547%,#a4f5ce 8.176%,#acf6cc 8.805%,#a9f1cb 16.35%,#a0e6cc 23.27%,#84c6be 43.4%,#7ebeba 100%)"></i>
<i style="height:3px;background:linear-gradient(90deg,#6b48b8 0%,#6b4ab7 2.516%,#6a56b4 3.774%,#5e97aa 5.66%,#69b9b5 6.289%,#80d9c5 6.918%,#94ebcd 7.547%,#a3f4cf 8.176%,#aaf6cc 8.805%,#a7f0cc 16.35%,#82c4bd 43.4%,#7ebeba 100%)"></i>
<i style="height:3px;background:linear-gradient(90deg,#6b48b8 0%,#6b4ab8 2.516%,#6a56b4 3.774%,#5d95a9 5.66%,#68b7b4 6.289%,#7ed6c4 6.918%,#92e9cc 7.547%,#a1f4d0 8.176%,#a8f5cd 8.805%,#a5efcc 16.98%,#81c2bc 43.4%,#7ebeba 100%)"></i>
<i style="height:3px;background:linear-gradient(90deg,#6b48b8 0%,#6b4ab8 2.516%,#6a56b4 3.774%,#5d94a9 5.66%,#67b6b3 6.289%,#7dd5c3 6.918%,#91e8cc 7.547%,#9ff3d0 8.176%,#a6f5ce 8.805%,#a1eccd 18.87%,#94d9c7 27.67%,#80c1bc 42.77%,#7ebeba 100%)"></i>
<i style="height:3px;background:linear-gradient(90deg,#6b48b8 0%,#6b4ab8 2.516%,#6a55b4 3.774%,#5c93a8 5.66%,#67b4b3 6.289%,#7cd3c2 6.918%,#8fe7cb 7.547%,#9ef2cf 8.176%,#a5f5ce 8.805%,#a0eccd 18.87%,#93d8c7 27.67%,#80c0bb 42.77%,#7ebeba 100%)"></i>
<i style="height:3px;background:linear-gradient(90deg,#6b48b8 0%,#6b4ab8 2.516%,#6a55b4 3.774%,#5c93a8 5.66%,#67b4b3 6.289%,#7cd3c2 6.918%,#8fe7cb 7.547%,#9ef2cf 8.176%,#a5f5ce 8.805%,#a0eccd 18.87%,#93d8c7 27.67%,#80c0bb 42.77%,#7ebeba 100%)"></i>
<i style="height:3px;background:linear-gradient(90deg,#6b48b8 0%,#6b4ab8 2.516%,#6a55b4 3.774%,#5c93a8 5.66%,#67b4b3 6.289%,#7cd3c2 6.918%,#8fe7cb 7.547%,#9ef2cf 8.176%,#a5f5ce 8.805%,#a0eccd 18.87%,#93d8c7 27.67%,#80c0bb 42.77%,#7ebeba 100%)"></i>
</div></div>
<div style="position:absolute;left:1379.8px;top:1792.7px;width:359.2px;height:364.3px;overflow:hidden">
<div style="position:absolute;left:-6px;top:-6px;width:371.2px;height:378px;filter:blur(1.2px)">
<i style="height:3px;background:linear-gradient(90deg,#625fa0 0%,#625fa0 100%)"></i>
<i style="height:3px;background:linear-gradient(90deg,#625fa0 0%,#625fa0 100%)"></i>
<i style="height:3px;background:linear-gradient(90deg,#6260a0 0%,#625fa0 100%)"></i>
<i style="height:3px;background:linear-gradient(90deg,#6260a0 0%,#6260a0 100%)"></i>
<i style="height:3px;background:linear-gradient(90deg,#6260a0 0%,#6260a0 100%)"></i>
<i style="height:3px;background:linear-gradient(90deg,#6261a0 0%,#6260a0 100%)"></i>
<i style="height:3px;background:linear-gradient(90deg,#6161a0 0%,#6260a0 100%)"></i>
<i style="height:3px;background:linear-gradient(90deg,#6161a0 0%,#6261a0 100%)"></i>
<i style="height:3px;background:linear-gradient(90deg,#6162a0 0%,#6261a0 100%)"></i>
<i style="height:3px;background:linear-gradient(90deg,#6162a0 0%,#6161a0 100%)"></i>
<i style="height:3px;background:linear-gradient(90deg,#6163a0 0%,#6161a0 100%)"></i>
<i style="height:3px;background:linear-gradient(90deg,#6164a0 0%,#6162a0 100%)"></i>
<i style="height:3px;background:linear-gradient(90deg,#6164a0 0%,#6162a0 100%)"></i>
<i style="height:3px;background:linear-gradient(90deg,#6165a0 0%,#6162a0 100%)"></i>
<i style="height:3px;background:linear-gradient(90deg,#6166a0 0%,#6162a0 100%)"></i>
<i style="height:3px;background:linear-gradient(90deg,#6167a0 0%,#6162a0 100%)"></i>
<i style="height:3px;background:linear-gradient(90deg,#6168a0 0%,#6163a0 100%)"></i>
<i style="height:3px;background:linear-gradient(90deg,#6169a0 0%,#6163a0 100%)"></i>
<i style="height:3px;background:linear-gradient(90deg,#616ba0 0%,#6164a0 100%)"></i>
<i style="height:3px;background:linear-gradient(90deg,#606da0 0%,#6165a0 100%)"></i>
<i style="height:3px;background:linear-gradient(90deg,#606fa0 0%,#6165a0 100%)"></i>
<i style="height:3px;background:linear-gradient(90deg,#6073a0 0%,#6169a0 46.07%,#6166a0 100%)"></i>
<i style="height:3px;background:linear-gradient(90deg,#5f76a0 0%,#6169a0 46.07%,#6167a0 100%)"></i>
<i style="height:3px;background:linear-gradient(90deg,#5f7aa0 0%,#606ba0 44.94%,#6167a0 100%)"></i>
<i style="height:3px;background:linear-gradient(90deg,#5e80a0 0%,#606ea0 43.82%,#6168a0 100%)"></i>
<i style="height:3px;background:linear-gradient(90deg,#5d87a0 0%,#6070a0 42.7%,#6169a0 100%)"></i>
<i style="height:3px;background:linear-gradient(90deg,#5c8ea0 0%,#5e7ea0 20.22%,#6073a0 44.94%,#616aa0 100%)"></i>
<i style="height:3px;background:linear-gradient(90deg,#5d96a2 0%,#5f76a0 44.94%,#606ca0 100%)"></i>
<i style="height:3px;background:linear-gradient(90deg,#609fa6 0%,#5c92a0 13.48%,#5f7aa0 44.94%,#606ea0 100%)"></i>
<i style="height:3px;background:linear-gradient(90deg,#66b2ad 0%,#65adab 6.742%,#5c93a1 20.22%,#5e7fa0 44.94%,#6070a0 100%)"></i>
<i style="height:3px;background:linear-gradient(90deg,#73c6b8 0%,#6ec0b4 6.742%,#609da5 20.22%,#5d87a0 42.7%,#5f7aa0 68.54%,#6073a0 100%)"></i>
<i style="height:3px;background:linear-gradient(90deg,#82dbc3 0%,#7dd4bf 6.742%,#67b3ae 16.85%,#5c8fa0 42.7%,#5e7fa0 68.54%,#5f76a0 100%)"></i>
<i style="height:3px;background:linear-gradient(90deg,#91e6c8 0%,#8fe5c7 4.494%,#85dec4 10.11%,#6fc2b5 20.22%,#69b9b1 29.21%,#5d94a1 46.07%,#5f79a0 100%)"></i>
<i style="height:3px;background:linear-gradient(90deg,#9eefcb 0%,#99ecca 6.742%,#81dac2 19.1%,#7bd2be 26.97%,#69b9b1 35.96%,#61a2a7 43.82%,#5c8ea0 66.29%,#5e7ea0 100%)"></i>
<i style="height:3px;background:linear-gradient(90deg,#aaf2ca 0%,#a1f0cc 10.11%,#93e7c8 17.98%,#85dfc4 30.34%,#66b2ad 43.82%,#5d95a1 68.54%,#5e85a0 100%)"></i>
<i style="height:3px;background:linear-gradient(90deg,#b6f4c7 0%,#b3f3c8 5.618%,#a1f0cc 17.98%,#99ecca 28.09%,#84ddc4 37.08%,#71c4b6 46.07%,#6cbdb3 53.93%,#609ea5 69.66%,#5d8ca0 100%)"></i>
<i style="height:3px;background:linear-gradient(90deg,#c1f6c5 0%,#abf2ca 25.84%,#9ff0cc 32.58%,#84dec4 43.82%,#7cd3be 53.93%,#68b6af 65.17%,#5e97a2 92.13%,#5d94a1 100%)"></i>
<i style="height:3px;background:linear-gradient(90deg,#ccf6c3 0%,#b8f4c7 26.97%,#a1f0cc 38.2%,#94e9c9 43.82%,#8ce3c6 53.93%,#85dec4 58.43%,#71c5b7 69.66%,#6cbdb3 78.65%,#61a1a6 93.26%,#5f9da5 100%)"></i>
<i style="height:3px;background:linear-gradient(90deg,#d7f7c1 0%,#c6f6c4 25.84%,#a3f1cb 43.82%,#9deecb 52.81%,#84dec4 67.42%,#7ed7c0 76.4%,#66b3ae 93.26%,#65afac 100%)"></i>
<i style="height:3px;background:linear-gradient(90deg,#e1f8bf 0%,#cff7c2 26.97%,#b2f3c8 42.7%,#a0f0cc 60.67%,#93e8c8 68.54%,#88e0c5 82.02%,#76cbba 93.26%,#73c7b8 100%)"></i>
<i style="height:3px;background:linear-gradient(90deg,#e9f7be 0%,#d9f7c0 26.97%,#c0f5c5 42.7%,#b8f4c7 53.93%,#a3f1cb 68.54%,#a0f0cc 75.28%,#87e0c5 93.26%,#85dec4 100%)"></i>
<i style="height:3px;background:linear-gradient(90deg,#eef6bd 0%,#e2f8bf 26.97%,#caf6c3 43.82%,#c6f6c4 52.81%,#a1f0cc 87.64%,#97eac9 100%)"></i>
<i style="height:3px;background:linear-gradient(90deg,#f3f5bc 0%,#e6f8be 31.46%,#d2f7c1 44.94%,#a9f2ca 100%)"></i>
<i style="height:3px;background:linear-gradient(90deg,#f6f1b8 0%,#ecf6bd 29.21%,#dbf7c0 46.07%,#bbf4c6 100%)"></i>
<i style="height:3px;background:linear-gradient(90deg,#f6eab0 0%,#f6f4bc 16.85%,#f3f5bc 26.97%,#d8f7c1 67.42%,#caf6c3 100%)"></i>
<i style="height:3px;background:linear-gradient(90deg,#f6e3a8 0%,#f5f4bc 32.58%,#e9f7be 46.07%,#d7f7c1 100%)"></i>
<i style="height:3px;background:linear-gradient(90deg,#f6da9f 0%,#f6e6ab 25.84%,#f6f4bc 37.08%,#edf6bd 47.19%,#e4f8be 100%)"></i>
<i style="height:3px;background:linear-gradient(90deg,#f5d096 0%,#f6dca1 25.84%,#f6f4bc 41.57%,#ebf7bd 100%)"></i>
<i style="height:3px;background:linear-gradient(90deg,#f4c38c 0%,#f5cf96 25.84%,#f6e7ad 39.33%,#f6f0b7 47.19%,#f2f5bd 100%)"></i>
<i style="height:3px;background:linear-gradient(90deg,#f3b37f 0%,#f4c38c 26.97%,#f6e0a4 40.45%,#f6e6ab 46.07%,#f6edb3 100%)"></i>
<i style="height:3px;background:linear-gradient(90deg,#f0a172 0%,#f3b27f 25.84%,#f6db9f 47.19%,#f6e0a4 100%)"></i>
<i style="height:3px;background:linear-gradient(90deg,#ee8f65 0%,#f1a373 26.97%,#f4c08a 39.33%,#f5cc93 47.19%,#f5cc94 100%)"></i>
<i style="height:3px;background:linear-gradient(90deg,#ec8861 0%,#ef976b 26.97%,#f4bb85 42.7%,#f4c089 47.19%,#f4ba85 100%)"></i>
<i style="height:3px;background:linear-gradient(90deg,#eb815d 0%,#ee8e64 26.97%,#f2ad7b 42.7%,#f3b27f 48.31%,#f1a474 100%)"></i>
<i style="height:3px;background:linear-gradient(90deg,#e97b5a 0%,#ec8861 28.09%,#f1a374 48.31%,#ee8d64 100%)"></i>
<i style="height:3px;background:linear-gradient(90deg,#e77456 0%,#eb815d 28.09%,#ef9469 48.31%,#ea7e5c 100%)"></i>
<i style="height:3px;background:linear-gradient(90deg,#e56e53 0%,#ed8961 48.31%,#e66f54 100%)"></i>
<i style="height:3px;background:linear-gradient(90deg,#e46950 0%,#ea805d 49.44%,#e67054 68.54%,#df614f 100%)"></i>
<i style="height:3px;background:linear-gradient(90deg,#e66e53 0%,#e56c52 24.72%,#e87758 50.56%,#e26650 67.42%,#d6554c 100%)"></i>
<i style="height:3px;background:linear-gradient(90deg,#e77456 0%,#e56a51 22.47%,#e66f53 50.56%,#dc5d4e 68.54%,#cf4c4a 100%)"></i>
<i style="height:3px;background:linear-gradient(90deg,#e97959 0%,#e36650 51.69%,#d6554c 68.54%,#c64349 100%)"></i>
<i style="height:3px;background:linear-gradient(90deg,#ea7f5c 0%,#e77356 26.97%,#e2654f 41.57%,#df614f 51.69%,#d14e4b 68.54%,#ce4a4a 78.65%,#bf3c49 92.13%,#bc3949 100%)"></i>
<i style="height:3px;background:linear-gradient(90deg,#ec855f 0%,#e87959 25.84%,#e46850 37.08%,#da5a4d 53.93%,#ca474a 68.54%,#b23148 100%)"></i>
<i style="height:3px;background:linear-gradient(90deg,#ed8a62 0%,#ea7e5b 25.84%,#e46a51 35.96%,#db5c4e 43.82%,#d4524c 56.18%,#c23f49 68.54%,#a62b47 100%)"></i>
<i style="height:3px;background:linear-gradient(90deg,#ef9267 0%,#eb835e 25.84%,#e46951 35.96%,#d7564c 44.94%,#cf4b4a 57.3%,#ba3748 68.54%,#b53348 77.53%,#9f2747 92.13%,#9b2446 100%)"></i>
<i style="height:3px;background:linear-gradient(90deg,#f09f71 0%,#ec8761 25.84%,#e97959 31.46%,#e46950 35.96%,#d5534c 43.82%,#ce4a4a 53.93%,#b53348 66.29%,#982346 93.26%,#962246 100%)"></i>
<i style="height:3px;background:linear-gradient(90deg,#f2ac7a 0%,#f2a978 5.618%,#ef9468 17.98%,#ee8e64 24.72%,#ea805d 30.34%,#e46850 35.96%,#d24f4b 43.82%,#c9454a 53.93%,#b33148 64.04%,#a72b47 70.79%,#962246 100%)"></i>
<i style="height:3px;background:linear-gradient(90deg,#f4b984 0%,#f3b682 5.618%,#f09f70 17.98%,#ef976a 25.84%,#e36650 37.08%,#ce4b4a 46.07%,#c9454a 53.93%,#b13048 67.42%,#962246 100%)"></i>
<i style="height:3px;background:linear-gradient(90deg,#f4c48c 0%,#f4c089 6.742%,#f2aa79 17.98%,#f1a172 25.84%,#e46750 38.2%,#d2504b 46.07%,#ce4a4a 53.93%,#b53348 69.66%,#b13048 77.53%,#9a2446 92.13%,#962246 100%)"></i>
<i style="height:3px;background:linear-gradient(90deg,#f5cf96 0%,#f5cb93 6.742%,#f3b380 19.1%,#f2ac7a 25.84%,#e46850 39.33%,#d6554c 46.07%,#cf4b4a 57.3%,#bc3949 68.54%,#b73448 77.53%,#9a2446 93.26%,#962246 100%)"></i>
<i style="height:3px;background:linear-gradient(90deg,#f6e1a5 0%,#f6dea2 5.618%,#f4c18a 17.98%,#f3b782 25.84%,#f2a978 29.21%,#ee8d63 33.71%,#e66f54 39.33%,#d9594d 46.07%,#d3514b 56.18%,#c23f49 68.54%,#bc3949 77.53%,#9a2446 93.26%,#962246 100%)"></i>
<i style="height:3px;background:linear-gradient(90deg,#f6ecb3 0%,#f6e6ab 7.865%,#f5c890 19.1%,#f4bd87 26.97%,#f2ad7b 30.34%,#ee8e64 34.83%,#e36750 42.7%,#dc5d4e 47.19%,#d8584d 55.06%,#c9464a 67.42%,#c23f49 77.53%,#a42a47 93.26%,#a02747 100%)"></i>
<i style="height:3px;background:linear-gradient(90deg,#f4f4bc 0%,#f6f1b9 6.742%,#f5d198 19.1%,#f5c68e 26.97%,#f3b883 30.34%,#ee8f65 35.96%,#e46950 43.82%,#cf4b4a 67.42%,#c9454a 77.53%,#b43248 91.01%,#ad2e48 100%)"></i>
<i style="height:3px;background:linear-gradient(90deg,#eef6bd 0%,#f6f4bc 8.989%,#f6dca0 19.1%,#f5d197 26.97%,#f4be87 31.46%,#ee8d64 38.2%,#e56d53 46.07%,#d6554c 67.42%,#d14e4b 78.65%,#bc3a49 93.26%,#b93748 100%)"></i>
<i style="height:3px;background:linear-gradient(90deg,#e9f7be 0%,#f5f4bc 11.24%,#f6e4a9 19.1%,#f6dba0 26.97%,#f4bc86 33.71%,#ee8c63 40.45%,#e87858 46.07%,#e0634f 66.29%,#dd5e4e 76.4%,#c8444a 93.26%,#c44149 100%)"></i>
<i style="height:3px;background:linear-gradient(90deg,#dff8bf 0%,#e0f8bf 3.371%,#f6f4bc 14.61%,#f6e1a6 28.09%,#f4c18a 34.83%,#ef9368 41.57%,#eb835e 46.07%,#e46951 78.65%,#d4524c 92.13%,#d04d4b 100%)"></i>
<i style="height:3px;background:linear-gradient(90deg,#d3f7c1 0%,#d6f7c1 4.494%,#e7f8be 10.11%,#f6f4bc 17.98%,#f6e8ae 28.09%,#f6dea3 31.46%,#f09c6e 42.7%,#ee8e64 46.07%,#ea7f5c 75.28%,#e36750 91.01%,#df624f 100%)"></i>
<i style="height:3px;background:linear-gradient(90deg,#ccf6c3 0%,#cff7c2 4.494%,#e8f8be 12.36%,#f6f4bc 22.47%,#f6f0b8 26.97%,#f6e2a6 32.58%,#f2ac7a 42.7%,#f09c6e 47.19%,#ef9367 75.28%,#ea7e5b 92.13%,#e97a5a 100%)"></i>
<i style="height:3px;background:linear-gradient(90deg,#c7f6c3 0%,#caf6c3 4.494%,#e6f8be 12.36%,#f5f4bc 22.47%,#f6f1b9 26.97%,#f6e5aa 32.58%,#f4c089 41.57%,#f2ae7c 47.19%,#f2ae7c 75.28%,#ef996c 93.26%,#ef966a 100%)"></i>
<i style="height:3px;background:linear-gradient(90deg,#c2f6c4 0%,#c6f6c4 4.494%,#e8f8be 13.48%,#f5f4bc 21.35%,#f6f4bc 25.84%,#f6edb3 30.34%,#f6dfa4 35.96%,#f5cb93 41.57%,#f4bf88 47.19%,#f5c78f 74.16%,#f3b883 100%)"></i>
<i style="height:3px;background:linear-gradient(90deg,#bef5c5 0%,#c4f6c4 5.618%,#e7f8be 13.48%,#f4f4bc 21.35%,#f6f1b8 29.21%,#f5d49a 42.7%,#f5cc94 48.31%,#f6dba0 70.79%,#f5d69c 100%)"></i>
<i style="height:3px;background:linear-gradient(90deg,#baf4c6 0%,#c0f5c5 5.618%,#e5f8be 13.48%,#f4f5bc 21.35%,#f6f3bb 28.09%,#f6da9f 48.31%,#f6e7ad 68.54%,#f6f1b9 100%)"></i>
<i style="height:3px;background:linear-gradient(90deg,#b5f4c7 0%,#bcf5c6 5.618%,#e7f8be 14.61%,#f4f4bc 22.47%,#f6f4bc 29.21%,#f6e4a9 49.44%,#f6f3bb 70.79%,#ebf7bd 100%)"></i>
<i style="height:3px;background:linear-gradient(90deg,#b8f4c7 0%,#bff5c5 5.618%,#e7f8be 14.61%,#f4f5bc 22.47%,#f6edb4 48.31%,#f6f4bc 59.55%,#def8bf 100%)"></i>
<i style="height:3px;background:linear-gradient(90deg,#bcf5c6 0%,#c2f6c4 5.618%,#e8f8be 14.61%,#f3f5bc 22.47%,#f4f4bc 50.56%,#e7f8be 77.53%,#cef7c2 93.26%,#caf6c3 100%)"></i>
<i style="height:3px;background:linear-gradient(90deg,#c1f5c5 0%,#c6f6c4 5.618%,#e8f7be 14.61%,#f3f5bc 24.72%,#ebf7bd 57.3%,#dcf7c0 76.4%,#c0f5c5 92.13%,#bbf4c6 100%)"></i>
<i style="height:3px;background:linear-gradient(90deg,#c5f6c4 0%,#cbf6c3 5.618%,#e7f8be 13.48%,#edf6bd 16.85%,#f2f5bc 26.97%,#e6f8be 57.3%,#d4f7c1 67.42%,#ccf6c3 78.65%,#b1f3c8 93.26%,#aef2c9 100%)"></i>
<i style="height:3px;background:linear-gradient(90deg,#caf6c3 0%,#cff7c2 5.618%,#e5f8be 12.36%,#edf6bd 16.85%,#f2f5bd 26.97%,#e3f8bf 52.81%,#c8f6c3 67.42%,#c0f5c5 77.53%,#a6f1cb 92.13%,#a0f0cc 100%)"></i>
<i style="height:3px;background:linear-gradient(90deg,#cef7c2 0%,#d1f7c2 4.494%,#e6f8be 12.36%,#eff6bd 17.98%,#f0f5bd 28.09%,#d9f7c0 52.81%,#bcf5c6 67.42%,#b5f3c7 77.53%,#96eac9 93.26%,#92e7c8 100%)"></i>
<i style="height:3px;background:linear-gradient(90deg,#d3f7c1 0%,#d5f7c1 4.494%,#e5f8be 11.24%,#eff6bd 17.98%,#f0f6bd 28.09%,#e5f8be 37.08%,#d4f7c1 44.94%,#cdf7c2 53.93%,#aff3c9 68.54%,#a5f1cb 80.9%,#90e5c7 93.26%,#8ce3c6 100%)"></i>
<i style="height:3px;background:linear-gradient(90deg,#d8f7c1 0%,#daf7c0 4.494%,#eff6bd 17.98%,#f0f6bd 26.97%,#e6f8be 34.83%,#cdf7c2 43.82%,#c3f6c4 53.93%,#a4f1cb 68.54%,#88e1c5 100%)"></i>
<i style="height:3px;background:linear-gradient(90deg,#dcf7c0 0%,#f0f6bd 19.1%,#eff6bd 26.97%,#e5f8be 33.71%,#c3f6c4 43.82%,#b8f4c7 53.93%,#97eac9 68.54%,#84dec4 100%)"></i>
<i style="height:3px;background:linear-gradient(90deg,#e0f8bf 0%,#eff6bd 19.1%,#eef6bd 26.97%,#e4f8be 32.58%,#c2f6c4 40.45%,#b5f4c7 44.94%,#abf2ca 55.06%,#8ee5c7 68.54%,#81d9c2 100%)"></i>
<i style="height:3px;background:linear-gradient(90deg,#e0f8bf 0%,#ebf7bd 19.1%,#e9f7be 26.97%,#e2f8bf 30.34%,#b7f4c7 40.45%,#a8f1ca 46.07%,#a0f0cc 55.06%,#86dfc5 69.66%,#7dd4bf 100%)"></i>
<i style="height:3px;background:linear-gradient(90deg,#e0f8bf 0%,#e6f8be 24.72%,#dcf7c0 29.21%,#a8f1ca 41.57%,#9aecca 47.19%,#96e9c9 53.93%,#7fd8c1 69.66%,#79cfbc 100%)"></i>
<i style="height:3px;background:linear-gradient(90deg,#e0f8bf 0%,#dbf7c0 25.84%,#cef7c2 30.34%,#a2f0cc 40.45%,#8ee5c7 47.19%,#84dec4 59.55%,#78cebb 70.79%,#75cab9 100%)"></i>
<i style="height:3px;background:linear-gradient(90deg,#e0f8bf 0%,#d2f7c2 25.84%,#c0f5c5 31.46%,#9eefcb 39.33%,#85dfc4 47.19%,#82dbc3 53.93%,#72c5b7 70.79%,#71c5b7 100%)"></i>
<i style="height:3px;background:linear-gradient(90deg,#e0f8bf 0%,#c8f6c3 25.84%,#bcf5c6 30.34%,#a0f0cc 37.08%,#88e0c5 42.7%,#7dd4bf 47.19%,#6bbcb2 70.79%,#6ec0b4 100%)"></i>
<i style="height:3px;background:linear-gradient(90deg,#e0f8bf 0%,#ddf7c0 5.618%,#c5f6c4 17.98%,#bff5c5 25.84%,#a1f0cc 34.83%,#7fd7c0 42.7%,#74c8b8 47.19%,#67b6af 70.79%,#6abbb2 100%)"></i>
<i style="height:3px;background:linear-gradient(90deg,#e0f8bf 0%,#dcf7c0 5.618%,#bdf5c6 17.98%,#b3f3c8 26.97%,#a1f0cc 32.58%,#88e0c5 38.2%,#7ad0bd 41.57%,#6bbcb2 47.19%,#66b3ae 70.79%,#68b7af 100%)"></i>
<i style="height:3px;background:linear-gradient(90deg,#dcf7c0 0%,#d7f7c1 5.618%,#b4f3c8 17.98%,#abf2c9 25.84%,#a0f0cc 30.34%,#84dec4 37.08%,#68b6af 44.94%,#65b0ad 49.44%,#66b2ad 100%)"></i>
<i style="height:3px;background:linear-gradient(90deg,#d6f7c1 0%,#d2f7c2 5.618%,#a8f1ca 19.1%,#9eeecb 28.09%,#86dfc5 34.83%,#67b5af 43.82%,#64abab 48.31%,#65adab 100%)"></i>
<i style="height:3px;background:linear-gradient(90deg,#d1f7c2 0%,#ccf6c3 5.618%,#9ff0cc 19.1%,#91e6c8 29.21%,#83ddc3 33.71%,#67b3ae 42.7%,#63a7a9 48.31%,#63a8a9 100%)"></i>
<i style="height:3px;background:linear-gradient(90deg,#ccf6c3 0%,#c6f6c4 5.618%,#a1f0cc 15.73%,#93e7c8 20.22%,#85dfc4 30.34%,#69bab1 39.33%,#65adac 42.7%,#61a2a7 48.31%,#62a4a7 100%)"></i>
<i style="height:3px;background:linear-gradient(90deg,#c7f6c4 0%,#bef5c5 6.742%,#a3f0cb 13.48%,#8ae2c6 20.22%,#84ddc4 26.97%,#68b7b0 38.2%,#64abab 41.57%,#609ea5 48.31%,#60a0a6 100%)"></i>
<i style="height:3px;background:linear-gradient(90deg,#c2f6c5 0%,#bcf5c6 5.618%,#a1f0cc 12.36%,#81dac2 20.22%,#78cdbb 29.21%,#63a9aa 40.45%,#5e9aa3 48.31%,#609da5 100%)"></i>
<i style="height:3px;background:linear-gradient(90deg,#bdf5c6 0%,#b7f4c7 5.618%,#a0f0cc 11.24%,#79cfbc 20.22%,#70c2b5 29.21%,#63a9aa 38.2%,#5d95a1 48.31%,#5f9aa4 100%)"></i>
<i style="height:3px;background:linear-gradient(90deg,#b7f4c7 0%,#b4f3c8 4.494%,#9fefcc 10.11%,#87e0c5 14.61%,#77cdbb 17.98%,#6cbeb3 22.47%,#68b7b0 29.21%,#5f9aa3 41.57%,#5c92a0 47.19%,#5e98a2 100%)"></i>
<i style="height:3px;background:linear-gradient(90deg,#aff2c9 0%,#abf2c9 4.494%,#9bedcb 8.989%,#84dec4 13.48%,#73c7b8 16.85%,#67b4ae 21.35%,#65adab 29.21%,#5c90a0 47.19%,#5d95a1 100%)"></i>
<i style="height:3px;background:linear-gradient(90deg,#a7f1ca 0%,#a1f0cc 5.618%,#89e1c5 11.24%,#67b4ae 19.1%,#64acab 22.47%,#63a7a9 29.21%,#5c92a0 42.7%,#5c92a0 100%)"></i>
<i style="height:3px;background:linear-gradient(90deg,#9fefcc 0%,#9bedcb 4.494%,#87e0c5 10.11%,#66b3ae 17.98%,#63a7a9 21.35%,#5c91a0 41.57%,#5d8da0 49.44%,#5c90a0 100%)"></i>
<i style="height:3px;background:linear-gradient(90deg,#96e9c9 0%,#93e7c8 4.494%,#85dec4 8.989%,#68b7b0 15.73%,#63a8a9 19.1%,#60a0a6 22.47%,#5d8ca0 47.19%,#5c8ea0 100%)"></i>
<i style="height:3px;background:linear-gradient(90deg,#8de4c7 0%,#84dec4 6.742%,#67b6af 14.61%,#61a1a6 19.1%,#5f9aa3 22.47%,#5d8ba0 47.19%,#5d8ca0 100%)"></i>
<i style="height:3px;background:linear-gradient(90deg,#83ddc3 0%,#7ed6c0 5.618%,#68b9b0 12.36%,#609fa5 17.98%,#5d94a1 22.47%,#5d89a0 47.19%,#5d8aa0 100%)"></i>
<i style="height:3px;background:linear-gradient(90deg,#79d0bc 0%,#75cab9 5.618%,#69b9b1 10.11%,#5e98a2 17.98%,#5c8fa0 22.47%,#5d88a0 47.19%,#5d88a0 100%)"></i>
<i style="height:3px;background:linear-gradient(90deg,#70c3b6 0%,#6cbdb3 5.618%,#5c92a0 17.98%,#5d8ca0 22.47%,#5d86a0 47.19%,#5d86a0 100%)"></i>
<i style="height:3px;background:linear-gradient(90deg,#67b5af 0%,#66b1ad 5.618%,#5c91a0 16.85%,#5d8ba0 22.47%,#5e84a0 100%)"></i>
<i style="height:3px;background:linear-gradient(90deg,#64adab 0%,#63a9aa 5.618%,#5c91a0 15.73%,#5d8aa0 21.35%,#5e81a0 67.42%,#5e82a0 100%)"></i>
<i style="height:3px;background:linear-gradient(90deg,#63a7a9 0%,#62a4a8 5.618%,#5d88a0 21.35%,#5e7fa0 68.54%,#5e80a0 100%)"></i>
<i style="height:3px;background:linear-gradient(90deg,#61a1a6 0%,#609ea5 5.618%,#5d87a0 21.35%,#5e7ea0 68.54%,#5e7ea0 100%)"></i>
<i style="height:3px;background:linear-gradient(90deg,#5f9ba4 0%,#5d85a0 21.35%,#5f7ca0 69.66%,#5f7ca0 100%)"></i>
<i style="height:3px;background:linear-gradient(90deg,#5d96a2 0%,#5e84a0 21.35%,#5f7aa0 69.66%,#5f7aa0 100%)"></i>
<i style="height:3px;background:linear-gradient(90deg,#5c90a0 0%,#5e83a0 21.35%,#5f78a0 69.66%,#5f78a0 100%)"></i>
<i style="height:3px;background:linear-gradient(90deg,#5d8ca0 0%,#5e82a0 20.22%,#5f76a0 67.42%,#5f76a0 100%)"></i>
<i style="height:3px;background:linear-gradient(90deg,#5d8ca0 0%,#5e82a0 20.22%,#5f76a0 67.42%,#5f76a0 100%)"></i>
<i style="height:3px;background:linear-gradient(90deg,#5d8ca0 0%,#5e82a0 20.22%,#5f76a0 67.42%,#5f76a0 100%)"></i>
</div></div>
<svg width="1825" height="2303" viewBox="0 0 1825 2303">
<defs>
<linearGradient id="cbv" x1="0" y1="1" x2="0" y2="0"><stop offset="0" stop-color="#6b48b8"/><stop offset="0.05" stop-color="#6a54b5"/><stop offset="0.1" stop-color="#666ab0"/><stop offset="0.15" stop-color="#6083ab"/><stop offset="0.2" stop-color="#61a1ad"/><stop offset="0.25" stop-color="#73c7bc"/><stop offset="0.3" stop-color="#8fe7cb"/><stop offset="0.35" stop-color="#a9f6cd"/><stop offset="0.4" stop-color="#c0fac4"/><stop offset="0.45" stop-color="#defabc"/><stop offset="0.5" stop-color="#f0f7b9"/><stop offset="0.55" stop-color="#f6ecae"/><stop offset="0.6" stop-color="#f6d89b"/><stop offset="0.65" stop-color="#f5c086"/><stop offset="0.7" stop-color="#f29f6b"/><stop offset="0.75" stop-color="#ef8356"/><stop offset="0.8" stop-color="#ec6a46"/><stop offset="0.85" stop-color="#e15444"/><stop offset="0.9" stop-color="#d33d43"/><stop offset="0.95" stop-color="#c02946"/><stop offset="1" stop-color="#aa1c48"/></linearGradient>
<linearGradient id="cbh" x1="0" y1="0" x2="1" y2="0"><stop offset="0" stop-color="#6b48b8"/><stop offset="0.05" stop-color="#6a54b5"/><stop offset="0.1" stop-color="#666ab0"/><stop offset="0.15" stop-color="#6083ab"/><stop offset="0.2" stop-color="#61a1ad"/><stop offset="0.25" stop-color="#73c7bc"/><stop offset="0.3" stop-color="#8fe7cb"/><stop offset="0.35" stop-color="#a9f6cd"/><stop offset="0.4" stop-color="#c0fac4"/><stop offset="0.45" stop-color="#defabc"/><stop offset="0.5" stop-color="#f0f7b9"/><stop offset="0.55" stop-color="#f6ecae"/><stop offset="0.6" stop-color="#f6d89b"/><stop offset="0.65" stop-color="#f5c086"/><stop offset="0.7" stop-color="#f29f6b"/><stop offset="0.75" stop-color="#ef8356"/><stop offset="0.8" stop-color="#ec6a46"/><stop offset="0.85" stop-color="#e15444"/><stop offset="0.9" stop-color="#d33d43"/><stop offset="0.95" stop-color="#c02946"/><stop offset="1" stop-color="#aa1c48"/></linearGradient>
<linearGradient id="gsph" x1="0" y1="0" x2="1" y2="0"><stop offset="0" stop-color="#f0f294"/><stop offset="0.55" stop-color="#d8dc48"/><stop offset="1" stop-color="#c8cc2c"/></linearGradient>
<linearGradient id="gdisk" x1="0" y1="0" x2="1" y2="0"><stop offset="0" stop-color="#f2f4a0"/><stop offset="0.5" stop-color="#e6ea70"/><stop offset="0.85" stop-color="#c4c824"/><stop offset="1" stop-color="#dce060"/></linearGradient>
<linearGradient id="gwhite" x1="0" y1="0" x2="1" y2="0"><stop offset="0" stop-color="#f4f4f4"/><stop offset="0.25" stop-color="#efefef"/><stop offset="0.55" stop-color="#e2e3e3"/><stop offset="0.74" stop-color="#d3d5d5"/><stop offset="0.86" stop-color="#f0f0f0"/><stop offset="1" stop-color="#e2e2e2"/></linearGradient>
<linearGradient id="gyel" x1="0" y1="0" x2="1" y2="0"><stop offset="0" stop-color="#f2f4a4"/><stop offset="0.12" stop-color="#f5f7c0"/><stop offset="0.45" stop-color="#eef084"/><stop offset="0.75" stop-color="#dbdc38"/><stop offset="0.9" stop-color="#f2f4a4"/><stop offset="1" stop-color="#e6e85c"/></linearGradient>
<linearGradient id="gtop" x1="0" y1="0" x2="1" y2="1"><stop offset="0" stop-color="#ffffff"/><stop offset="1" stop-color="#ececec"/></linearGradient>
<linearGradient id="gyel2" x1="0" y1="0" x2="1" y2="0"><stop offset="0" stop-color="#f4f6b0"/><stop offset="0.45" stop-color="#eef084"/><stop offset="0.75" stop-color="#d6da3c"/><stop offset="0.9" stop-color="#e4e660"/><stop offset="1" stop-color="#eef090"/></linearGradient>
<linearGradient id="gyelE" x1="0" y1="0" x2="1" y2="0"><stop offset="0" stop-color="#fbfbe0"/><stop offset="0.3" stop-color="#f2f3a4"/><stop offset="0.6" stop-color="#e4e560"/><stop offset="0.72" stop-color="#d8da34"/><stop offset="0.85" stop-color="#e8ea80"/><stop offset="1" stop-color="#fafad8"/></linearGradient>
<linearGradient id="gwhite2" x1="0" y1="0" x2="1" y2="0"><stop offset="0" stop-color="#eeeeee"/><stop offset="0.3" stop-color="#fafafa"/><stop offset="0.75" stop-color="#e4e5e6"/><stop offset="1" stop-color="#cfd0d2"/></linearGradient>
<linearGradient id="gcubeL" x1="0" y1="0" x2="1" y2="0"><stop offset="0" stop-color="#d9dadb"/><stop offset="1" stop-color="#f2f2f2"/></linearGradient>
<linearGradient id="gcubeR" x1="0" y1="0" x2="1" y2="0"><stop offset="0" stop-color="#eeeeee"/><stop offset="1" stop-color="#c6c7c9"/></linearGradient>
<linearGradient id="gcubeT" x1="0" y1="0" x2="1" y2="1"><stop offset="0" stop-color="#d4d5d6"/><stop offset="1" stop-color="#e8e8e8"/></linearGradient>
<linearGradient id="ggoldL" x1="0" y1="0" x2="1" y2="0"><stop offset="0" stop-color="#e4e668"/><stop offset="1" stop-color="#d0d430"/></linearGradient>
<linearGradient id="ggoldR" x1="0" y1="0" x2="1" y2="0"><stop offset="0" stop-color="#e6e870"/><stop offset="0.6" stop-color="#c8cc24"/><stop offset="1" stop-color="#c0c420"/></linearGradient>
<linearGradient id="ggoldT" x1="0" y1="0" x2="1" y2="1"><stop offset="0" stop-color="#cdd02c"/><stop offset="1" stop-color="#dde050"/></linearGradient>
<radialGradient id="gsemi" cx="0.5" cy="0.5" r="0.5"><stop offset="0" stop-color="#aeae18"/><stop offset="0.25" stop-color="#c4c534"/><stop offset="0.55" stop-color="#e2e370"/><stop offset="0.8" stop-color="#f1f29c"/><stop offset="1" stop-color="#f6f7b4"/></radialGradient>
<filter id="bl1" x="-50%" y="-50%" width="200%" height="200%"><feGaussianBlur stdDeviation="1"/></filter>
<filter id="bl1_5" x="-50%" y="-50%" width="200%" height="200%"><feGaussianBlur stdDeviation="1.5"/></filter>
<filter id="bl2" x="-50%" y="-50%" width="200%" height="200%"><feGaussianBlur stdDeviation="2"/></filter>
<filter id="bl3" x="-50%" y="-50%" width="200%" height="200%"><feGaussianBlur stdDeviation="3"/></filter>
<filter id="bl4" x="-50%" y="-50%" width="200%" height="200%"><feGaussianBlur stdDeviation="4"/></filter>
<filter id="bl6" x="-50%" y="-50%" width="200%" height="200%"><feGaussianBlur stdDeviation="6"/></filter>
<filter id="bl8" x="-50%" y="-50%" width="200%" height="200%"><feGaussianBlur stdDeviation="8"/></filter>
<filter id="bl12" x="-50%" y="-50%" width="200%" height="200%"><feGaussianBlur stdDeviation="12"/></filter>
<linearGradient id="fbg" x1="0" y1="0" x2="0" y2="1"><stop offset="0" stop-color="#5d80c6"/><stop offset="0.5" stop-color="#5a78bc"/><stop offset="1" stop-color="#566cb0"/></linearGradient>
<linearGradient id="fbg2" x1="0" y1="0" x2="0" y2="1"><stop offset="0" stop-color="#5c7cc4"/><stop offset="1" stop-color="#566eb4"/></linearGradient>
<clipPath id="cf1"><rect x="383.2" y="1902.2" width="166.4" height="132.8"/></clipPath>
<clipPath id="cf2"><rect x="383.2" y="2083.2" width="166" height="86"/></clipPath>
<clipPath id="ch1"><rect x="979.6" y="1902.5" width="166.2" height="132.5"/></clipPath>
<clipPath id="ch2"><rect x="979.6" y="2087" width="166.2" height="89.5"/></clipPath>
<clipPath id="crh"><polygon points="1018.5,1967.8 1060.1,1943.5 1105.5,1969.2 1064.8,1995.4"/></clipPath>
<linearGradient id="hside" x1="0" y1="0" x2="0" y2="1"><stop offset="0" stop-color="#8fe2d0"/><stop offset="0.35" stop-color="#8ee0ce"/><stop offset="1" stop-color="#6cb8bc"/></linearGradient>
<linearGradient id="cbi" x1="0" y1="1" x2="0" y2="0"><stop offset="0" stop-color="#6450a0"/><stop offset="0.05" stop-color="#625aa0"/><stop offset="0.1" stop-color="#6169a0"/><stop offset="0.15" stop-color="#5e81a0"/><stop offset="0.2" stop-color="#61a1a6"/><stop offset="0.25" stop-color="#73c7b8"/><stop offset="0.3" stop-color="#8fe5c7"/><stop offset="0.35" stop-color="#aaf2ca"/><stop offset="0.4" stop-color="#c4f6c4"/><stop offset="0.45" stop-color="#e0f8bf"/><stop offset="0.5" stop-color="#f1f5bd"/><stop offset="0.55" stop-color="#f6eab0"/><stop offset="0.6" stop-color="#f5d69b"/><stop offset="0.65" stop-color="#f4bc86"/><stop offset="0.7" stop-color="#f09b6e"/><stop offset="0.75" stop-color="#ea805c"/><stop offset="0.8" stop-color="#e46850"/><stop offset="0.85" stop-color="#d6554c"/><stop offset="0.9" stop-color="#c54249"/><stop offset="0.95" stop-color="#af2f48"/><stop offset="1" stop-color="#962246"/></linearGradient>
</defs>
<text x="4" y="30" font-size="37" fill="#111" font-weight="bold">a</text>
<line x1="58" y1="21" x2="114" y2="21" stroke="#e0311f" stroke-width="2.4"/>
<path d="M48 21 L65.5 12.2 L60.5 21 L65.5 29.8 Z" fill="#e0311f"/>
<path d="M124 21 L106.5 12.2 L111.5 21 L106.5 29.8 Z" fill="#e0311f"/>
<line x1="86" y1="21" x2="86" y2="50.5" stroke="#111" stroke-width="2.4"/>
<path d="M86 60.5 L76.5 42.5 L86 47.5 L95.5 42.5 Z" fill="#111"/>
<text x="132" y="30.5" font-size="28.5" fill="#111">E</text>
<text x="102" y="64" font-size="28.5" fill="#808080">k</text>
<circle cx="86" cy="94" r="26.3" fill="url(#gsph)" stroke="#222" stroke-width="1.6"/>
<path d="M91 112 Q104 108 106.5 96" stroke="#fff" stroke-width="3" fill="none" stroke-linecap="round"/>
<circle cx="107" cy="91.5" r="2" fill="#fff"/>
<path d="M58.5 134.8 L114.5 134.8 M65.5 130.8 L58.5 134.8 L65.5 138.8 M107.5 130.8 L114.5 134.8 L107.5 138.8" stroke="#444" stroke-width="1.8" fill="none" stroke-linejoin="round" stroke-linecap="round"/>
<text x="87.5" y="161.5" font-size="28.5" fill="#111" text-anchor="middle">D</text>
<text x="58.5" y="217.5" font-size="28.5" fill="#111">In air</text>
<line x1="272.6" y1="209.72" x2="453.334" y2="209.72" stroke="#999" stroke-width="1.5" stroke-dasharray="5 4"/>
<line x1="453.334" y1="209.72" x2="453.334" y2="500.6" stroke="#999" stroke-width="1.5" stroke-dasharray="5 4"/>
<line x1="272.6" y1="500.6" x2="570.811" y2="20.648" stroke="#111" stroke-width="2.2" stroke-dasharray="11 7"/>
<line x1="272.6" y1="14.8" x2="272.6" y2="501.6" stroke="#333" stroke-width="2"/>
<line x1="267.6" y1="500.6" x2="697" y2="500.6" stroke="#333" stroke-width="2"/>
<line x1="264.1" y1="500.6" x2="272.6" y2="500.6" stroke="#333" stroke-width="1.8"/>
<text x="255.5" y="508.6" font-size="28.5" fill="#111" text-anchor="end">0</text>
<line x1="267.1" y1="452.12" x2="272.6" y2="452.12" stroke="#333" stroke-width="1.5"/>
<line x1="264.1" y1="403.64" x2="272.6" y2="403.64" stroke="#333" stroke-width="1.8"/>
<text x="255.5" y="411.64" font-size="28.5" fill="#111" text-anchor="end">0.4</text>
<line x1="267.1" y1="355.16" x2="272.6" y2="355.16" stroke="#333" stroke-width="1.5"/>
<line x1="264.1" y1="306.68" x2="272.6" y2="306.68" stroke="#333" stroke-width="1.8"/>
<text x="255.5" y="314.68" font-size="28.5" fill="#111" text-anchor="end">0.8</text>
<line x1="267.1" y1="258.2" x2="272.6" y2="258.2" stroke="#333" stroke-width="1.5"/>
<line x1="264.1" y1="209.72" x2="272.6" y2="209.72" stroke="#333" stroke-width="1.8"/>
<text x="255.5" y="217.72" font-size="28.5" fill="#111" text-anchor="end">1.2</text>
<line x1="267.1" y1="161.24" x2="272.6" y2="161.24" stroke="#333" stroke-width="1.5"/>
<line x1="264.1" y1="112.76" x2="272.6" y2="112.76" stroke="#333" stroke-width="1.8"/>
<text x="255.5" y="120.76" font-size="28.5" fill="#111" text-anchor="end">1.6</text>
<line x1="267.1" y1="64.28" x2="272.6" y2="64.28" stroke="#333" stroke-width="1.5"/>
<line x1="264.1" y1="15.8" x2="272.6" y2="15.8" stroke="#333" stroke-width="1.8"/>
<text x="255.5" y="23.8" font-size="28.5" fill="#111" text-anchor="end">2.0</text>
<line x1="272.6" y1="500.6" x2="272.6" y2="509.1" stroke="#333" stroke-width="1.8"/>
<text x="272.6" y="540.1" font-size="28.5" fill="#111" text-anchor="middle">0</text>
<line x1="314.34" y1="500.6" x2="314.34" y2="506.1" stroke="#333" stroke-width="1.5"/>
<line x1="356.08" y1="500.6" x2="356.08" y2="509.1" stroke="#333" stroke-width="1.8"/>
<text x="356.08" y="540.1" font-size="28.5" fill="#111" text-anchor="middle">0.2</text>
<line x1="397.82" y1="500.6" x2="397.82" y2="506.1" stroke="#333" stroke-width="1.5"/>
<line x1="439.56" y1="500.6" x2="439.56" y2="509.1" stroke="#333" stroke-width="1.8"/>
<text x="439.56" y="540.1" font-size="28.5" fill="#111" text-anchor="middle">0.4</text>
<line x1="481.3" y1="500.6" x2="481.3" y2="506.1" stroke="#333" stroke-width="1.5"/>
<line x1="523.04" y1="500.6" x2="523.04" y2="509.1" stroke="#333" stroke-width="1.8"/>
<text x="523.04" y="540.1" font-size="28.5" fill="#111" text-anchor="middle">0.6</text>
<line x1="564.78" y1="500.6" x2="564.78" y2="506.1" stroke="#333" stroke-width="1.5"/>
<line x1="606.52" y1="500.6" x2="606.52" y2="509.1" stroke="#333" stroke-width="1.8"/>
<text x="606.52" y="540.1" font-size="28.5" fill="#111" text-anchor="middle">0.8</text>
<line x1="648.26" y1="500.6" x2="648.26" y2="506.1" stroke="#333" stroke-width="1.5"/>
<line x1="690" y1="500.6" x2="690" y2="509.1" stroke="#333" stroke-width="1.8"/>
<text x="690" y="540.1" font-size="28.5" fill="#111" text-anchor="middle">1</text>
<text x="198" y="263.2" font-size="28.5" fill="#111" text-anchor="middle" transform="rotate(-90 198 263.2)">Wavelength (µm)</text>
<text x="470" y="573.6" font-size="28.5" fill="#111" text-anchor="middle">Diameter D (µm)</text>
<text x="721.5" y="330.7" font-size="28.5" fill="#111">Q</text>
<text x="743" y="341" font-size="17" fill="#111">scat</text>
<rect x="730.5" y="370.5" width="10.3" height="67.2" fill="url(#cbv)"/>
<text x="749" y="379.5" font-size="28.5" fill="#111">4.8</text>
<text x="749" y="449.3" font-size="28.5" fill="#111">0</text>
<text x="810.5" y="29.3" font-size="37" fill="#111" font-weight="bold">b</text>
<line x1="863.5" y1="21" x2="918" y2="21" stroke="#e0311f" stroke-width="2.4"/>
<path d="M853.5 21 L871 12.2 L866 21 L871 29.8 Z" fill="#e0311f"/>
<path d="M928 21 L910.5 12.2 L915.5 21 L910.5 29.8 Z" fill="#e0311f"/>
<line x1="891.8" y1="21" x2="891.8" y2="50.5" stroke="#111" stroke-width="2.4"/>
<path d="M891.8 60.5 L882.3 42.5 L891.8 47.5 L901.3 42.5 Z" fill="#111"/>
<text x="936" y="30.5" font-size="28.5" fill="#111">E</text>
<text x="905.5" y="64" font-size="28.5" fill="#808080">k</text>
<path d="M861.6 93.3 L861.6 113.9 A29.7 6.3 0 0 0 921 113.9 L921 93.3 Z" fill="url(#gdisk)" stroke="#222" stroke-width="1.4"/>
<ellipse cx="891.3" cy="93.3" rx="29.7" ry="6.3" fill="#eef08e" stroke="#222" stroke-width="1.4"/>
<path d="M931.6 90.5 L931.6 120.5 M927.6 97.5 L931.6 90.5 L935.6 97.5 M927.6 113.5 L931.6 120.5 L935.6 113.5" stroke="#444" stroke-width="1.8" fill="none" stroke-linejoin="round" stroke-linecap="round"/>
<text x="941.5" y="115.5" font-size="28.5" fill="#111">100 nm</text>
<path d="M863 134.4 L919.5 134.4 M870 130.4 L863 134.4 L870 138.4 M912.5 130.4 L919.5 134.4 L912.5 138.4" stroke="#444" stroke-width="1.8" fill="none" stroke-linejoin="round" stroke-linecap="round"/>
<text x="895" y="162" font-size="28.5" fill="#111" text-anchor="middle">D</text>
<line x1="1128" y1="210.98" x2="1333.66" y2="210.98" stroke="#999" stroke-width="1.5" stroke-dasharray="5 4"/>
<line x1="1333.66" y1="210.98" x2="1333.66" y2="501.2" stroke="#999" stroke-width="1.5" stroke-dasharray="5 4"/>
<line x1="1128" y1="501.2" x2="1467.33" y2="22.337" stroke="#111" stroke-width="2.2" stroke-dasharray="11 7"/>
<line x1="1128" y1="16.5" x2="1128" y2="502.2" stroke="#333" stroke-width="2"/>
<line x1="1123" y1="501.2" x2="1553" y2="501.2" stroke="#333" stroke-width="2"/>
<line x1="1119.5" y1="501.2" x2="1128" y2="501.2" stroke="#333" stroke-width="1.8"/>
<text x="1111" y="509.2" font-size="28.5" fill="#111" text-anchor="end">0</text>
<line x1="1122.5" y1="452.83" x2="1128" y2="452.83" stroke="#333" stroke-width="1.5"/>
<line x1="1119.5" y1="404.46" x2="1128" y2="404.46" stroke="#333" stroke-width="1.8"/>
<text x="1111" y="412.46" font-size="28.5" fill="#111" text-anchor="end">0.4</text>
<line x1="1122.5" y1="356.09" x2="1128" y2="356.09" stroke="#333" stroke-width="1.5"/>
<line x1="1119.5" y1="307.72" x2="1128" y2="307.72" stroke="#333" stroke-width="1.8"/>
<text x="1111" y="315.72" font-size="28.5" fill="#111" text-anchor="end">0.8</text>
<line x1="1122.5" y1="259.35" x2="1128" y2="259.35" stroke="#333" stroke-width="1.5"/>
<line x1="1119.5" y1="210.98" x2="1128" y2="210.98" stroke="#333" stroke-width="1.8"/>
<text x="1111" y="218.98" font-size="28.5" fill="#111" text-anchor="end">1.2</text>
<line x1="1122.5" y1="162.61" x2="1128" y2="162.61" stroke="#333" stroke-width="1.5"/>
<line x1="1119.5" y1="114.24" x2="1128" y2="114.24" stroke="#333" stroke-width="1.8"/>
<text x="1111" y="122.24" font-size="28.5" fill="#111" text-anchor="end">1.6</text>
<line x1="1122.5" y1="65.87" x2="1128" y2="65.87" stroke="#333" stroke-width="1.5"/>
<line x1="1119.5" y1="17.5" x2="1128" y2="17.5" stroke="#333" stroke-width="1.8"/>
<text x="1111" y="25.5" font-size="28.5" fill="#111" text-anchor="end">2.0</text>
<line x1="1128" y1="501.2" x2="1128" y2="509.7" stroke="#333" stroke-width="1.8"/>
<text x="1128" y="540.7" font-size="28.5" fill="#111" text-anchor="middle">0</text>
<line x1="1169.8" y1="501.2" x2="1169.8" y2="506.7" stroke="#333" stroke-width="1.5"/>
<line x1="1211.6" y1="501.2" x2="1211.6" y2="509.7" stroke="#333" stroke-width="1.8"/>
<text x="1211.6" y="540.7" font-size="28.5" fill="#111" text-anchor="middle">0.2</text>
<line x1="1253.4" y1="501.2" x2="1253.4" y2="506.7" stroke="#333" stroke-width="1.5"/>
<line x1="1295.2" y1="501.2" x2="1295.2" y2="509.7" stroke="#333" stroke-width="1.8"/>
<text x="1295.2" y="540.7" font-size="28.5" fill="#111" text-anchor="middle">0.4</text>
<line x1="1337" y1="501.2" x2="1337" y2="506.7" stroke="#333" stroke-width="1.5"/>
<line x1="1378.8" y1="501.2" x2="1378.8" y2="509.7" stroke="#333" stroke-width="1.8"/>
<text x="1378.8" y="540.7" font-size="28.5" fill="#111" text-anchor="middle">0.6</text>
<line x1="1420.6" y1="501.2" x2="1420.6" y2="506.7" stroke="#333" stroke-width="1.5"/>
<line x1="1462.4" y1="501.2" x2="1462.4" y2="509.7" stroke="#333" stroke-width="1.8"/>
<text x="1462.4" y="540.7" font-size="28.5" fill="#111" text-anchor="middle">0.8</text>
<line x1="1504.2" y1="501.2" x2="1504.2" y2="506.7" stroke="#333" stroke-width="1.5"/>
<line x1="1546" y1="501.2" x2="1546" y2="509.7" stroke="#333" stroke-width="1.8"/>
<text x="1546" y="540.7" font-size="28.5" fill="#111" text-anchor="middle">1</text>
<text x="1053.5" y="264.35" font-size="28.5" fill="#111" text-anchor="middle" transform="rotate(-90 1053.5 264.35)">Wavelength (µm)</text>
<text x="1340" y="574.2" font-size="28.5" fill="#111" text-anchor="middle">Diameter D (µm)</text>
<text x="1571.5" y="330.7" font-size="28.5" fill="#111">Q</text>
<text x="1593" y="341" font-size="17" fill="#111">scat</text>
<rect x="1580.5" y="370.5" width="10.3" height="67.2" fill="url(#cbv)"/>
<text x="1599" y="379.5" font-size="28.5" fill="#111">6.6</text>
<text x="1599" y="450" font-size="28.5" fill="#111">0</text>
<text x="1" y="613.5" font-size="37" fill="#111" font-weight="bold">c</text>
<text x="303" y="643" font-size="28.5" fill="#333">Plasmonic</text>
<text x="303" y="676.5" font-size="28.5" fill="#333">modes</text>
<text x="451.5" y="643" font-size="28.5" fill="#3b88bb">Coupled</text>
<text x="466.5" y="676.5" font-size="28.5" fill="#3b88bb">modes</text>
<text x="581.5" y="643" font-size="28.5" fill="#333">Dielectric</text>
<text x="581.5" y="676.5" font-size="28.5" fill="#333">modes</text>
<text x="28.5" y="712.5" font-size="28.5" fill="#111">(i) Non-lasing</text>
<text x="60.5" y="746" font-size="28.5" fill="#111">metallic particle</text>
<text x="67" y="807.5" font-size="28.5" fill="#444">Semiconductor</text>
<text x="84.5" y="920.5" font-size="28.5" fill="#444">Metal</text>
<path d="M106.4 850.7 L106.4 873.2 A58.7 18.3 0 0 0 223.8 873.2 L223.8 850.7 A58.7 18.3 0 0 1 106.4 850.7 Z" fill="url(#gyel)" stroke="#cfd22e" stroke-width="2.2" stroke-linejoin="round"/>
<path d="M106.4 840.4 L106.4 850.7 A58.7 18.3 0 0 0 223.8 850.7 L223.8 840.4 A58.7 18.3 0 0 1 106.4 840.4 Z" fill="url(#gwhite)" stroke="#4c4c4c" stroke-width="2.1" stroke-linejoin="round"/>
<ellipse cx="165.1" cy="840.4" rx="58.7" ry="18.3" fill="url(#gtop)" stroke="#4c4c4c" stroke-width="2.1"/>
<rect x="341.5" y="764" width="345" height="58" fill="#e6e6e6"/>
<text x="356" y="801.5" font-size="28.5" fill="#111">Gain</text>
<text x="423" y="734" font-size="28.5" fill="#111">λ</text>
<line x1="455" y1="852" x2="492.5" y2="851" stroke="#8e8e8e" stroke-width="1.5" stroke-dasharray="4.5 3"/>
<line x1="455" y1="862.4" x2="492.5" y2="862" stroke="#8e8e8e" stroke-width="1.5" stroke-dasharray="4.5 3"/>
<line x1="455" y1="852" x2="492.5" y2="901.7" stroke="#8e8e8e" stroke-width="1.5" stroke-dasharray="4.5 3"/>
<line x1="455" y1="862.4" x2="492.5" y2="919.6" stroke="#8e8e8e" stroke-width="1.5" stroke-dasharray="4.5 3"/>
<line x1="527.8" y1="851" x2="564.5" y2="899" stroke="#8e8e8e" stroke-width="1.5" stroke-dasharray="4.5 3"/>
<line x1="527.8" y1="862" x2="564.5" y2="917.5" stroke="#8e8e8e" stroke-width="1.5" stroke-dasharray="4.5 3"/>
<line x1="527.8" y1="901.7" x2="564.5" y2="899" stroke="#8e8e8e" stroke-width="1.5" stroke-dasharray="4.5 3"/>
<line x1="527.8" y1="919.6" x2="564.5" y2="917.5" stroke="#8e8e8e" stroke-width="1.5" stroke-dasharray="4.5 3"/>
<line x1="455" y1="726.5" x2="455" y2="922.5" stroke="#808080" stroke-width="2.2"/>
<path d="M455 716.5 L449.7 734.5 L455 731.5 L460.3 734.5 Z" fill="#808080"/>
<line x1="564.8" y1="726.5" x2="564.8" y2="922.5" stroke="#808080" stroke-width="2.2"/>
<path d="M564.8 716.5 L559.5 734.5 L564.8 731.5 L570.1 734.5 Z" fill="#808080"/>
<text x="373" y="860" font-size="28.5" fill="#555">ED</text>
<text x="373" y="885" font-size="28.5" fill="#555">EQ</text>
<line x1="420.8" y1="852" x2="455" y2="852" stroke="#6b6526" stroke-width="4"/>
<line x1="420.8" y1="862.4" x2="455" y2="862.4" stroke="#6b6526" stroke-width="4"/>
<line x1="420.8" y1="870.5" x2="455" y2="870.5" stroke="#6b6526" stroke-width="4"/>
<line x1="420.8" y1="877.8" x2="455" y2="877.8" stroke="#6b6526" stroke-width="4"/>
<line x1="492.5" y1="850.8" x2="527.8" y2="850.8" stroke="#4b9cd3" stroke-width="4"/>
<line x1="492.5" y1="862" x2="527.8" y2="862" stroke="#4b9cd3" stroke-width="4"/>
<line x1="492.5" y1="901.7" x2="527.8" y2="901.7" stroke="#4b9cd3" stroke-width="4" stroke-dasharray="8.5 5"/>
<line x1="492.5" y1="919.6" x2="527.8" y2="919.6" stroke="#4b9cd3" stroke-width="4" stroke-dasharray="8.5 5"/>
<line x1="564.5" y1="899" x2="598" y2="899" stroke="#6a6a6a" stroke-width="4"/>
<line x1="564.5" y1="917.5" x2="598" y2="917.5" stroke="#6a6a6a" stroke-width="4"/>
<text x="608" y="904.5" font-size="28.5" fill="#555">MD</text>
<text x="608" y="931" font-size="28.5" fill="#555">ED</text>
<text x="28.5" y="994" font-size="28.5" fill="#111">(ii) Higher-order</text>
<text x="68.5" y="1028" font-size="28.5" fill="#111">hybrid laser</text>
<path d="M105.7 1140 L105.7 1161.6 A59.4 15 0 0 0 224.5 1161.6 L224.5 1140 A59.4 15 0 0 1 105.7 1140 Z" fill="url(#gyel)" stroke="#cfd22e" stroke-width="2.2" stroke-linejoin="round"/>
<path d="M89 1095.5 L89 1135 A75.8 23.3 0 0 0 240.6 1135 L240.6 1095.5 A75.8 23.3 0 0 1 89 1095.5 Z" fill="url(#gwhite)" stroke="#4c4c4c" stroke-width="2.1" stroke-linejoin="round"/>
<ellipse cx="164.8" cy="1095.5" rx="75.8" ry="23.3" fill="url(#gtop)" stroke="#4c4c4c" stroke-width="2.1"/>
<rect x="337.5" y="1042.5" width="344" height="58" fill="#e6e6e6"/>
<text x="352.5" y="1079.5" font-size="28.5" fill="#111">Gain</text>
<text x="423" y="1010.5" font-size="28.5" fill="#111">λ</text>
<line x1="455" y1="1140" x2="492.5" y2="1019.2" stroke="#8e8e8e" stroke-width="1.5" stroke-dasharray="4.5 3"/>
<line x1="455" y1="1140" x2="492.5" y2="1048.2" stroke="#8e8e8e" stroke-width="1.5" stroke-dasharray="4.5 3"/>
<line x1="455" y1="1140" x2="492.5" y2="1077" stroke="#8e8e8e" stroke-width="1.5" stroke-dasharray="4.5 3"/>
<line x1="455" y1="1140" x2="492.5" y2="1110.2" stroke="#8e8e8e" stroke-width="1.5" stroke-dasharray="4.5 3"/>
<line x1="455" y1="1133" x2="492.5" y2="1136.7" stroke="#8e8e8e" stroke-width="1.5" stroke-dasharray="4.5 3"/>
<line x1="455" y1="1140" x2="492.5" y2="1148.6" stroke="#8e8e8e" stroke-width="1.5" stroke-dasharray="4.5 3"/>
<line x1="527.8" y1="1019.2" x2="564.5" y2="1023.5" stroke="#8e8e8e" stroke-width="1.5" stroke-dasharray="4.5 3"/>
<line x1="527.8" y1="1019.2" x2="564.5" y2="1044.8" stroke="#8e8e8e" stroke-width="1.5" stroke-dasharray="4.5 3"/>
<line x1="527.8" y1="1019.2" x2="564.5" y2="1078" stroke="#8e8e8e" stroke-width="1.5" stroke-dasharray="4.5 3"/>
<line x1="527.8" y1="1048.2" x2="564.5" y2="1023.5" stroke="#8e8e8e" stroke-width="1.5" stroke-dasharray="4.5 3"/>
<line x1="527.8" y1="1048.2" x2="564.5" y2="1044.8" stroke="#8e8e8e" stroke-width="1.5" stroke-dasharray="4.5 3"/>
<line x1="527.8" y1="1048.2" x2="564.5" y2="1078" stroke="#8e8e8e" stroke-width="1.5" stroke-dasharray="4.5 3"/>
<line x1="527.8" y1="1048.2" x2="564.5" y2="1117.4" stroke="#8e8e8e" stroke-width="1.5" stroke-dasharray="4.5 3"/>
<line x1="527.8" y1="1077" x2="564.5" y2="1023.5" stroke="#8e8e8e" stroke-width="1.5" stroke-dasharray="4.5 3"/>
<line x1="527.8" y1="1077" x2="564.5" y2="1044.8" stroke="#8e8e8e" stroke-width="1.5" stroke-dasharray="4.5 3"/>
<line x1="527.8" y1="1077" x2="564.5" y2="1078" stroke="#8e8e8e" stroke-width="1.5" stroke-dasharray="4.5 3"/>
<line x1="527.8" y1="1077" x2="564.5" y2="1117.4" stroke="#8e8e8e" stroke-width="1.5" stroke-dasharray="4.5 3"/>
<line x1="527.8" y1="1110.2" x2="564.5" y2="1044.8" stroke="#8e8e8e" stroke-width="1.5" stroke-dasharray="4.5 3"/>
<line x1="527.8" y1="1110.2" x2="564.5" y2="1078" stroke="#8e8e8e" stroke-width="1.5" stroke-dasharray="4.5 3"/>
<line x1="527.8" y1="1110.2" x2="564.5" y2="1117.4" stroke="#8e8e8e" stroke-width="1.5" stroke-dasharray="4.5 3"/>
<line x1="527.8" y1="1136.7" x2="564.5" y2="1044.8" stroke="#8e8e8e" stroke-width="1.5" stroke-dasharray="4.5 3"/>
<line x1="527.8" y1="1148.6" x2="564.5" y2="1078" stroke="#8e8e8e" stroke-width="1.5" stroke-dasharray="4.5 3"/>
<line x1="455" y1="1004" x2="455" y2="1201" stroke="#808080" stroke-width="2.2"/>
<path d="M455 994 L449.7 1012 L455 1009 L460.3 1012 Z" fill="#808080"/>
<line x1="564.8" y1="1004" x2="564.8" y2="1201" stroke="#808080" stroke-width="2.2"/>
<path d="M564.8 994 L559.5 1012 L564.8 1009 L570.1 1012 Z" fill="#808080"/>
<text x="373" y="1136.5" font-size="28.5" fill="#555">ED</text>
<text x="373" y="1162.5" font-size="28.5" fill="#555">EQ</text>
<line x1="420.8" y1="1131.5" x2="455" y2="1131.5" stroke="#6b6526" stroke-width="4"/>
<line x1="420.8" y1="1142.7" x2="455" y2="1142.7" stroke="#6b6526" stroke-width="4"/>
<line x1="420.8" y1="1149.2" x2="455" y2="1149.2" stroke="#6b6526" stroke-width="4"/>
<line x1="420.8" y1="1156" x2="455" y2="1156" stroke="#6b6526" stroke-width="4"/>
<line x1="492.5" y1="1019.2" x2="527.8" y2="1019.2" stroke="#4b9cd3" stroke-width="4"/>
<line x1="492.5" y1="1048.2" x2="527.8" y2="1048.2" stroke="#4b9cd3" stroke-width="4"/>
<line x1="492.5" y1="1077" x2="527.8" y2="1077" stroke="#4b9cd3" stroke-width="4"/>
<line x1="492.5" y1="1110.2" x2="527.8" y2="1110.2" stroke="#4b9cd3" stroke-width="4"/>
<line x1="492.5" y1="1136.7" x2="527.8" y2="1136.7" stroke="#4b9cd3" stroke-width="4" stroke-dasharray="8.5 5"/>
<line x1="492.5" y1="1148.6" x2="527.8" y2="1148.6" stroke="#4b9cd3" stroke-width="4" stroke-dasharray="8.5 5"/>
<line x1="492.5" y1="1158.5" x2="527.8" y2="1158.5" stroke="#4b9cd3" stroke-width="4" stroke-dasharray="8.5 5"/>
<line x1="564.5" y1="1023.5" x2="598" y2="1023.5" stroke="#6a6a6a" stroke-width="4"/>
<line x1="564.5" y1="1044.8" x2="598" y2="1044.8" stroke="#6a6a6a" stroke-width="4"/>
<line x1="564.5" y1="1078" x2="598" y2="1078" stroke="#6a6a6a" stroke-width="4"/>
<line x1="564.5" y1="1117.4" x2="598" y2="1117.4" stroke="#6a6a6a" stroke-width="4"/>
<line x1="564.5" y1="1136.2" x2="598" y2="1136.2" stroke="#6a6a6a" stroke-width="4"/>
<line x1="564.5" y1="1151.6" x2="598" y2="1151.6" stroke="#6a6a6a" stroke-width="4"/>
<line x1="564.5" y1="1165.7" x2="598" y2="1165.7" stroke="#6a6a6a" stroke-width="4"/>
<line x1="564.5" y1="1176.4" x2="598" y2="1176.4" stroke="#6a6a6a" stroke-width="4"/>
<line x1="564.5" y1="1184.5" x2="598" y2="1184.5" stroke="#6a6a6a" stroke-width="4"/>
<line x1="564.5" y1="1192.6" x2="598" y2="1192.6" stroke="#6a6a6a" stroke-width="4"/>
<text x="608" y="1028" font-size="28.5" fill="#555">MD</text>
<text x="608" y="1057" font-size="28.5" fill="#555">ED</text>
<text x="608" y="1086" font-size="28.5" fill="#555">MQ</text>
<text x="608" y="1125" font-size="28.5" fill="#555">EQ</text>
<text x="28.5" y="1265" font-size="28.5" fill="#111">(iii) Lowest-order</text>
<text x="68.5" y="1298.5" font-size="28.5" fill="#111">dipole laser/spaser</text>
<text x="68.5" y="1333" font-size="28.5" fill="#111">(this work)</text>
<path d="M106.4 1420.7 L106.4 1443.5 A58.7 18.4 0 0 0 223.8 1443.5 L223.8 1420.7 A58.7 18.4 0 0 1 106.4 1420.7 Z" fill="url(#gyel)" stroke="#cfd22e" stroke-width="2.2" stroke-linejoin="round"/>
<path d="M106.4 1382.3 L106.4 1420.7 A58.7 18.4 0 0 0 223.8 1420.7 L223.8 1382.3 A58.7 18.4 0 0 1 106.4 1382.3 Z" fill="url(#gwhite)" stroke="#4c4c4c" stroke-width="2.1" stroke-linejoin="round"/>
<ellipse cx="165.1" cy="1382.3" rx="58.7" ry="18.4" fill="url(#gtop)" stroke="#4c4c4c" stroke-width="2.1"/>
<rect x="337.5" y="1321" width="344" height="57.5" fill="#e6e6e6"/>
<text x="352.5" y="1357" font-size="28.5" fill="#111">Gain</text>
<text x="423" y="1288.5" font-size="28.5" fill="#111">λ</text>
<line x1="455" y1="1409" x2="492.5" y2="1353.7" stroke="#8e8e8e" stroke-width="1.5" stroke-dasharray="4.5 3"/>
<line x1="455" y1="1420" x2="492.5" y2="1390" stroke="#8e8e8e" stroke-width="1.5" stroke-dasharray="4.5 3"/>
<line x1="455" y1="1409" x2="492.5" y2="1424.2" stroke="#8e8e8e" stroke-width="1.5" stroke-dasharray="4.5 3"/>
<line x1="455" y1="1420" x2="492.5" y2="1443.8" stroke="#8e8e8e" stroke-width="1.5" stroke-dasharray="4.5 3"/>
<line x1="527.8" y1="1353.7" x2="564.5" y2="1391.3" stroke="#8e8e8e" stroke-width="1.5" stroke-dasharray="4.5 3"/>
<line x1="527.8" y1="1390" x2="564.5" y2="1391.3" stroke="#8e8e8e" stroke-width="1.5" stroke-dasharray="4.5 3"/>
<line x1="527.8" y1="1424.2" x2="564.5" y2="1410" stroke="#8e8e8e" stroke-width="1.5" stroke-dasharray="4.5 3"/>
<line x1="527.8" y1="1443.8" x2="564.5" y2="1410" stroke="#8e8e8e" stroke-width="1.5" stroke-dasharray="4.5 3"/>
<line x1="527.8" y1="1390" x2="564.5" y2="1410" stroke="#8e8e8e" stroke-width="1.5" stroke-dasharray="4.5 3"/>
<line x1="455" y1="1420" x2="492.5" y2="1424.2" stroke="#8e8e8e" stroke-width="1.5" stroke-dasharray="4.5 3"/>
<line x1="455" y1="1283.5" x2="455" y2="1479.5" stroke="#808080" stroke-width="2.2"/>
<path d="M455 1273.5 L449.7 1291.5 L455 1288.5 L460.3 1291.5 Z" fill="#808080"/>
<line x1="564.8" y1="1283.5" x2="564.8" y2="1479.5" stroke="#808080" stroke-width="2.2"/>
<path d="M564.8 1273.5 L559.5 1291.5 L564.8 1288.5 L570.1 1291.5 Z" fill="#808080"/>
<text x="373" y="1414.5" font-size="28.5" fill="#555">ED</text>
<text x="373" y="1440" font-size="28.5" fill="#555">EQ</text>
<line x1="420.8" y1="1408.8" x2="455" y2="1408.8" stroke="#6b6526" stroke-width="4"/>
<line x1="420.8" y1="1420" x2="455" y2="1420" stroke="#6b6526" stroke-width="4"/>
<line x1="420.8" y1="1426.7" x2="455" y2="1426.7" stroke="#6b6526" stroke-width="4"/>
<line x1="420.8" y1="1433.2" x2="455" y2="1433.2" stroke="#6b6526" stroke-width="4"/>
<line x1="492.5" y1="1353.7" x2="527.8" y2="1353.7" stroke="#4b9cd3" stroke-width="4"/>
<line x1="492.5" y1="1390" x2="527.8" y2="1390" stroke="#4b9cd3" stroke-width="4"/>
<line x1="492.5" y1="1424.2" x2="527.8" y2="1424.2" stroke="#4b9cd3" stroke-width="4" stroke-dasharray="8.5 5"/>
<line x1="492.5" y1="1443.8" x2="527.8" y2="1443.8" stroke="#4b9cd3" stroke-width="4" stroke-dasharray="8.5 5"/>
<line x1="564.5" y1="1391.3" x2="598" y2="1391.3" stroke="#6a6a6a" stroke-width="4"/>
<line x1="564.5" y1="1410" x2="598" y2="1410" stroke="#6a6a6a" stroke-width="4"/>
<line x1="564.5" y1="1432.3" x2="598" y2="1432.3" stroke="#6a6a6a" stroke-width="4"/>
<line x1="564.5" y1="1464.8" x2="598" y2="1464.8" stroke="#6a6a6a" stroke-width="4"/>
<line x1="564.5" y1="1477.6" x2="598" y2="1477.6" stroke="#6a6a6a" stroke-width="4"/>
<text x="608" y="1399.5" font-size="28.5" fill="#555">MD</text>
<text x="608" y="1424" font-size="28.5" fill="#555">ED</text>
<text x="755.5" y="613.5" font-size="37" fill="#111" font-weight="bold">d</text>
<line x1="906.3" y1="650.2" x2="1476" y2="650.2" stroke="#9a9a9a" stroke-width="1.5" stroke-dasharray="8 8.5"/>
<line x1="1027.6" y1="588" x2="1027.6" y2="841.2" stroke="#9a9a9a" stroke-width="1.5" stroke-dasharray="8 8.5"/>
<line x1="906.3" y1="586.2" x2="906.3" y2="842.3" stroke="#3a3a3a" stroke-width="2.2"/>
<line x1="897.9" y1="603.5" x2="906.3" y2="603.5" stroke="#3a3a3a" stroke-width="2"/>
<text x="889.8" y="608.2" font-size="28.5" fill="#444" text-anchor="end">1400</text>
<line x1="897.9" y1="657" x2="906.3" y2="657" stroke="#3a3a3a" stroke-width="2"/>
<text x="889.8" y="661.7" font-size="28.5" fill="#444" text-anchor="end">1200</text>
<line x1="897.9" y1="710.5" x2="906.3" y2="710.5" stroke="#3a3a3a" stroke-width="2"/>
<text x="889.8" y="715.2" font-size="28.5" fill="#444" text-anchor="end">1000</text>
<line x1="897.9" y1="764" x2="906.3" y2="764" stroke="#3a3a3a" stroke-width="2"/>
<text x="889.8" y="768.7" font-size="28.5" fill="#444" text-anchor="end">800</text>
<line x1="897.9" y1="817.5" x2="906.3" y2="817.5" stroke="#3a3a3a" stroke-width="2"/>
<text x="889.8" y="822.2" font-size="28.5" fill="#444" text-anchor="end">600</text>
<line x1="901.6" y1="630.25" x2="906.3" y2="630.25" stroke="#3a3a3a" stroke-width="1.8"/>
<line x1="901.6" y1="683.75" x2="906.3" y2="683.75" stroke="#3a3a3a" stroke-width="1.8"/>
<line x1="901.6" y1="737.25" x2="906.3" y2="737.25" stroke="#3a3a3a" stroke-width="1.8"/>
<line x1="901.6" y1="790.75" x2="906.3" y2="790.75" stroke="#3a3a3a" stroke-width="1.8"/>
<text x="813.2" y="700.5" font-size="28.5" fill="#111" text-anchor="middle" transform="rotate(-90 813.2 700.5)">Wavelength (nm)</text>
<line x1="905.1" y1="841.2" x2="1340" y2="841.2" stroke="#3a3a3a" stroke-width="2.2"/>
<line x1="1412.5" y1="841.2" x2="1490.5" y2="841.2" stroke="#3a3a3a" stroke-width="2.2"/>
<line x1="930.8" y1="841.2" x2="930.8" y2="850.2" stroke="#3a3a3a" stroke-width="2"/>
<text x="930.8" y="882.2" font-size="28.5" fill="#444" text-anchor="middle">0</text>
<line x1="979.1" y1="841.2" x2="979.1" y2="846.4" stroke="#3a3a3a" stroke-width="1.8"/>
<line x1="1027.6" y1="841.2" x2="1027.6" y2="850.2" stroke="#3a3a3a" stroke-width="2"/>
<text x="1027.6" y="882.2" font-size="28.5" fill="#444" text-anchor="middle">1</text>
<line x1="1075.9" y1="841.2" x2="1075.9" y2="846.4" stroke="#3a3a3a" stroke-width="1.8"/>
<line x1="1124.3" y1="841.2" x2="1124.3" y2="850.2" stroke="#3a3a3a" stroke-width="2"/>
<text x="1124.3" y="882.2" font-size="28.5" fill="#444" text-anchor="middle">2</text>
<line x1="1172.6" y1="841.2" x2="1172.6" y2="846.4" stroke="#3a3a3a" stroke-width="1.8"/>
<line x1="1221" y1="841.2" x2="1221" y2="850.2" stroke="#3a3a3a" stroke-width="2"/>
<text x="1221" y="882.2" font-size="28.5" fill="#444" text-anchor="middle">3</text>
<line x1="1269.3" y1="841.2" x2="1269.3" y2="846.4" stroke="#3a3a3a" stroke-width="1.8"/>
<line x1="1317.5" y1="841.2" x2="1317.5" y2="850.2" stroke="#3a3a3a" stroke-width="2"/>
<text x="1317.5" y="882.2" font-size="28.5" fill="#444" text-anchor="middle">4</text>
<line x1="1451.2" y1="841.2" x2="1451.2" y2="850.2" stroke="#3a3a3a" stroke-width="2"/>
<text x="1453.2" y="882.5" font-size="28.5" fill="#444" text-anchor="middle">Inf</text>
<path d="M1372.3 830 C1374.8 835.2 1375.8 840.2 1374 845.2 C1372.4 849.2 1370.2 853.2 1374.8 858.5" stroke="#111" stroke-width="5.6" fill="none"/>
<path d="M1386 830 C1388.5 835.2 1389.5 840.2 1387.7 845.2 C1386.1 849.2 1383.9 853.2 1388.5 858.5" stroke="#111" stroke-width="5.6" fill="none"/>
<circle cx="930.8" cy="817.6" r="8.4" fill="#e9f3f9" stroke="#4a98cf" stroke-width="2"/>
<circle cx="954" cy="714.4" r="8.4" fill="#e9f3f9" stroke="#4a98cf" stroke-width="2"/>
<circle cx="965.6" cy="697.5" r="8.4" fill="#e9f3f9" stroke="#4a98cf" stroke-width="2"/>
<circle cx="979.3" cy="668" r="8.4" fill="#e9f3f9" stroke="#4a98cf" stroke-width="2"/>
<circle cx="1004.2" cy="625.6" r="8.4" fill="#e9f3f9" stroke="#4a98cf" stroke-width="2"/>
<circle cx="1027.7" cy="623.8" r="8.4" fill="#e9f3f9" stroke="#4a98cf" stroke-width="2"/>
<circle cx="1075.1" cy="632.2" r="8.4" fill="#e9f3f9" stroke="#4a98cf" stroke-width="2"/>
<circle cx="1124.3" cy="646.3" r="8.4" fill="#e9f3f9" stroke="#4a98cf" stroke-width="2"/>
<circle cx="1221" cy="651.5" r="8.4" fill="#e9f3f9" stroke="#4a98cf" stroke-width="2"/>
<circle cx="1317.4" cy="651.2" r="8.4" fill="#e9f3f9" stroke="#4a98cf" stroke-width="2"/>
<circle cx="1451.2" cy="649.9" r="8.4" fill="#e9f3f9" stroke="#4a98cf" stroke-width="2"/>
<line x1="906.3" y1="1049.8" x2="1476" y2="1049.8" stroke="#9a9a9a" stroke-width="1.5" stroke-dasharray="8 8.5"/>
<line x1="1027.6" y1="903" x2="1027.6" y2="1146.8" stroke="#9a9a9a" stroke-width="1.5" stroke-dasharray="8 8.5"/>
<line x1="906.3" y1="902" x2="906.3" y2="1147.9" stroke="#3a3a3a" stroke-width="2.2"/>
<line x1="897.9" y1="903" x2="906.3" y2="903" stroke="#3a3a3a" stroke-width="2"/>
<text x="889.8" y="907.7" font-size="28.5" fill="#444" text-anchor="end">25</text>
<line x1="897.9" y1="951.76" x2="906.3" y2="951.76" stroke="#3a3a3a" stroke-width="2"/>
<text x="889.8" y="956.46" font-size="28.5" fill="#444" text-anchor="end">20</text>
<line x1="897.9" y1="1000.52" x2="906.3" y2="1000.52" stroke="#3a3a3a" stroke-width="2"/>
<text x="889.8" y="1005.22" font-size="28.5" fill="#444" text-anchor="end">15</text>
<line x1="897.9" y1="1049.28" x2="906.3" y2="1049.28" stroke="#3a3a3a" stroke-width="2"/>
<text x="889.8" y="1053.98" font-size="28.5" fill="#444" text-anchor="end">10</text>
<line x1="897.9" y1="1098.04" x2="906.3" y2="1098.04" stroke="#3a3a3a" stroke-width="2"/>
<text x="889.8" y="1102.74" font-size="28.5" fill="#444" text-anchor="end">5</text>
<line x1="897.9" y1="1146.8" x2="906.3" y2="1146.8" stroke="#3a3a3a" stroke-width="2"/>
<text x="889.8" y="1151.5" font-size="28.5" fill="#444" text-anchor="end">0</text>
<text x="813.2" y="1014" font-size="28.5" fill="#111" text-anchor="middle" transform="rotate(-90 813.2 1014)">Mode quality factor</text>
<line x1="905.1" y1="1146.8" x2="1340" y2="1146.8" stroke="#3a3a3a" stroke-width="2.2"/>
<line x1="1412.5" y1="1146.8" x2="1490.5" y2="1146.8" stroke="#3a3a3a" stroke-width="2.2"/>
<line x1="930.8" y1="1146.8" x2="930.8" y2="1155.8" stroke="#3a3a3a" stroke-width="2"/>
<text x="930.8" y="1187.8" font-size="28.5" fill="#444" text-anchor="middle">0</text>
<line x1="979.1" y1="1146.8" x2="979.1" y2="1152" stroke="#3a3a3a" stroke-width="1.8"/>
<line x1="1027.6" y1="1146.8" x2="1027.6" y2="1155.8" stroke="#3a3a3a" stroke-width="2"/>
<text x="1027.6" y="1187.8" font-size="28.5" fill="#444" text-anchor="middle">1</text>
<line x1="1075.9" y1="1146.8" x2="1075.9" y2="1152" stroke="#3a3a3a" stroke-width="1.8"/>
<line x1="1124.3" y1="1146.8" x2="1124.3" y2="1155.8" stroke="#3a3a3a" stroke-width="2"/>
<text x="1124.3" y="1187.8" font-size="28.5" fill="#444" text-anchor="middle">2</text>
<line x1="1172.6" y1="1146.8" x2="1172.6" y2="1152" stroke="#3a3a3a" stroke-width="1.8"/>
<line x1="1221" y1="1146.8" x2="1221" y2="1155.8" stroke="#3a3a3a" stroke-width="2"/>
<text x="1221" y="1187.8" font-size="28.5" fill="#444" text-anchor="middle">3</text>
<line x1="1269.3" y1="1146.8" x2="1269.3" y2="1152" stroke="#3a3a3a" stroke-width="1.8"/>
<line x1="1317.5" y1="1146.8" x2="1317.5" y2="1155.8" stroke="#3a3a3a" stroke-width="2"/>
<text x="1317.5" y="1187.8" font-size="28.5" fill="#444" text-anchor="middle">4</text>
<line x1="1451.2" y1="1146.8" x2="1451.2" y2="1155.8" stroke="#3a3a3a" stroke-width="2"/>
<text x="1453.2" y="1188.1" font-size="28.5" fill="#444" text-anchor="middle">Inf</text>
<path d="M1372.3 1135.6 C1374.8 1140.8 1375.8 1145.8 1374 1150.8 C1372.4 1154.8 1370.2 1158.8 1374.8 1164.1" stroke="#111" stroke-width="5.6" fill="none"/>
<path d="M1386 1135.6 C1388.5 1140.8 1389.5 1145.8 1387.7 1150.8 C1386.1 1154.8 1383.9 1158.8 1388.5 1164.1" stroke="#111" stroke-width="5.6" fill="none"/>
<circle cx="931.1" cy="1126.5" r="8.4" fill="#e9f3f9" stroke="#4a98cf" stroke-width="2"/>
<circle cx="954.6" cy="1042.7" r="8.4" fill="#e9f3f9" stroke="#4a98cf" stroke-width="2"/>
<circle cx="966" cy="995.1" r="8.4" fill="#e9f3f9" stroke="#4a98cf" stroke-width="2"/>
<circle cx="979.4" cy="946.8" r="8.4" fill="#e9f3f9" stroke="#4a98cf" stroke-width="2"/>
<circle cx="1004.1" cy="1007.1" r="8.4" fill="#e9f3f9" stroke="#4a98cf" stroke-width="2"/>
<circle cx="1027.6" cy="1030.6" r="8.4" fill="#e9f3f9" stroke="#4a98cf" stroke-width="2"/>
<circle cx="1079" cy="1070.6" r="8.4" fill="#e9f3f9" stroke="#4a98cf" stroke-width="2"/>
<circle cx="1124.8" cy="1085.9" r="8.4" fill="#e9f3f9" stroke="#4a98cf" stroke-width="2"/>
<circle cx="1221.3" cy="1052.9" r="8.4" fill="#e9f3f9" stroke="#4a98cf" stroke-width="2"/>
<circle cx="1317.1" cy="1034.4" r="8.4" fill="#e9f3f9" stroke="#4a98cf" stroke-width="2"/>
<circle cx="1451.1" cy="1042.1" r="8.4" fill="#e9f3f9" stroke="#4a98cf" stroke-width="2"/>
<line x1="1027.6" y1="1220" x2="1027.6" y2="1442.2" stroke="#9a9a9a" stroke-width="1.5" stroke-dasharray="8 8.5"/>
<line x1="906.3" y1="1219.5" x2="906.3" y2="1443.3" stroke="#3a3a3a" stroke-width="2.2"/>
<line x1="897.9" y1="1220.5" x2="906.3" y2="1220.5" stroke="#3a3a3a" stroke-width="2"/>
<text x="889.8" y="1225.2" font-size="28.5" fill="#444" text-anchor="end">1</text>
<line x1="897.9" y1="1331.3" x2="906.3" y2="1331.3" stroke="#3a3a3a" stroke-width="2"/>
<text x="889.8" y="1336" font-size="28.5" fill="#444" text-anchor="end">0.5</text>
<line x1="897.9" y1="1442.2" x2="906.3" y2="1442.2" stroke="#3a3a3a" stroke-width="2"/>
<text x="889.8" y="1446.9" font-size="28.5" fill="#444" text-anchor="end">0</text>
<text x="813.2" y="1326" font-size="28.5" fill="#111" text-anchor="middle" transform="rotate(-90 813.2 1326)">Energy in III-V (%)</text>
<line x1="905.1" y1="1442.2" x2="1340" y2="1442.2" stroke="#3a3a3a" stroke-width="2.2"/>
<line x1="1412.5" y1="1442.2" x2="1490.5" y2="1442.2" stroke="#3a3a3a" stroke-width="2.2"/>
<line x1="930.8" y1="1442.2" x2="930.8" y2="1451.2" stroke="#3a3a3a" stroke-width="2"/>
<text x="930.8" y="1483.2" font-size="28.5" fill="#444" text-anchor="middle">0</text>
<line x1="979.1" y1="1442.2" x2="979.1" y2="1447.4" stroke="#3a3a3a" stroke-width="1.8"/>
<line x1="1027.6" y1="1442.2" x2="1027.6" y2="1451.2" stroke="#3a3a3a" stroke-width="2"/>
<text x="1027.6" y="1483.2" font-size="28.5" fill="#444" text-anchor="middle">1</text>
<line x1="1075.9" y1="1442.2" x2="1075.9" y2="1447.4" stroke="#3a3a3a" stroke-width="1.8"/>
<line x1="1124.3" y1="1442.2" x2="1124.3" y2="1451.2" stroke="#3a3a3a" stroke-width="2"/>
<text x="1124.3" y="1483.2" font-size="28.5" fill="#444" text-anchor="middle">2</text>
<line x1="1172.6" y1="1442.2" x2="1172.6" y2="1447.4" stroke="#3a3a3a" stroke-width="1.8"/>
<line x1="1221" y1="1442.2" x2="1221" y2="1451.2" stroke="#3a3a3a" stroke-width="2"/>
<text x="1221" y="1483.2" font-size="28.5" fill="#444" text-anchor="middle">3</text>
<line x1="1269.3" y1="1442.2" x2="1269.3" y2="1447.4" stroke="#3a3a3a" stroke-width="1.8"/>
<line x1="1317.5" y1="1442.2" x2="1317.5" y2="1451.2" stroke="#3a3a3a" stroke-width="2"/>
<text x="1317.5" y="1483.2" font-size="28.5" fill="#444" text-anchor="middle">4</text>
<line x1="1451.2" y1="1442.2" x2="1451.2" y2="1451.2" stroke="#3a3a3a" stroke-width="2"/>
<text x="1453.2" y="1483.5" font-size="28.5" fill="#444" text-anchor="middle">Inf</text>
<path d="M1372.3 1431 C1374.8 1436.2 1375.8 1441.2 1374 1446.2 C1372.4 1450.2 1370.2 1454.2 1374.8 1459.5" stroke="#111" stroke-width="5.6" fill="none"/>
<path d="M1386 1431 C1388.5 1436.2 1389.5 1441.2 1387.7 1446.2 C1386.1 1450.2 1383.9 1454.2 1388.5 1459.5" stroke="#111" stroke-width="5.6" fill="none"/>
<circle cx="931.1" cy="1220.6" r="8.4" fill="#e9f3f9" stroke="#4a98cf" stroke-width="2"/>
<circle cx="954.6" cy="1410.5" r="8.4" fill="#e9f3f9" stroke="#4a98cf" stroke-width="2"/>
<circle cx="966" cy="1379.4" r="8.4" fill="#e9f3f9" stroke="#4a98cf" stroke-width="2"/>
<circle cx="979.4" cy="1340" r="8.4" fill="#e9f3f9" stroke="#4a98cf" stroke-width="2"/>
<circle cx="1004.1" cy="1322.2" r="8.4" fill="#e9f3f9" stroke="#4a98cf" stroke-width="2"/>
<circle cx="1027.6" cy="1314.6" r="8.4" fill="#e9f3f9" stroke="#4a98cf" stroke-width="2"/>
<circle cx="1077.1" cy="1352.1" r="8.4" fill="#e9f3f9" stroke="#4a98cf" stroke-width="2"/>
<circle cx="1124.8" cy="1343.8" r="8.4" fill="#e9f3f9" stroke="#4a98cf" stroke-width="2"/>
<circle cx="1221.3" cy="1350.2" r="8.4" fill="#e9f3f9" stroke="#4a98cf" stroke-width="2"/>
<circle cx="1317.1" cy="1366" r="8.4" fill="#e9f3f9" stroke="#4a98cf" stroke-width="2"/>
<circle cx="1451.1" cy="1383.8" r="8.4" fill="#e9f3f9" stroke="#4a98cf" stroke-width="2"/>
<text x="1027" y="1521" font-size="28.5" fill="#444">Diameter ratio (D<tspan font-size="16.5" dy="9">m</tspan><tspan dy="-9">/D</tspan><tspan font-size="16.5" dy="9">d</tspan><tspan dy="-9">)</tspan></text>
<text x="1566" y="648.2" font-size="28.5" fill="#444">D<tspan font-size="16.5" dy="9">d</tspan><tspan dy="-9">=250 nm</tspan></text>
<path d="M1590 674.6 L1684 674.6 M1597 670.6 L1590 674.6 L1597 678.6 M1677 670.6 L1684 674.6 L1677 678.6" stroke="#444" stroke-width="1.5" fill="none" stroke-linejoin="round" stroke-linecap="round"/>
<path d="M1566.4 737.5 L1566.4 756.5 A70.8 20.5 0 0 0 1708 756.5 L1708 737.5 A70.8 20.5 0 0 1 1566.4 737.5 Z" fill="url(#gyel2)" stroke="#333" stroke-width="1.5" stroke-linejoin="round"/>
<ellipse cx="1637.2" cy="737.5" rx="70.8" ry="20.5" fill="#f1f3a2" stroke="#333" stroke-width="1.5"/>
<path d="M1589.7 702.2 L1589.7 731 A47.1 15.6 0 0 0 1683.9 731 L1683.9 702.2 A47.1 15.6 0 0 1 1589.7 702.2 Z" fill="url(#gwhite2)" stroke="#333" stroke-width="1.5" stroke-linejoin="round"/>
<ellipse cx="1636.8" cy="702.2" rx="47.1" ry="15.6" fill="#f7f7f7" stroke="#333" stroke-width="1.5"/>
<path d="M1721 696.5 L1721 731 M1717 703.5 L1721 696.5 L1725 703.5 M1717 724 L1721 731 L1725 724" stroke="#444" stroke-width="1.5" fill="none" stroke-linejoin="round" stroke-linecap="round"/>
<path d="M1721 737 L1721 764 M1717 744 L1721 737 L1725 744 M1717 757 L1721 764 L1725 757" stroke="#444" stroke-width="1.5" fill="none" stroke-linejoin="round" stroke-linecap="round"/>
<text x="1731.5" y="725" font-size="28.5" fill="#444">130 nm</text>
<text x="1731.5" y="759" font-size="28.5" fill="#444">100 nm</text>
<path d="M1564.5 794.7 L1709 794.7 M1571.5 790.7 L1564.5 794.7 L1571.5 798.7 M1702 790.7 L1709 794.7 L1702 798.7" stroke="#444" stroke-width="1.5" fill="none" stroke-linejoin="round" stroke-linecap="round"/>
<text x="1620.5" y="825.6" font-size="28.5" fill="#444">D<tspan font-size="16.5" dy="9.5">m</tspan></text>
<text x="1566" y="971.6" font-size="28.5" fill="#444">D<tspan font-size="16.5" dy="9">d</tspan><tspan dy="-9">=250 nm</tspan></text>
<path d="M1590 995.1 L1684 995.1 M1597 991.1 L1590 995.1 L1597 999.1 M1677 991.1 L1684 995.1 L1677 999.1" stroke="#444" stroke-width="1.5" fill="none" stroke-linejoin="round" stroke-linecap="round"/>
<ellipse cx="1637.8" cy="1051" rx="146.7" ry="46" fill="url(#gyelE)"/>
<path d="M1589.7 1024.3 L1589.7 1052.5 A47.1 15.6 0 0 0 1683.9 1052.5 L1683.9 1024.3 A47.1 15.6 0 0 1 1589.7 1024.3 Z" fill="url(#gwhite2)" stroke="#333" stroke-width="1.5" stroke-linejoin="round"/>
<ellipse cx="1636.8" cy="1024.3" rx="47.1" ry="15.6" fill="#f7f7f7" stroke="#333" stroke-width="1.5"/>
<text x="1707" y="1114.5" font-size="28.5" fill="#444">Inf</text>
<text x="34" y="1572.5" font-size="37" fill="#111" font-weight="bold">e</text>
<line x1="178.8" y1="1569.5" x2="178.8" y2="2223.5" stroke="#cdcdd4" stroke-width="1.25" stroke-dasharray="4 4.5"/>
<line x1="253.9" y1="1569.5" x2="253.9" y2="2223.5" stroke="#cdcdd4" stroke-width="1.25" stroke-dasharray="4 4.5"/>
<line x1="329.4" y1="1569.5" x2="329.4" y2="2223.5" stroke="#cdcdd4" stroke-width="1.25" stroke-dasharray="4 4.5"/>
<path d="M125.7 1633.9C127.8 1633.8 133.9 1633.5 138.1 1633.2C142.3 1632.9 146.5 1632.6 150.7 1632.1C154.9 1631.6 159.2 1630.9 163.4 1630.1C167.6 1629.3 171.8 1628.3 176.0 1627.2C180.2 1626.0 184.7 1624.4 188.6 1622.9C192.6 1621.5 196.1 1619.9 199.9 1618.3C203.6 1616.7 207.4 1615.0 211.1 1613.4C214.9 1611.8 218.8 1610.3 222.3 1608.9C225.9 1607.5 229.1 1606.3 232.2 1605.0C235.2 1603.6 238.3 1602.3 240.6 1600.9C242.9 1599.4 244.3 1598.1 246.2 1596.3C248.1 1594.4 250.0 1591.9 251.8 1589.9C253.7 1587.9 255.7 1585.7 257.5 1584.3C259.2 1583.0 260.8 1582.1 262.4 1581.9C263.9 1581.8 265.1 1582.3 266.6 1583.6C268.1 1585.0 269.7 1587.4 271.5 1589.9C273.2 1592.5 275.2 1596.4 277.1 1599.1C279.0 1601.8 280.6 1604.1 282.7 1606.1C284.8 1608.0 287.2 1609.4 289.8 1610.7C292.3 1612.1 295.4 1613.1 298.2 1614.1C301.0 1615.1 304.0 1616.1 306.6 1616.9C309.2 1617.7 311.6 1618.6 313.6 1618.7C315.6 1618.9 317.0 1618.6 318.5 1617.7C320.1 1616.9 321.5 1615.8 322.8 1613.5C324.0 1611.2 325.2 1607.4 326.3 1604.0C327.3 1600.5 328.1 1595.9 329.1 1592.7C330.0 1589.6 330.8 1587.0 331.9 1585.0C333.0 1583.0 334.5 1580.5 335.7 1580.8C336.8 1581.2 337.6 1584.9 338.9 1587.1C340.2 1589.4 342.6 1593.0 343.4 1594.2" stroke="#7b7b7b" stroke-width="2.1" fill="none" stroke-linecap="round" stroke-linejoin="round"/>
<path d="M123.6 1719.1C125.1 1718.8 129.6 1718.0 132.5 1717.0C135.3 1716.1 137.9 1715.2 140.9 1713.5C143.9 1711.9 147.7 1709.7 150.7 1707.2C153.8 1704.7 156.3 1701.9 159.2 1698.8C162.0 1695.6 165.0 1691.5 167.6 1688.2C170.2 1685.0 172.5 1681.6 174.6 1679.1C176.7 1676.7 178.3 1675.1 180.2 1673.5C182.1 1671.9 183.8 1670.3 185.8 1669.3C187.8 1668.3 190.0 1667.7 192.2 1667.6C194.3 1667.5 196.0 1667.8 198.5 1668.6C200.9 1669.3 204.1 1670.8 206.9 1672.1C209.7 1673.4 212.3 1675.0 215.3 1676.3C218.4 1677.6 221.6 1678.9 225.2 1679.8C228.7 1680.7 232.2 1681.2 236.4 1681.9C240.6 1682.6 245.7 1683.4 250.4 1684.0C255.1 1684.6 259.8 1684.9 264.5 1685.4C269.2 1685.9 273.8 1686.5 278.5 1687.1C283.2 1687.7 287.9 1688.2 292.6 1688.9C297.2 1689.6 302.2 1690.5 306.6 1691.3C311.0 1692.1 315.5 1692.8 319.2 1693.9C323.0 1694.9 325.8 1696.1 329.1 1697.4C332.3 1698.6 337.3 1700.5 338.9 1701.2" stroke="#c9d232" stroke-width="2.1" fill="none" stroke-linecap="round" stroke-linejoin="round"/>
<path d="M123.6 1783.4C125.1 1783.0 129.4 1782.1 132.5 1781.3C135.6 1780.4 139.0 1779.5 142.3 1778.2C145.6 1776.9 148.9 1775.2 152.1 1773.3C155.4 1771.4 158.9 1769.2 162.0 1767.0C165.0 1764.7 167.6 1762.6 170.4 1759.9C173.2 1757.3 176.2 1754.2 178.8 1751.2C181.4 1748.3 183.5 1745.0 185.8 1742.4C188.2 1739.7 190.7 1737.1 192.9 1735.4C195.0 1733.6 196.8 1732.5 198.5 1731.9C200.1 1731.2 201.0 1731.2 202.7 1731.4C204.3 1731.7 206.2 1732.5 208.3 1733.3C210.4 1734.0 213.1 1735.3 215.3 1736.1C217.5 1736.8 219.5 1737.7 221.6 1737.9C223.7 1738.1 226.0 1737.4 228.0 1737.2C230.0 1737.0 231.5 1737.2 233.6 1736.8C235.7 1736.3 238.3 1734.9 240.6 1734.7C242.9 1734.4 245.5 1734.8 247.6 1735.1C249.7 1735.3 251.6 1735.4 253.2 1736.1C254.9 1736.7 255.8 1737.4 257.5 1738.9C259.1 1740.4 261.2 1743.0 263.1 1745.2C264.9 1747.4 266.9 1750.2 268.7 1752.2C270.4 1754.3 272.0 1756.3 273.6 1757.4C275.2 1758.5 276.6 1758.9 278.5 1758.8C280.4 1758.8 282.7 1757.6 284.8 1757.1C286.9 1756.6 288.9 1755.6 291.2 1755.7C293.4 1755.8 295.8 1757.0 298.2 1757.8C300.5 1758.7 302.9 1759.8 305.2 1760.6C307.5 1761.5 310.1 1763.1 312.2 1763.2C314.3 1763.3 315.7 1762.5 317.8 1761.3C319.9 1760.2 322.8 1757.8 324.9 1756.4C327.0 1755.0 328.8 1753.0 330.5 1752.9C332.1 1752.8 333.2 1754.5 334.7 1755.7C336.1 1756.9 338.4 1759.5 339.2 1760.2" stroke="#ee9262" stroke-width="2.1" fill="none" stroke-linecap="round" stroke-linejoin="round"/>
<path d="M123.6 1846.0C125.1 1845.6 129.6 1844.5 132.5 1843.5C135.3 1842.4 138.1 1841.3 140.9 1839.7C143.7 1838.1 146.5 1836.1 149.3 1833.7C152.1 1831.3 154.9 1828.5 157.7 1825.2C160.6 1822.0 163.6 1817.6 166.2 1814.0C168.7 1810.4 171.1 1806.2 173.2 1803.5C175.3 1800.8 177.3 1799.1 178.8 1797.9C180.3 1796.6 181.0 1796.2 182.3 1796.2C183.6 1796.1 184.8 1796.6 186.5 1797.6C188.3 1798.6 190.6 1800.6 192.9 1802.1C195.1 1803.5 197.5 1805.4 199.9 1806.3C202.2 1807.2 204.6 1807.4 206.9 1807.4C209.2 1807.4 211.6 1807.0 213.9 1806.0C216.3 1805.0 218.6 1803.0 220.9 1801.4C223.3 1799.7 225.9 1797.3 228.0 1796.2C230.1 1795.0 231.7 1794.5 233.6 1794.6C235.5 1794.8 237.1 1795.8 239.2 1797.2C241.3 1798.5 243.9 1801.2 246.2 1802.8C248.6 1804.3 251.1 1805.7 253.2 1806.6C255.3 1807.4 257.0 1807.1 258.9 1807.7C260.7 1808.3 262.6 1808.8 264.5 1810.2C266.3 1811.6 268.2 1814.0 270.1 1816.1C272.0 1818.3 273.8 1821.3 275.7 1823.1C277.6 1825.0 279.3 1826.5 281.3 1827.3C283.3 1828.2 285.8 1828.6 287.6 1828.5C289.5 1828.4 290.8 1827.8 292.6 1826.6C294.3 1825.5 296.5 1823.0 298.2 1821.7C299.9 1820.5 301.0 1819.1 302.7 1819.2C304.3 1819.3 306.2 1821.5 308.0 1822.4C309.8 1823.4 311.9 1824.8 313.6 1824.8C315.4 1824.8 317.0 1823.1 318.5 1822.4C320.1 1821.7 321.2 1820.5 322.8 1820.6C324.3 1820.7 325.9 1822.3 327.7 1823.1C329.4 1824.0 331.4 1825.1 333.3 1825.5C335.2 1826.0 338.0 1825.9 338.9 1825.9" stroke="#ec7470" stroke-width="2.1" fill="none" stroke-linecap="round" stroke-linejoin="round"/>
<path d="M123.6 1917.4C125.1 1916.9 129.6 1915.8 132.5 1914.6C135.3 1913.4 138.1 1912.0 140.9 1910.1C143.7 1908.2 146.5 1906.0 149.3 1903.1C152.1 1900.2 155.2 1896.4 157.7 1892.8C160.3 1889.3 162.7 1885.1 164.8 1881.6C166.9 1878.1 168.7 1874.2 170.4 1871.8C172.0 1869.4 173.3 1868.1 174.6 1867.1C175.9 1866.2 176.8 1865.8 178.1 1866.1C179.4 1866.5 180.7 1867.2 182.3 1869.0C184.0 1870.7 185.9 1874.3 187.9 1876.7C189.9 1879.0 192.2 1881.7 194.3 1883.0C196.4 1884.3 198.5 1884.7 200.6 1884.7C202.7 1884.7 204.7 1884.2 206.9 1883.0C209.1 1881.8 211.7 1879.5 213.9 1877.4C216.1 1875.3 218.2 1872.1 220.2 1870.4C222.2 1868.7 224.0 1867.4 225.9 1867.1C227.7 1866.9 229.5 1867.7 231.5 1869.0C233.5 1870.2 235.6 1872.8 237.8 1874.6C240.0 1876.3 242.5 1878.2 244.8 1879.5C247.2 1880.7 249.5 1881.5 251.8 1882.0C254.2 1882.5 256.7 1882.5 258.9 1882.6C261.0 1882.6 262.8 1882.0 264.5 1882.3C266.1 1882.6 267.2 1883.0 268.7 1884.4C270.2 1885.8 272.0 1888.6 273.6 1890.7C275.2 1892.8 276.8 1895.4 278.5 1897.0C280.3 1898.7 282.4 1899.9 284.1 1900.6C285.9 1901.3 287.4 1901.5 289.0 1901.3C290.7 1901.0 292.3 1900.2 294.0 1899.2C295.6 1898.1 297.4 1895.9 298.9 1894.9C300.4 1894.0 301.6 1893.4 303.1 1893.3C304.6 1893.1 306.4 1893.9 308.0 1894.2C309.6 1894.6 311.2 1895.1 312.9 1895.2C314.7 1895.3 316.8 1894.5 318.5 1894.7C320.3 1894.8 321.7 1895.8 323.5 1896.3C325.2 1896.9 327.2 1897.9 329.1 1898.2C330.9 1898.4 333.0 1897.8 334.7 1897.7C336.4 1897.7 338.4 1897.7 339.2 1897.7" stroke="#e85a7c" stroke-width="2.1" fill="none" stroke-linecap="round" stroke-linejoin="round"/>
<path d="M123.6 1976.8C125.1 1976.3 129.6 1975.1 132.5 1973.9C135.3 1972.6 138.1 1971.2 140.9 1969.1C143.7 1966.9 146.7 1964.1 149.3 1960.9C151.9 1957.8 154.0 1954.3 156.3 1950.4C158.7 1946.5 161.4 1941.3 163.4 1937.8C165.4 1934.3 166.9 1931.3 168.3 1929.3C169.7 1927.4 170.7 1926.4 171.8 1925.8C172.8 1925.2 173.4 1924.9 174.6 1925.8C175.8 1926.8 177.2 1928.9 178.8 1931.4C180.4 1934.0 182.6 1938.6 184.4 1941.3C186.3 1943.9 188.2 1946.1 190.0 1947.3C191.9 1948.6 193.6 1948.9 195.7 1948.7C197.8 1948.5 200.6 1947.6 202.7 1946.2C204.8 1944.8 206.4 1942.7 208.3 1940.6C210.2 1938.5 212.2 1935.4 213.9 1933.6C215.7 1931.7 217.4 1930.0 218.8 1929.3C220.2 1928.6 221.1 1928.8 222.3 1929.3C223.6 1929.9 224.9 1931.3 226.6 1932.9C228.2 1934.4 230.1 1936.9 232.2 1938.5C234.3 1940.1 236.9 1941.4 239.2 1942.4C241.5 1943.4 243.9 1944.0 246.2 1944.4C248.6 1944.8 251.1 1944.8 253.2 1944.8C255.3 1944.8 256.7 1944.7 258.9 1944.4C261.0 1944.0 264.0 1942.5 265.9 1942.7C267.7 1942.9 268.6 1944.0 270.1 1945.5C271.6 1947.0 273.4 1949.8 275.0 1951.8C276.6 1953.9 278.3 1956.3 279.9 1957.9C281.6 1959.4 283.2 1960.4 284.8 1960.9C286.5 1961.5 288.1 1961.6 289.8 1961.4C291.4 1961.1 293.0 1960.2 294.7 1959.3C296.3 1958.3 297.9 1956.6 299.6 1955.7C301.2 1954.9 302.6 1954.4 304.5 1954.3C306.4 1954.3 308.6 1954.9 310.8 1955.3C313.0 1955.8 315.5 1956.5 317.8 1957.0C320.2 1957.5 322.5 1958.0 324.9 1958.1C327.2 1958.2 329.5 1957.7 331.9 1957.6C334.3 1957.4 338.0 1957.3 339.2 1957.3" stroke="#e0427c" stroke-width="2.1" fill="none" stroke-linecap="round" stroke-linejoin="round"/>
<path d="M123.6 2044.1C124.9 2043.6 128.4 2042.5 131.1 2041.3C133.7 2040.0 136.9 2038.4 139.5 2036.5C142.1 2034.6 144.2 2032.6 146.5 2029.8C148.9 2026.9 151.4 2023.1 153.5 2019.2C155.6 2015.4 157.4 2010.5 159.2 2006.6C160.9 2002.7 162.7 1998.4 164.1 1996.1C165.5 1993.7 166.4 1992.8 167.6 1992.6C168.7 1992.3 169.8 1992.6 171.1 1994.7C172.4 1996.8 173.9 2001.7 175.3 2005.2C176.7 2008.7 178.0 2013.1 179.5 2015.7C181.0 2018.4 182.8 2020.0 184.4 2021.1C186.1 2022.1 187.7 2022.2 189.3 2022.0C191.0 2021.9 192.5 2021.3 194.3 2019.9C196.0 2018.5 198.0 2016.1 199.9 2013.6C201.7 2011.2 203.9 2007.4 205.5 2005.2C207.1 2003.0 208.4 2001.4 209.7 2000.6C211.0 1999.7 211.9 1999.6 213.2 2000.0C214.5 2000.4 215.9 2001.8 217.4 2003.1C219.0 2004.4 220.4 2006.5 222.3 2008.0C224.3 2009.5 226.8 2011.1 229.4 2012.2C231.9 2013.3 235.0 2014.2 237.8 2014.7C240.6 2015.3 243.6 2015.6 246.2 2015.7C248.8 2015.9 250.9 2016.0 253.2 2015.7C255.6 2015.4 258.2 2014.7 260.3 2014.0C262.4 2013.4 264.4 2012.1 265.9 2011.8C267.4 2011.5 268.1 2011.3 269.4 2012.2C270.7 2013.1 272.1 2015.1 273.6 2017.1C275.1 2019.1 276.9 2022.3 278.5 2024.2C280.2 2026.0 281.7 2027.5 283.4 2028.4C285.2 2029.3 287.3 2029.5 289.0 2029.5C290.8 2029.4 292.3 2028.8 294.0 2028.1C295.6 2027.4 297.2 2025.9 298.9 2025.3C300.5 2024.7 301.8 2024.4 303.8 2024.4C305.8 2024.4 308.5 2025.0 310.8 2025.3C313.2 2025.6 315.7 2026.2 317.8 2026.3C319.9 2026.4 321.6 2026.1 323.5 2025.8C325.3 2025.6 326.4 2024.8 329.1 2024.6C331.7 2024.3 337.5 2024.5 339.2 2024.4" stroke="#d9337c" stroke-width="2.1" fill="none" stroke-linecap="round" stroke-linejoin="round"/>
<path d="M123.6 2111.2C124.9 2110.7 128.7 2109.4 131.1 2108.1C133.5 2106.8 135.9 2105.6 138.1 2103.5C140.3 2101.4 142.4 2099.0 144.4 2095.8C146.4 2092.5 148.4 2088.0 150.0 2083.8C151.7 2079.6 152.9 2074.1 154.2 2070.5C155.5 2066.9 156.8 2063.8 157.7 2062.1C158.7 2060.3 159.0 2059.8 159.9 2060.0C160.7 2060.1 161.6 2060.3 162.7 2062.8C163.7 2065.2 164.9 2070.6 166.2 2074.7C167.5 2078.8 169.0 2084.1 170.4 2087.3C171.8 2090.6 173.2 2092.9 174.6 2094.4C176.0 2095.8 177.4 2096.1 178.8 2096.2C180.2 2096.3 181.6 2096.1 183.0 2095.1C184.4 2094.1 185.8 2092.4 187.2 2090.2C188.6 2087.9 190.0 2084.3 191.4 2081.7C192.9 2079.2 194.4 2076.4 195.7 2075.0C196.9 2073.6 197.7 2073.2 198.8 2073.3C199.8 2073.4 200.9 2074.2 202.0 2075.4C203.1 2076.6 204.2 2078.9 205.5 2080.3C206.8 2081.7 207.8 2083.1 209.7 2083.8C211.6 2084.6 214.2 2084.6 216.7 2085.0C219.3 2085.3 222.3 2085.7 225.2 2085.9C228.0 2086.2 230.8 2086.3 233.6 2086.4C236.4 2086.4 239.2 2086.3 242.0 2086.2C244.8 2086.1 248.1 2086.4 250.4 2085.7C252.8 2084.9 254.3 2082.7 256.0 2081.7C257.8 2080.7 259.4 2079.4 261.0 2079.6C262.5 2079.8 263.5 2081.2 265.2 2082.9C266.8 2084.5 268.8 2087.4 270.8 2089.5C272.8 2091.5 275.0 2093.7 277.1 2095.1C279.2 2096.5 281.4 2097.3 283.4 2097.9C285.4 2098.5 287.3 2098.6 289.0 2098.6C290.8 2098.5 292.2 2098.0 294.0 2097.5C295.7 2096.9 297.5 2095.9 299.6 2095.1C301.7 2094.3 304.4 2093.4 306.6 2092.7C308.8 2092.0 311.0 2091.0 312.9 2090.9C314.8 2090.7 316.1 2091.7 317.8 2091.8C319.6 2092.0 321.6 2092.1 323.5 2092.0C325.3 2091.8 326.4 2091.2 329.1 2091.0C331.7 2090.8 337.5 2090.9 339.2 2090.9" stroke="#d52c80" stroke-width="2.1" fill="none" stroke-linecap="round" stroke-linejoin="round"/>
<path d="M123.6 2202.0C124.3 2201.4 126.2 2199.6 127.6 2198.5C128.9 2197.4 130.6 2196.8 131.8 2195.4C132.9 2194.0 133.6 2192.6 134.6 2190.0C135.5 2187.5 136.4 2184.2 137.4 2180.2C138.3 2176.2 139.3 2170.4 140.2 2166.2C141.1 2162.0 142.1 2157.3 143.0 2154.9C143.9 2152.6 144.6 2151.8 145.4 2151.8C146.2 2151.8 147.0 2152.6 147.9 2154.9C148.8 2157.3 149.8 2162.0 150.7 2166.2C151.7 2170.4 152.6 2176.1 153.5 2180.2C154.5 2184.3 155.4 2188.3 156.3 2190.7C157.3 2193.2 158.2 2194.6 159.2 2195.0C160.1 2195.3 160.9 2194.4 162.0 2192.9C163.0 2191.3 164.3 2187.7 165.5 2185.8C166.6 2184.0 167.9 2182.2 169.0 2181.6C170.0 2181.0 170.7 2181.5 171.8 2182.3C172.8 2183.1 174.0 2185.4 175.3 2186.5C176.6 2187.7 178.0 2188.7 179.5 2189.1C181.0 2189.4 182.7 2189.2 184.4 2188.6C186.2 2188.1 188.2 2186.9 190.0 2185.8C191.9 2184.8 193.8 2183.0 195.7 2182.3C197.5 2181.6 199.6 2182.2 201.3 2181.6C202.9 2181.0 204.3 2179.3 205.5 2178.8C206.7 2178.3 207.4 2177.9 208.3 2178.4C209.2 2178.9 210.1 2179.7 211.1 2181.6C212.2 2183.6 213.6 2187.8 214.6 2190.0C215.7 2192.3 216.5 2194.3 217.4 2195.0C218.4 2195.7 219.2 2195.5 220.2 2194.3C221.3 2193.0 222.6 2189.2 223.7 2187.2C224.9 2185.2 225.6 2183.3 227.3 2182.3C228.9 2181.3 231.4 2181.8 233.6 2181.3C235.8 2180.9 238.3 2180.0 240.6 2179.8C242.9 2179.6 245.4 2180.2 247.6 2180.2C249.8 2180.2 251.8 2179.7 253.9 2179.9C256.0 2180.2 258.4 2181.1 260.3 2181.6C262.1 2182.1 263.1 2183.1 265.2 2183.0C267.3 2183.0 270.8 2181.2 272.9 2181.3C275.0 2181.5 276.1 2182.7 277.8 2183.7C279.6 2184.7 281.7 2186.4 283.4 2187.2C285.2 2188.1 286.6 2188.9 288.3 2188.9C290.1 2188.9 291.9 2188.2 294.0 2187.2C296.1 2186.3 298.6 2184.4 301.0 2183.3C303.3 2182.3 305.9 2181.3 308.0 2180.9C310.1 2180.5 311.3 2180.6 313.6 2180.9C316.0 2181.3 319.5 2182.8 322.0 2183.0C324.6 2183.2 327.0 2182.3 329.1 2182.0C331.2 2181.8 333.0 2181.6 334.7 2181.6C336.4 2181.6 338.4 2182.0 339.2 2182.0" stroke="#d22a82" stroke-width="2.1" fill="none" stroke-linecap="round" stroke-linejoin="round"/>
<line x1="263.3" y1="1552" x2="263.3" y2="1568.3" stroke="#111" stroke-width="1.9"/>
<path d="M263.3 1576.3 L257.5 1562.8 L263.3 1565.8 L269.1 1562.8 Z" fill="#111"/>
<line x1="192.4" y1="1641.2" x2="192.4" y2="1657.5" stroke="#111" stroke-width="1.9"/>
<path d="M192.4 1665.5 L186.6 1652 L192.4 1655 L198.2 1652 Z" fill="#111"/>
<line x1="144.7" y1="2124" x2="144.7" y2="2139.8" stroke="#111" stroke-width="1.9"/>
<path d="M144.7 2147.8 L138.9 2134.3 L144.7 2137.3 L150.5 2134.3 Z" fill="#111"/>
<line x1="101.2" y1="2224.6" x2="343.8" y2="2224.6" stroke="#666" stroke-width="2.4"/>
<line x1="102.4" y1="2224.6" x2="102.4" y2="2232.6" stroke="#666" stroke-width="2.2"/>
<text x="102.4" y="2260.7" font-size="28.5" fill="#444" text-anchor="middle">0.5</text>
<line x1="117.54" y1="2224.6" x2="117.54" y2="2229.4" stroke="#666" stroke-width="1.8"/>
<line x1="132.68" y1="2224.6" x2="132.68" y2="2229.4" stroke="#666" stroke-width="1.8"/>
<line x1="147.82" y1="2224.6" x2="147.82" y2="2229.4" stroke="#666" stroke-width="1.8"/>
<line x1="162.96" y1="2224.6" x2="162.96" y2="2229.4" stroke="#666" stroke-width="1.8"/>
<line x1="178.1" y1="2224.6" x2="178.1" y2="2232.6" stroke="#666" stroke-width="2.2"/>
<text x="178.1" y="2260.7" font-size="28.5" fill="#444" text-anchor="middle">1</text>
<line x1="193.24" y1="2224.6" x2="193.24" y2="2229.4" stroke="#666" stroke-width="1.8"/>
<line x1="208.38" y1="2224.6" x2="208.38" y2="2229.4" stroke="#666" stroke-width="1.8"/>
<line x1="223.52" y1="2224.6" x2="223.52" y2="2229.4" stroke="#666" stroke-width="1.8"/>
<line x1="238.66" y1="2224.6" x2="238.66" y2="2229.4" stroke="#666" stroke-width="1.8"/>
<line x1="253.8" y1="2224.6" x2="253.8" y2="2232.6" stroke="#666" stroke-width="2.2"/>
<text x="253.8" y="2260.7" font-size="28.5" fill="#444" text-anchor="middle">1.5</text>
<line x1="268.94" y1="2224.6" x2="268.94" y2="2229.4" stroke="#666" stroke-width="1.8"/>
<line x1="284.08" y1="2224.6" x2="284.08" y2="2229.4" stroke="#666" stroke-width="1.8"/>
<line x1="299.22" y1="2224.6" x2="299.22" y2="2229.4" stroke="#666" stroke-width="1.8"/>
<line x1="314.36" y1="2224.6" x2="314.36" y2="2229.4" stroke="#666" stroke-width="1.8"/>
<line x1="329.5" y1="2224.6" x2="329.5" y2="2232.6" stroke="#666" stroke-width="2.2"/>
<text x="329.5" y="2260.7" font-size="28.5" fill="#444" text-anchor="middle">2</text>
<text x="92.5" y="1690.8" font-size="28.5" fill="#444" text-anchor="middle">Inf.</text>
<text x="92.5" y="1791.8" font-size="28.5" fill="#444" text-anchor="middle">100</text>
<text x="92.5" y="1857" font-size="28.5" fill="#444" text-anchor="middle">30</text>
<text x="92.5" y="1922.7" font-size="28.5" fill="#444" text-anchor="middle">20</text>
<text x="92.5" y="1988.4" font-size="28.5" fill="#444" text-anchor="middle">15</text>
<text x="92.5" y="2054.1" font-size="28.5" fill="#444" text-anchor="middle">10</text>
<text x="92.5" y="2118.8" font-size="28.5" fill="#444" text-anchor="middle">5</text>
<text x="92.5" y="2206.4" font-size="28.5" fill="#444" text-anchor="middle">0</text>
<text x="56.3" y="1973.5" font-size="28.5" fill="#111" text-anchor="middle" transform="rotate(-90 56.3 1973.5)">Gap distance, g (nm)</text>
<text x="226.5" y="2293" font-size="28.5" fill="#111" text-anchor="middle">Energy (eV)</text>
<polygon points="416.3,1597.7 445.3,1608.4 415.3,1621.7 389.6,1611.0" fill="url(#gcubeT)" stroke="#9a9a9a" stroke-width="1.3" stroke-linejoin="round"/>
<polygon points="389.6,1611.0 415.3,1621.7 419.6,1647.4 391.9,1636.7" fill="url(#gcubeL)" stroke="#9a9a9a" stroke-width="1.3" stroke-linejoin="round"/>
<polygon points="415.3,1621.7 445.3,1608.4 445.3,1631.7 419.6,1647.4" fill="url(#gcubeR)" stroke="#9a9a9a" stroke-width="1.3" stroke-linejoin="round"/>
<polygon points="416.3,1667.4 445.3,1676.8 417.0,1692.4 389.6,1680.8" fill="url(#ggoldT)" stroke="#a8ac20" stroke-width="1.3" stroke-linejoin="round"/>
<polygon points="389.6,1680.8 417.0,1692.4 421.0,1716.8 391.9,1706.8" fill="url(#ggoldL)" stroke="#a8ac20" stroke-width="1.3" stroke-linejoin="round"/>
<polygon points="417.0,1692.4 445.3,1676.8 445.3,1700.8 421.0,1716.8" fill="url(#ggoldR)" stroke="#a8ac20" stroke-width="1.3" stroke-linejoin="round"/>
<path d="M453.6 1637.5 L453.6 1679.3 M449.6 1644 L453.6 1637.5 L457.6 1644 M449.6 1672.8 L453.6 1679.3 L457.6 1672.8" stroke="#222" stroke-width="1.4" fill="none" stroke-linejoin="round" stroke-linecap="round"/>
<text x="459.5" y="1622.7" font-size="28.5" fill="#111">III-V</text>
<text x="465.5" y="1661.8" font-size="28.5" fill="#111">g</text>
<text x="456.3" y="1712.8" font-size="28.5" fill="#111">Gold</text>
<text x="596.5" y="1569" font-size="37" fill="#111" font-weight="bold">g</text>
<line x1="738.1" y1="1569" x2="738.1" y2="2223.2" stroke="#cdcdd4" stroke-width="1.25" stroke-dasharray="4 4.5"/>
<line x1="813.4" y1="1569" x2="813.4" y2="2223.2" stroke="#cdcdd4" stroke-width="1.25" stroke-dasharray="4 4.5"/>
<line x1="888.3" y1="1569" x2="888.3" y2="2223.2" stroke="#cdcdd4" stroke-width="1.25" stroke-dasharray="4 4.5"/>
<path d="M678.7 1627.0C680.8 1626.8 686.9 1626.4 691.1 1626.0C695.2 1625.6 699.5 1625.2 703.7 1624.6C707.9 1623.9 712.4 1623.0 716.3 1622.1C720.3 1621.2 723.8 1620.2 727.6 1619.3C731.3 1618.3 735.1 1617.4 738.8 1616.2C742.6 1615.0 746.3 1613.5 750.0 1612.0C753.8 1610.4 757.3 1608.7 761.3 1607.0C765.3 1605.3 770.2 1603.2 773.9 1601.7C777.7 1600.2 780.5 1599.2 783.7 1597.9C787.0 1596.6 791.0 1595.2 793.6 1593.7C796.2 1592.2 797.3 1590.9 799.2 1589.1C801.1 1587.2 802.9 1584.8 804.8 1582.7C806.7 1580.7 808.8 1578.2 810.4 1576.8C812.1 1575.5 813.2 1574.8 814.6 1574.7C816.0 1574.7 817.3 1575.0 818.9 1576.4C820.4 1577.9 821.9 1580.5 823.8 1583.4C825.6 1586.4 828.1 1591.2 830.1 1594.0C832.1 1596.7 833.6 1598.3 835.7 1599.9C837.8 1601.5 840.2 1602.4 842.7 1603.5C845.3 1604.7 848.3 1605.6 851.2 1606.6C854.0 1607.6 857.0 1608.9 859.6 1609.7C862.2 1610.6 864.6 1611.5 866.6 1611.7C868.6 1611.9 870.1 1611.7 871.5 1610.8C873.0 1610.0 874.1 1608.7 875.3 1606.6C876.5 1604.5 877.5 1601.2 878.5 1598.2C879.5 1595.2 880.4 1591.5 881.3 1588.4C882.3 1585.2 883.0 1581.5 884.2 1579.2C885.3 1576.9 887.1 1574.3 888.4 1574.6C889.7 1575.0 890.5 1579.2 891.9 1581.3C893.2 1583.4 895.6 1586.3 896.4 1587.2" stroke="#7b7b7b" stroke-width="2.1" fill="none" stroke-linecap="round" stroke-linejoin="round"/>
<path d="M681.2 1648.5C681.9 1649.7 683.8 1653.3 685.4 1655.8C687.1 1658.3 689.0 1661.2 691.1 1663.5C693.2 1665.8 695.5 1668.2 698.1 1669.8C700.7 1671.5 703.7 1672.6 706.5 1673.3C709.3 1674.0 711.7 1674.1 714.9 1674.0C718.2 1673.9 722.4 1673.3 726.2 1672.6C729.9 1672.0 733.7 1671.1 737.4 1670.1C741.2 1669.0 744.9 1667.8 748.6 1666.3C752.4 1664.8 756.1 1662.8 759.9 1661.0C763.6 1659.1 767.6 1656.7 771.1 1655.1C774.6 1653.4 777.9 1652.0 780.9 1651.1C784.0 1650.3 786.6 1650.0 789.4 1650.2C792.2 1650.3 795.0 1650.8 797.8 1651.8C800.6 1652.9 803.4 1654.7 806.2 1656.5C809.0 1658.3 811.8 1660.5 814.6 1662.5C817.5 1664.5 820.0 1666.4 823.1 1668.4C826.1 1670.4 829.6 1672.6 832.9 1674.3C836.2 1676.0 839.5 1677.3 842.7 1678.5C846.0 1679.8 849.3 1680.6 852.6 1681.7C855.8 1682.9 859.1 1684.1 862.4 1685.5C865.7 1687.0 868.9 1688.9 872.2 1690.6C875.5 1692.3 879.0 1694.3 882.0 1695.8C885.1 1697.2 887.9 1698.4 890.5 1699.3C893.0 1700.2 895.4 1700.7 897.5 1701.0C899.6 1701.3 902.2 1701.1 903.1 1701.1" stroke="#c9d232" stroke-width="2.1" fill="none" stroke-linecap="round" stroke-linejoin="round"/>
<path d="M681.5 1782.7C683.3 1782.6 688.8 1782.7 692.5 1782.5C696.2 1782.3 700.0 1782.0 703.7 1781.5C707.4 1781.0 711.4 1780.2 714.9 1779.4C718.4 1778.6 721.7 1777.8 724.8 1776.6C727.8 1775.4 730.6 1773.8 733.2 1772.1C735.8 1770.5 737.9 1769.2 740.2 1766.8C742.6 1764.4 744.9 1761.1 747.2 1757.7C749.6 1754.3 751.9 1750.1 754.3 1746.4C756.6 1742.8 758.9 1738.7 761.3 1735.9C763.6 1733.1 766.1 1731.1 768.3 1729.6C770.5 1728.0 772.5 1726.8 774.6 1726.5C776.7 1726.1 779.0 1727.4 780.9 1727.5C782.9 1727.6 784.7 1727.0 786.6 1727.2C788.4 1727.4 790.5 1728.4 792.2 1728.9C793.8 1729.3 795.0 1729.9 796.4 1730.0C797.8 1730.1 799.0 1729.4 800.6 1729.6C802.2 1729.7 804.1 1730.4 806.2 1731.0C808.3 1731.5 811.4 1731.9 813.2 1732.8C815.1 1733.7 815.8 1734.2 817.5 1736.6C819.1 1739.0 821.2 1743.5 823.1 1747.1C824.9 1750.8 826.9 1755.4 828.7 1758.4C830.4 1761.3 832.1 1763.5 833.6 1764.7C835.1 1765.9 836.1 1766.0 837.8 1765.7C839.6 1765.3 841.9 1763.3 844.1 1762.6C846.4 1761.8 848.8 1761.2 851.2 1761.2C853.5 1761.2 855.8 1761.9 858.2 1762.6C860.5 1763.3 863.1 1764.7 865.2 1765.4C867.3 1766.1 869.3 1766.7 870.8 1766.8C872.3 1766.9 873.0 1767.5 874.3 1766.1C875.6 1764.7 877.1 1760.9 878.5 1758.4C880.0 1755.9 881.5 1751.4 883.0 1751.1C884.6 1750.7 886.2 1753.8 887.7 1756.3C889.1 1758.8 890.5 1763.6 891.9 1766.1C893.3 1768.5 894.8 1770.1 896.1 1771.0C897.4 1771.9 899.0 1771.2 899.6 1771.3" stroke="#ee9262" stroke-width="2.1" fill="none" stroke-linecap="round" stroke-linejoin="round"/>
<path d="M681.5 1851.7C683.6 1851.7 689.7 1851.7 693.9 1851.6C698.0 1851.5 702.5 1851.4 706.5 1851.0C710.5 1850.7 714.5 1850.3 717.7 1849.6C721.0 1849.0 723.6 1848.2 726.2 1847.1C728.7 1846.1 730.9 1845.0 733.2 1843.3C735.5 1841.6 737.9 1839.9 740.2 1837.0C742.6 1834.1 744.9 1830.0 747.2 1825.8C749.6 1821.6 752.2 1815.7 754.3 1811.7C756.4 1807.7 758.1 1804.4 759.9 1801.9C761.6 1799.4 763.3 1797.6 764.8 1796.6C766.3 1795.5 767.2 1795.4 769.0 1795.6C770.8 1795.8 773.1 1797.0 775.3 1797.7C777.5 1798.4 779.8 1799.1 782.3 1799.8C784.9 1800.5 788.0 1801.1 790.8 1801.9C793.6 1802.7 796.4 1803.9 799.2 1804.7C802.0 1805.5 805.0 1806.3 807.6 1806.8C810.2 1807.3 812.4 1807.5 814.6 1807.9C816.9 1808.4 819.1 1808.5 821.0 1809.6C822.8 1810.7 824.1 1811.8 825.9 1814.5C827.6 1817.2 829.7 1822.5 831.5 1825.8C833.2 1829.0 834.8 1832.1 836.4 1834.2C838.0 1836.3 839.6 1837.5 841.3 1838.4C843.1 1839.3 845.2 1839.9 846.9 1839.5C848.7 1839.2 850.3 1838.1 851.9 1836.3C853.4 1834.5 854.7 1831.3 856.1 1828.6C857.5 1825.9 859.0 1822.1 860.3 1820.2C861.5 1818.2 862.5 1817.3 863.5 1817.1C864.6 1816.8 865.4 1817.3 866.6 1818.5C867.8 1819.7 869.5 1822.8 870.8 1824.4C872.1 1825.9 873.0 1827.4 874.3 1827.9C875.6 1828.4 877.1 1827.7 878.5 1827.5C879.9 1827.2 881.2 1826.4 882.8 1826.6C884.3 1826.8 885.9 1828.1 887.7 1828.6C889.4 1829.1 891.3 1829.4 893.3 1829.7C895.3 1830.0 898.5 1830.2 899.6 1830.3" stroke="#ec7470" stroke-width="2.1" fill="none" stroke-linecap="round" stroke-linejoin="round"/>
<path d="M681.5 1920.2C683.6 1920.2 689.7 1920.1 693.9 1919.9C698.0 1919.8 702.5 1919.6 706.5 1919.2C710.5 1918.9 714.5 1918.3 717.7 1917.7C721.0 1917.0 723.6 1916.3 726.2 1915.3C728.7 1914.3 731.0 1913.1 733.2 1911.5C735.4 1909.9 737.5 1908.1 739.5 1905.5C741.5 1902.8 743.4 1899.3 745.1 1895.6C746.9 1892.0 748.5 1887.4 750.0 1883.7C751.6 1880.0 753.0 1876.1 754.3 1873.2C755.5 1870.2 756.5 1867.7 757.8 1866.1C759.1 1864.6 760.6 1863.8 762.0 1863.6C763.4 1863.5 764.7 1864.4 766.2 1865.2C767.7 1865.9 769.2 1867.2 771.1 1868.0C773.0 1868.8 775.3 1869.6 777.4 1870.1C779.5 1870.6 781.5 1870.4 783.7 1871.1C786.0 1871.7 788.4 1873.0 790.8 1874.2C793.1 1875.3 795.5 1876.8 797.8 1877.8C800.1 1878.8 802.5 1879.7 804.8 1880.2C807.2 1880.7 809.5 1880.7 811.8 1880.6C814.2 1880.5 816.7 1879.8 818.9 1879.8C821.0 1879.7 822.8 1879.5 824.5 1880.2C826.1 1880.8 827.3 1881.7 828.7 1883.7C830.1 1885.7 831.5 1889.2 832.9 1892.1C834.3 1895.1 835.7 1898.9 837.1 1901.3C838.5 1903.6 839.8 1905.3 841.3 1906.5C842.8 1907.6 844.6 1907.9 846.2 1908.3C847.9 1908.7 849.6 1909.4 851.2 1909.0C852.7 1908.5 854.1 1907.6 855.4 1905.5C856.7 1903.4 857.8 1899.3 858.9 1896.3C859.9 1893.4 860.8 1889.8 861.7 1887.9C862.6 1886.0 863.2 1885.3 864.1 1884.8C864.9 1884.3 865.9 1883.7 866.9 1884.8C867.9 1885.9 868.9 1888.9 870.1 1891.4C871.4 1893.9 872.9 1898.1 874.3 1899.9C875.7 1901.6 877.1 1902.1 878.5 1902.0C879.9 1901.8 881.2 1900.0 882.8 1899.2C884.3 1898.3 885.9 1896.9 887.7 1896.6C889.4 1896.4 891.3 1897.4 893.3 1897.7C895.3 1898.1 898.5 1898.6 899.6 1898.7" stroke="#e85a7c" stroke-width="2.1" fill="none" stroke-linecap="round" stroke-linejoin="round"/>
<path d="M681.5 1984.8C683.6 1984.8 689.7 1984.7 693.9 1984.5C698.0 1984.3 702.5 1984.1 706.5 1983.7C710.5 1983.3 714.5 1982.8 717.7 1982.0C721.0 1981.3 723.6 1980.5 726.2 1979.2C728.7 1977.9 731.1 1976.3 733.2 1974.3C735.3 1972.3 737.1 1970.3 738.8 1967.3C740.6 1964.2 742.2 1959.9 743.7 1956.0C745.2 1952.2 746.5 1947.7 747.9 1944.1C749.3 1940.5 750.9 1936.7 752.2 1934.3C753.4 1931.8 754.6 1930.3 755.7 1929.3C756.7 1928.4 757.4 1928.3 758.5 1928.6C759.5 1928.9 760.6 1930.2 762.0 1931.2C763.4 1932.2 764.9 1933.8 766.9 1934.7C768.9 1935.5 771.6 1935.8 773.9 1936.4C776.3 1936.9 778.8 1937.1 780.9 1937.8C783.0 1938.5 784.5 1939.3 786.6 1940.6C788.7 1941.9 791.2 1944.1 793.6 1945.5C795.9 1946.9 798.3 1948.2 800.6 1949.0C802.9 1949.8 805.3 1950.2 807.6 1950.1C810.0 1950.1 812.4 1949.4 814.6 1948.7C816.9 1948.1 819.2 1946.7 821.0 1946.2C822.7 1945.7 823.8 1945.3 825.2 1945.8C826.6 1946.2 828.0 1947.1 829.4 1949.0C830.8 1950.9 832.2 1954.5 833.6 1957.4C835.0 1960.4 836.4 1964.1 837.8 1966.6C839.2 1969.0 840.5 1970.7 842.0 1971.9C843.5 1973.1 845.3 1973.1 846.9 1973.6C848.6 1974.0 850.3 1975.0 851.9 1974.6C853.4 1974.1 854.8 1973.0 856.1 1970.8C857.3 1968.5 858.3 1964.0 859.3 1960.9C860.3 1957.9 861.2 1954.3 862.1 1952.5C863.0 1950.8 863.7 1950.7 864.5 1950.4C865.3 1950.1 865.9 1949.5 866.9 1950.8C867.8 1952.1 868.9 1955.2 870.1 1958.1C871.4 1961.1 872.9 1966.7 874.3 1968.7C875.7 1970.7 877.1 1970.5 878.5 1970.1C879.9 1969.6 881.2 1967.1 882.8 1965.9C884.3 1964.6 885.9 1963.0 887.7 1962.3C889.4 1961.7 891.3 1962.0 893.3 1962.1C895.3 1962.1 898.5 1962.5 899.6 1962.6" stroke="#e0427c" stroke-width="2.1" fill="none" stroke-linecap="round" stroke-linejoin="round"/>
<path d="M681.5 2045.2C683.6 2045.2 689.9 2045.1 693.9 2044.9C697.8 2044.8 701.6 2044.6 705.1 2044.2C708.6 2043.9 711.9 2043.4 714.9 2042.7C718.0 2042.0 720.9 2041.2 723.4 2039.9C725.8 2038.5 727.8 2036.8 729.7 2034.7C731.6 2032.5 733.1 2030.1 734.6 2027.0C736.1 2023.8 737.5 2019.6 738.8 2015.7C740.1 2011.9 741.2 2007.4 742.3 2003.8C743.5 2000.2 744.7 1996.3 745.8 1994.0C746.9 1991.6 747.9 1990.4 748.9 1989.5C750.0 1988.6 751.0 1988.3 752.2 1988.6C753.3 1989.0 754.4 1990.2 755.7 1991.6C756.9 1992.9 758.5 1995.5 759.9 1996.8C761.3 1998.0 762.4 1998.7 764.1 1998.9C765.7 1999.1 767.9 1997.7 769.7 1997.9C771.5 1998.1 772.7 1998.7 774.6 2000.0C776.5 2001.3 778.7 2003.9 780.9 2005.9C783.2 2007.9 785.6 2010.2 788.0 2011.8C790.3 2013.4 792.6 2014.5 795.0 2015.3C797.3 2016.1 799.8 2016.8 802.0 2016.8C804.2 2016.9 806.2 2016.4 808.3 2015.7C810.4 2015.1 812.7 2014.1 814.6 2012.9C816.6 2011.7 818.6 2009.6 820.3 2008.4C821.9 2007.3 823.2 2006.3 824.5 2005.9C825.8 2005.5 826.8 2005.6 828.0 2006.2C829.2 2006.8 830.3 2007.6 831.5 2009.4C832.7 2011.2 833.8 2014.4 835.0 2017.1C836.2 2019.8 837.3 2023.2 838.5 2025.6C839.7 2027.9 840.6 2030.0 842.0 2031.5C843.4 2032.9 845.3 2033.5 846.9 2034.3C848.6 2035.0 850.4 2036.1 851.9 2036.1C853.3 2036.0 854.5 2036.0 855.6 2034.0C856.8 2032.0 857.9 2027.0 858.9 2024.2C859.9 2021.3 860.8 2018.3 861.7 2016.8C862.6 2015.4 863.6 2015.7 864.5 2015.7C865.4 2015.7 865.9 2015.3 866.9 2016.8C867.8 2018.4 868.9 2022.3 870.1 2024.9C871.4 2027.4 872.9 2030.7 874.3 2031.9C875.7 2033.1 877.0 2032.5 878.5 2032.2C880.1 2031.8 881.8 2031.1 883.5 2029.8C885.1 2028.4 886.8 2025.6 888.4 2024.2C889.9 2022.7 891.3 2021.6 892.6 2021.1C893.9 2020.5 894.9 2021.2 896.1 2021.1C897.3 2020.9 899.0 2020.1 899.6 2019.9" stroke="#d9337c" stroke-width="2.1" fill="none" stroke-linecap="round" stroke-linejoin="round"/>
<path d="M681.5 2114.0C683.3 2114.0 689.0 2113.9 692.5 2113.7C695.9 2113.6 699.0 2113.4 702.3 2112.9C705.6 2112.4 709.3 2111.9 712.1 2110.9C714.9 2110.0 717.0 2108.9 719.2 2107.3C721.3 2105.7 723.1 2103.8 724.8 2101.4C726.4 2099.0 727.7 2096.2 729.0 2093.0C730.3 2089.7 731.4 2085.5 732.5 2081.7C733.6 2078.0 734.7 2073.9 735.7 2070.5C736.8 2067.1 737.8 2063.5 738.8 2061.4C739.8 2059.2 740.7 2057.9 741.6 2057.4C742.5 2057.0 743.2 2057.3 744.1 2058.6C745.1 2059.8 746.1 2062.9 747.2 2064.9C748.3 2066.9 749.6 2069.5 750.7 2070.5C751.9 2071.5 753.1 2071.2 754.3 2070.9C755.4 2070.6 756.6 2069.3 757.8 2068.8C758.9 2068.3 760.1 2067.8 761.3 2068.1C762.4 2068.4 763.5 2069.0 764.8 2070.5C766.1 2071.9 767.5 2074.6 769.0 2076.8C770.5 2079.0 772.2 2081.8 773.9 2083.8C775.7 2085.8 777.4 2087.2 779.5 2088.7C781.6 2090.3 784.2 2092.0 786.6 2093.0C788.9 2093.9 791.2 2094.3 793.6 2094.6C795.9 2095.0 798.5 2095.3 800.6 2094.8C802.7 2094.3 804.1 2093.0 806.2 2091.6C808.3 2090.1 811.2 2088.3 813.2 2085.9C815.2 2083.6 816.6 2080.1 818.2 2077.5C819.7 2074.9 821.1 2072.0 822.4 2070.5C823.7 2069.0 824.7 2068.5 825.9 2068.4C827.0 2068.3 828.2 2068.7 829.4 2069.8C830.6 2070.8 831.6 2072.0 832.9 2074.7C834.2 2077.4 835.7 2082.2 837.1 2085.9C838.5 2089.7 839.9 2094.5 841.3 2097.2C842.7 2099.9 843.8 2100.7 845.5 2102.1C847.3 2103.4 850.2 2105.3 851.9 2105.3C853.5 2105.3 854.1 2103.9 855.4 2102.1C856.7 2100.3 858.4 2095.8 859.6 2094.4C860.8 2092.9 861.6 2092.5 862.7 2093.2C863.7 2093.9 864.5 2096.6 865.9 2098.6C867.3 2100.5 869.1 2104.1 870.8 2104.9C872.6 2105.7 874.4 2104.0 876.4 2103.5C878.4 2103.0 880.9 2103.8 882.8 2102.1C884.6 2100.3 886.1 2095.9 887.7 2093.0C889.2 2090.0 890.5 2086.2 891.9 2084.5C893.3 2082.9 894.8 2083.4 896.1 2082.9C897.4 2082.3 899.0 2081.3 899.6 2081.0" stroke="#d52c80" stroke-width="2.1" fill="none" stroke-linecap="round" stroke-linejoin="round"/>
<path d="M681.2 2211.8C683.1 2211.8 688.7 2211.8 692.5 2211.7C696.2 2211.6 700.2 2211.3 703.7 2211.1C707.2 2210.9 711.0 2210.8 713.5 2210.4C716.1 2210.0 717.4 2209.1 719.2 2208.6C720.9 2208.0 722.7 2207.9 724.1 2207.2C725.5 2206.5 726.5 2206.1 727.6 2204.4C728.6 2202.7 729.4 2200.4 730.4 2197.1C731.3 2193.7 732.3 2188.9 733.2 2184.4C734.1 2180.0 735.1 2174.6 736.0 2170.4C736.9 2166.2 737.7 2161.8 738.5 2159.2C739.3 2156.5 740.1 2155.0 740.9 2154.7C741.7 2154.3 742.5 2155.1 743.3 2157.0C744.1 2159.0 744.9 2162.3 745.8 2166.2C746.7 2170.0 747.7 2176.0 748.6 2180.2C749.6 2184.4 750.5 2188.7 751.4 2191.4C752.4 2194.2 753.1 2195.4 754.3 2196.8C755.4 2198.1 756.8 2198.4 758.5 2199.6C760.1 2200.8 762.2 2202.8 764.1 2203.8C766.0 2204.8 767.6 2205.2 769.7 2205.8C771.8 2206.3 773.9 2206.8 776.7 2207.2C779.5 2207.5 783.3 2207.6 786.6 2207.9C789.8 2208.1 792.9 2208.4 796.4 2208.6C799.9 2208.7 804.1 2208.8 807.6 2208.7C811.1 2208.7 814.5 2208.6 817.5 2208.3C820.4 2208.0 823.2 2207.6 825.2 2207.2C827.2 2206.7 828.1 2206.6 829.4 2205.5C830.7 2204.4 831.7 2202.6 832.9 2200.6C834.1 2198.6 835.4 2195.4 836.4 2193.6C837.5 2191.8 838.3 2190.5 839.2 2189.8C840.2 2189.0 841.1 2188.6 842.0 2188.9C843.0 2189.2 843.8 2190.1 844.8 2191.4C845.9 2192.8 847.2 2195.5 848.3 2197.1C849.5 2198.7 850.7 2200.1 851.9 2201.0C853.0 2201.9 853.8 2202.1 855.4 2202.3C856.9 2202.4 859.2 2201.9 861.0 2202.0C862.7 2202.1 864.4 2202.1 865.9 2202.7C867.4 2203.3 868.7 2204.4 870.1 2205.5C871.5 2206.5 873.0 2208.3 874.3 2209.0C875.6 2209.8 876.4 2210.1 877.8 2210.0C879.2 2209.9 881.2 2209.0 882.8 2208.6C884.3 2208.2 885.4 2207.7 887.0 2207.6C888.5 2207.5 890.4 2208.0 891.9 2207.9C893.4 2207.7 894.8 2207.2 896.1 2206.6C897.4 2206.0 898.4 2204.8 899.6 2204.1C900.8 2203.4 902.5 2202.7 903.1 2202.4" stroke="#d22a82" stroke-width="2.1" fill="none" stroke-linecap="round" stroke-linejoin="round"/>
<line x1="813.2" y1="1545.5" x2="813.2" y2="1561.2" stroke="#111" stroke-width="1.9"/>
<path d="M813.2 1569.2 L807.4 1555.7 L813.2 1558.7 L819 1555.7 Z" fill="#111"/>
<line x1="741.2" y1="2124" x2="741.2" y2="2139.8" stroke="#111" stroke-width="1.9"/>
<path d="M741.2 2147.8 L735.4 2134.3 L741.2 2137.3 L747 2134.3 Z" fill="#111"/>
<line x1="661.5" y1="2224.2" x2="903.2" y2="2224.2" stroke="#666" stroke-width="2.4"/>
<line x1="662.7" y1="2224.2" x2="662.7" y2="2232.2" stroke="#666" stroke-width="2.2"/>
<text x="662.7" y="2260.7" font-size="28.5" fill="#444" text-anchor="middle">0.5</text>
<line x1="677.74" y1="2224.2" x2="677.74" y2="2229" stroke="#666" stroke-width="1.8"/>
<line x1="692.78" y1="2224.2" x2="692.78" y2="2229" stroke="#666" stroke-width="1.8"/>
<line x1="707.82" y1="2224.2" x2="707.82" y2="2229" stroke="#666" stroke-width="1.8"/>
<line x1="722.86" y1="2224.2" x2="722.86" y2="2229" stroke="#666" stroke-width="1.8"/>
<line x1="737.9" y1="2224.2" x2="737.9" y2="2232.2" stroke="#666" stroke-width="2.2"/>
<text x="737.9" y="2260.7" font-size="28.5" fill="#444" text-anchor="middle">1</text>
<line x1="752.94" y1="2224.2" x2="752.94" y2="2229" stroke="#666" stroke-width="1.8"/>
<line x1="767.98" y1="2224.2" x2="767.98" y2="2229" stroke="#666" stroke-width="1.8"/>
<line x1="783.02" y1="2224.2" x2="783.02" y2="2229" stroke="#666" stroke-width="1.8"/>
<line x1="798.06" y1="2224.2" x2="798.06" y2="2229" stroke="#666" stroke-width="1.8"/>
<line x1="813.1" y1="2224.2" x2="813.1" y2="2232.2" stroke="#666" stroke-width="2.2"/>
<text x="813.1" y="2260.7" font-size="28.5" fill="#444" text-anchor="middle">1.5</text>
<line x1="828.14" y1="2224.2" x2="828.14" y2="2229" stroke="#666" stroke-width="1.8"/>
<line x1="843.18" y1="2224.2" x2="843.18" y2="2229" stroke="#666" stroke-width="1.8"/>
<line x1="858.22" y1="2224.2" x2="858.22" y2="2229" stroke="#666" stroke-width="1.8"/>
<line x1="873.26" y1="2224.2" x2="873.26" y2="2229" stroke="#666" stroke-width="1.8"/>
<line x1="888.3" y1="2224.2" x2="888.3" y2="2232.2" stroke="#666" stroke-width="2.2"/>
<text x="888.3" y="2260.7" font-size="28.5" fill="#444" text-anchor="middle">2</text>
<text x="652.3" y="1691.5" font-size="28.5" fill="#444" text-anchor="middle">Inf.</text>
<text x="652.3" y="1791.5" font-size="28.5" fill="#444" text-anchor="middle">100</text>
<text x="652.3" y="1857.3" font-size="28.5" fill="#444" text-anchor="middle">30</text>
<text x="652.3" y="1922.7" font-size="28.5" fill="#444" text-anchor="middle">20</text>
<text x="652.3" y="1988.2" font-size="28.5" fill="#444" text-anchor="middle">15</text>
<text x="652.3" y="2054" font-size="28.5" fill="#444" text-anchor="middle">10</text>
<text x="652.3" y="2119.2" font-size="28.5" fill="#444" text-anchor="middle">5</text>
<text x="652.3" y="2207" font-size="28.5" fill="#444" text-anchor="middle">0</text>
<text x="617.5" y="1973.7" font-size="28.5" fill="#111" text-anchor="middle" transform="rotate(-90 617.5 1973.7)">Gap distance, g (nm)</text>
<text x="785.5" y="2293.2" font-size="28.5" fill="#111" text-anchor="middle">Energy (eV)</text>
<ellipse cx="1064.7" cy="1689.9" rx="106.8" ry="14.5" fill="url(#gsemi)"/>
<polygon points="1063.7,1604.5 1092.0,1614.3 1065.7,1628.0 1037.5,1619.4" fill="url(#gcubeT)" stroke="#9a9a9a" stroke-width="1.3" stroke-linejoin="round"/>
<polygon points="1037.5,1619.4 1065.7,1628.0 1068.4,1654.7 1040.2,1643.7" fill="url(#gcubeL)" stroke="#9a9a9a" stroke-width="1.3" stroke-linejoin="round"/>
<polygon points="1065.7,1628.0 1092.0,1614.3 1093.1,1636.6 1068.4,1654.7" fill="url(#gcubeR)" stroke="#9a9a9a" stroke-width="1.3" stroke-linejoin="round"/>
<path d="M1118.6 1645 L1118.6 1686.8 M1114.6 1651.5 L1118.6 1645 L1122.6 1651.5 M1114.6 1680.3 L1118.6 1686.8 L1122.6 1680.3" stroke="#222" stroke-width="1.4" fill="none" stroke-linejoin="round" stroke-linecap="round"/>
<text x="1113.8" y="1630.7" font-size="28.5" fill="#111">III-V</text>
<text x="1130.5" y="1672" font-size="28.5" fill="#111">g</text>
<text x="963.8" y="1739.7" font-size="28.5" fill="#111">Semi-infinite gold</text>
<text x="385" y="1861.5" font-size="37" fill="#111" font-weight="bold">f</text>
<text x="468.5" y="1883.6" font-size="28.5" fill="#222" text-anchor="middle">Top</text>
<g clip-path="url(#cf1)">
<rect x="383" y="1902" width="167" height="133.5" fill="url(#fbg)"/>
<ellipse cx="467.5" cy="1965" rx="66" ry="40" fill="#6a9cc6" filter="url(#bl12)" opacity="0.95"/>
<ellipse cx="425" cy="1967" rx="17" ry="13" fill="#8fe0cc" filter="url(#bl6)"/>
<ellipse cx="510.5" cy="1967" rx="17" ry="13" fill="#8fe0cc" filter="url(#bl6)"/>
<polygon points="422.9,1967 464.7,1940.1 512.7,1967 471.6,1994.4" fill="#78cec4" stroke="#7cd2c6" stroke-width="5" stroke-linejoin="round" filter="url(#bl3)"/>
<polygon points="422.9,1967 464.7,1940.1 512.7,1967 471.6,1994.4" fill="#80d6c8" filter="url(#bl1_5)"/>
<rect x="452" y="1944" width="32" height="48" fill="#60b2b8" opacity="0.8" filter="url(#bl3)"/>
<path d="M448.816 1950.32 L422.9 1967 L453.094 1983.99" stroke="#c6f6d4" stroke-width="9" fill="none" stroke-linecap="round" stroke-linejoin="round" filter="url(#bl3)"/>
<path d="M448.816 1950.32 L422.9 1967 L453.094 1983.99" stroke="#f4fbd0" stroke-width="3.2" fill="none" stroke-linecap="round" stroke-linejoin="round" filter="url(#bl1)"/>
<path d="M482.94 1950.32 L512.7 1967 L487.218 1983.99" stroke="#c6f6d4" stroke-width="9" fill="none" stroke-linecap="round" stroke-linejoin="round" filter="url(#bl3)"/>
<path d="M482.94 1950.32 L512.7 1967 L487.218 1983.99" stroke="#f4fbd0" stroke-width="3.2" fill="none" stroke-linecap="round" stroke-linejoin="round" filter="url(#bl1)"/>
<path d="M427.5 1964.3 L423 1967 L427.5 1969.8" stroke="#d8402c" stroke-width="1.4" fill="none"/>
<path d="M508.5 1964 L512.5 1967 L508.5 1970.2" stroke="#d8402c" stroke-width="1.4" fill="none"/>
<polygon points="422.9,1967 464.7,1940.1 512.7,1967 471.6,1994.4" fill="none" stroke="#fff" stroke-width="1.3" stroke-dasharray="5 2.6"/>
</g>
<text x="467" y="2073.4" font-size="28.5" fill="#222" text-anchor="middle">Side</text>
<g clip-path="url(#cf2)">
<rect x="383" y="2083" width="167" height="88" fill="url(#fbg2)"/>
<ellipse cx="465.5" cy="2132" rx="62" ry="34" fill="#6aa0c2" filter="url(#bl12)" opacity="0.9"/>
<rect x="423" y="2117" width="85" height="24" fill="#6cb0c2" filter="url(#bl4)"/>
<rect x="421" y="2138" width="89" height="19" fill="#7cd0c6" filter="url(#bl3)"/>
<path d="M425 2139 Q445 2128 465 2131 Q486 2128 506 2139" stroke="#8adccc" stroke-width="5" fill="none" filter="url(#bl3)"/>
<rect x="423.5" y="2140.6" width="84.3" height="14.6" fill="none" stroke="#b8f4d2" stroke-width="7" filter="url(#bl3)"/>
<rect x="423.5" y="2140.6" width="84.3" height="14.6" fill="none" stroke="#eefad0" stroke-width="2.4" filter="url(#bl1)"/>
<ellipse cx="465.5" cy="2148" rx="22" ry="4.5" fill="#5fa6b6" filter="url(#bl2)"/>
<ellipse cx="465.5" cy="2135" rx="10" ry="5" fill="#5fa6b6" filter="url(#bl3)" opacity="0.8"/>
<path d="M423.3 2117 L423.3 2140 M507.8 2117 L507.8 2140 M423.3 2116.8 L507.8 2116.8" stroke="#a6ecd0" stroke-width="4" fill="none" filter="url(#bl2)"/>
<path d="M424 2138 L424 2143 M424 2151 L424 2155 M507.2 2138 L507.2 2143 M507.2 2151 L507.2 2155" stroke="#dc4a30" stroke-width="1.6" fill="none"/>
<path d="M423.3 2116.8 L507.8 2116.8 M423.3 2140.6 L507.8 2140.6 M425 2155.2 L506 2155.2" stroke="#fff" stroke-width="1.4" stroke-dasharray="5.2 2.6" fill="none"/>
<path d="M423.3 2118 L423.3 2139 M507.8 2118 L507.8 2139" stroke="#fff" stroke-width="1.2" stroke-dasharray="5.2 2.6" fill="none" opacity="0.9"/>
</g>
<line x1="383.2" y1="2182.2" x2="431.3" y2="2182.2" stroke="#111" stroke-width="2.6"/>
<text x="382.5" y="2208.5" font-size="24.7" fill="#444">250 nm</text>
<rect x="421" y="2232.2" width="82" height="8" fill="url(#cbh)"/>
<text x="402" y="2263" font-size="24.7" fill="#444">min</text>
<text x="483.7" y="2263" font-size="24.7" fill="#444">max</text>
<text x="462" y="2293" font-size="28.5" fill="#444" text-anchor="middle">|E|</text>
<text x="953.5" y="1864" font-size="37" fill="#111" font-weight="bold">h</text>
<text x="1063.7" y="1887.5" font-size="28.5" fill="#222" text-anchor="middle">Top</text>
<g clip-path="url(#ch1)">
<rect x="979" y="1902" width="167.5" height="133.5" fill="#88dccb"/>
<ellipse cx="1062" cy="1969" rx="64" ry="42" fill="#a4ecd0" filter="url(#bl12)"/>
<polygon points="1018.5,1967.8 1060.1,1943.5 1105.5,1969.2 1064.8,1995.4" fill="#f2f8c0" stroke="#f2f8c0" stroke-width="13" stroke-linejoin="round" filter="url(#bl4)"/>
<polygon points="1018.5,1967.8 1060.1,1943.5 1105.5,1969.2 1064.8,1995.4" fill="#f6e4a4" stroke="#f6e4a4" stroke-width="3" stroke-linejoin="round" filter="url(#bl1_5)"/>
<g clip-path="url(#crh)">
<polygon points="1018.5,1967.8 1060.1,1943.5 1105.5,1969.2 1064.8,1995.4" fill="#e4604a"/>
<ellipse cx="1041" cy="1969" rx="13" ry="15" fill="#bc2c44" filter="url(#bl4)"/>
<ellipse cx="1084" cy="1969" rx="13" ry="15" fill="#bc2c44" filter="url(#bl4)"/>
<ellipse cx="1062.5" cy="1969" rx="9.5" ry="13" fill="none" stroke="#ec7c58" stroke-width="3" filter="url(#bl1_5)"/>
<ellipse cx="1062.5" cy="1969" rx="5" ry="8" fill="#dc4c44" filter="url(#bl2)"/>
<polygon points="1018.5,1967.8 1060.1,1943.5 1105.5,1969.2 1064.8,1995.4" fill="none" stroke="#f2a078" stroke-width="5" filter="url(#bl2)"/>
</g>
<polygon points="1018.5,1967.8 1060.1,1943.5 1105.5,1969.2 1064.8,1995.4" fill="none" stroke="#fff" stroke-width="1.3" stroke-dasharray="5 2.6"/>
</g>
<text x="1063" y="2077.2" font-size="28.5" fill="#222" text-anchor="middle">Side</text>
<g clip-path="url(#ch2)">
<rect x="979" y="2086.5" width="167.5" height="58" fill="url(#hside)"/>
<rect x="972" y="2120" width="22" height="30" fill="#5c9cb0" filter="url(#bl8)"/>
<rect x="1132" y="2120" width="22" height="30" fill="#5c9cb0" filter="url(#bl8)"/>
<ellipse cx="1062.5" cy="2118" rx="58" ry="26" fill="#b4f2d0" filter="url(#bl8)"/>
<path d="M1017 2146 L1017 2120 Q1062.5 2104 1108 2120 L1108 2146 Z" fill="#f2f8c0" filter="url(#bl4)"/>
<path d="M1021 2144 L1021 2120 Q1062.5 2109 1104.4 2120 L1104.4 2144 Z" fill="#f4c898" filter="url(#bl1_5)"/>
<path d="M1022 2120 Q1062.5 2110.5 1103.5 2120 Z" fill="#ee9468" filter="url(#bl1)"/>
<path d="M1050 2122 L1075 2122 L1098 2144 L1027 2144 Z" fill="#e4584a" filter="url(#bl4)"/>
<ellipse cx="1041" cy="2141" rx="12" ry="5" fill="#cc3a44" filter="url(#bl3)"/>
<ellipse cx="1085" cy="2141" rx="12" ry="5" fill="#cc3a44" filter="url(#bl3)"/>
<ellipse cx="1062.5" cy="2126" rx="7" ry="5" fill="#d84848" filter="url(#bl3)"/>
<ellipse cx="1062.5" cy="2139" rx="7" ry="4" fill="#f2a070" filter="url(#bl2)"/>
<rect x="979" y="2143.6" width="167.5" height="34" fill="#5a50b0"/>
<rect x="975" y="2143.6" width="176" height="6" fill="#5e78b4" filter="url(#bl2)" opacity="0.55"/>
<rect x="1021" y="2142.5" width="83.5" height="3" fill="#f2f8cc" filter="url(#bl1)"/>
<path d="M1021 2120.3 L1104.4 2120.3 M1024 2144 L1101 2144" stroke="#fff" stroke-width="1.3" stroke-dasharray="5.2 2.6" fill="none"/>
</g>
<line x1="979.4" y1="2185" x2="1027.4" y2="2185" stroke="#111" stroke-width="2.6"/>
<text x="979" y="2211.6" font-size="24.7" fill="#444">250 nm</text>
<rect x="1021.4" y="2233.6" width="82.7" height="7.8" fill="url(#cbh)"/>
<text x="1002.2" y="2268.5" font-size="24.7" fill="#444">min</text>
<text x="1084.5" y="2268.5" font-size="24.7" fill="#444">max</text>
<text x="1063" y="2291.5" font-size="31" fill="#444" text-anchor="middle">|E|</text>
<text x="1259.5" y="1604.2" font-size="37" fill="#111" font-weight="bold">i</text>
<text x="1354.3" y="1616" font-size="28.5" fill="#444">L=250 nm</text>
<polygon points="1439.7,1670.5 1556.2,1580.9 1671.9,1670.5 1556.2,1760.1" fill="#ebebeb" stroke="#111" stroke-width="2.1" stroke-linejoin="miter"/>
<path d="M1462.4 1653 A28.7 28.7 0 0 1 1462.4 1688" stroke="#111" stroke-width="1.8" fill="none"/>
<text x="1476.5" y="1679" font-size="30" fill="#111">θ</text>
<text x="1590" y="1782" font-size="28.5" fill="#111">Mie scattering</text>
<line x1="1379.6" y1="1792.7" x2="1379.6" y2="2157.8" stroke="#333" stroke-width="1.2"/>
<line x1="1379" y1="2157.4" x2="1739.5" y2="2157.4" stroke="#333" stroke-width="1.2"/>
<text x="1366.2" y="1800.7" font-size="28.5" fill="#111" text-anchor="end">1600</text>
<line x1="1375.4" y1="1829.13" x2="1379.8" y2="1829.13" stroke="#333" stroke-width="1.5"/>
<line x1="1375.4" y1="1865.56" x2="1379.8" y2="1865.56" stroke="#333" stroke-width="1.5"/>
<text x="1366.2" y="1873.56" font-size="28.5" fill="#111" text-anchor="end">1500</text>
<line x1="1375.4" y1="1901.99" x2="1379.8" y2="1901.99" stroke="#333" stroke-width="1.5"/>
<line x1="1375.4" y1="1938.42" x2="1379.8" y2="1938.42" stroke="#333" stroke-width="1.5"/>
<text x="1366.2" y="1946.42" font-size="28.5" fill="#111" text-anchor="end">1400</text>
<line x1="1375.4" y1="1974.85" x2="1379.8" y2="1974.85" stroke="#333" stroke-width="1.5"/>
<line x1="1375.4" y1="2011.28" x2="1379.8" y2="2011.28" stroke="#333" stroke-width="1.5"/>
<text x="1366.2" y="2019.28" font-size="28.5" fill="#111" text-anchor="end">1300</text>
<line x1="1375.4" y1="2047.71" x2="1379.8" y2="2047.71" stroke="#333" stroke-width="1.5"/>
<line x1="1375.4" y1="2084.14" x2="1379.8" y2="2084.14" stroke="#333" stroke-width="1.5"/>
<text x="1366.2" y="2092.14" font-size="28.5" fill="#111" text-anchor="end">1200</text>
<line x1="1375.4" y1="2120.57" x2="1379.8" y2="2120.57" stroke="#333" stroke-width="1.5"/>
<line x1="1375.4" y1="2157" x2="1379.8" y2="2157" stroke="#333" stroke-width="1.5"/>
<text x="1366.2" y="2165" font-size="28.5" fill="#111" text-anchor="end">1100</text>
<line x1="1419.71" y1="2157" x2="1419.71" y2="2161.6" stroke="#333" stroke-width="1.5"/>
<text x="1419.71" y="2191" font-size="28.5" fill="#111" text-anchor="middle">50</text>
<line x1="1499.53" y1="2157" x2="1499.53" y2="2161.6" stroke="#333" stroke-width="1.5"/>
<text x="1499.53" y="2191" font-size="28.5" fill="#111" text-anchor="middle">60</text>
<line x1="1579.36" y1="2157" x2="1579.36" y2="2161.6" stroke="#333" stroke-width="1.5"/>
<text x="1579.36" y="2191" font-size="28.5" fill="#111" text-anchor="middle">70</text>
<line x1="1659.18" y1="2157" x2="1659.18" y2="2161.6" stroke="#333" stroke-width="1.5"/>
<text x="1659.18" y="2191" font-size="28.5" fill="#111" text-anchor="middle">80</text>
<line x1="1739" y1="2157" x2="1739" y2="2161.6" stroke="#333" stroke-width="1.5"/>
<text x="1739" y="2191" font-size="28.5" fill="#111" text-anchor="middle">90</text>
<text x="1283.8" y="1983.5" font-size="28.5" fill="#111" text-anchor="middle" transform="rotate(-90 1283.8 1983.5)">Wavelength (nm)</text>
<text x="1566" y="2227.2" font-size="28.5" fill="#111" text-anchor="middle">Rhombus Angle (θ)</text>
<rect x="1755.8" y="1794.5" width="10.8" height="179" fill="url(#cbi)"/>
<text x="1799.8" y="1881.5" font-size="28.5" fill="#444" text-anchor="middle" transform="rotate(-90 1799.8 1881.5)">Intensity (arb.)</text>
</svg>
</div>
</body></html>
